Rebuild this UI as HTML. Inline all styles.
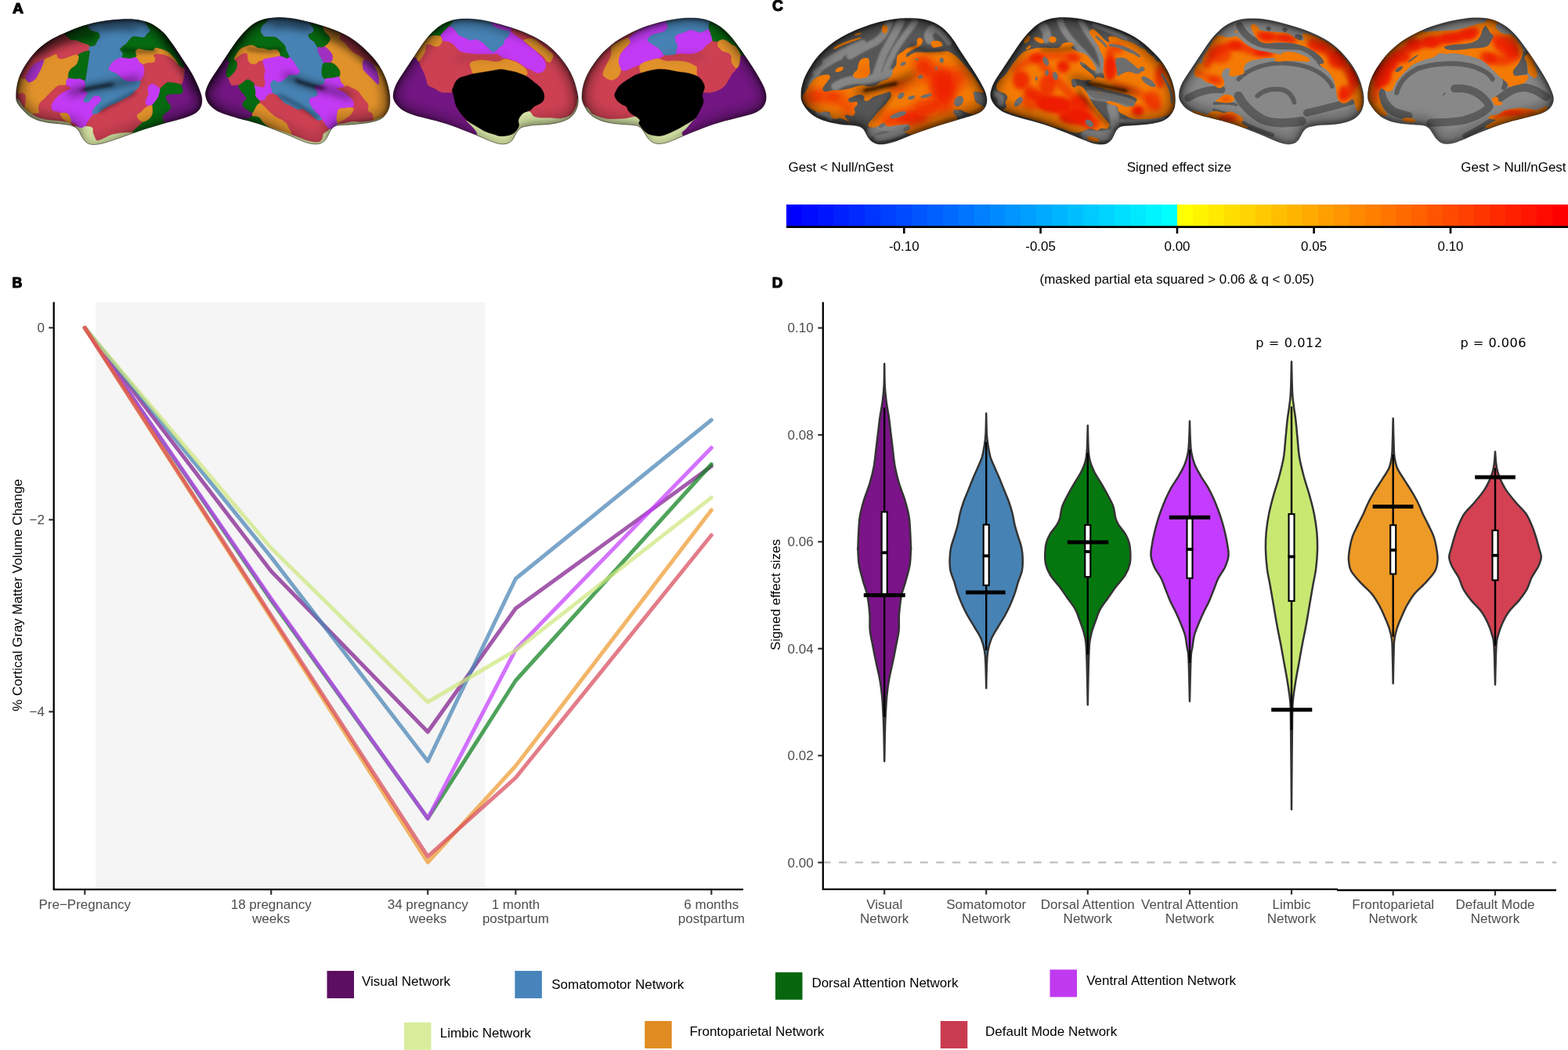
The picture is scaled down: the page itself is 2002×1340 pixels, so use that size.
<!DOCTYPE html>
<html><head><meta charset="utf-8"><title>Figure</title>
<style>
html,body{margin:0;padding:0;background:#fff;}
body{width:2002px;height:1340px;overflow:hidden;font-family:"Liberation Sans",sans-serif;}
svg{display:block;}
text{font-family:"Liberation Sans",sans-serif;}
.ax{fill:#4d4d4d;font-size:17px;}
.bk{fill:#000;font-size:16.95px;}
.lg{fill:#000;font-size:17px;}
.pl{fill:#000;font-size:20px;font-weight:bold;stroke:#000;stroke-width:1.2px;stroke-linejoin:round;vector-effect:non-scaling-stroke;}
.mono{font-family:"DejaVu Sans",sans-serif;font-size:16.2px;fill:#000;}
</style></head><body>
<svg width="2002" height="1340" viewBox="0 0 2002 1340">
<rect width="2002" height="1340" fill="#fff"/>
<text class="pl" transform="matrix(0.9701 0 0 0.96 16.11 16.75)">A</text>
<text class="pl" transform="matrix(0.8852 0 0 0.9420 15.45 366.60)">B</text>
<text class="pl" transform="matrix(0.9580 0 0 0.9859 986.08 14.20)">C</text>
<text class="pl" transform="matrix(0.9390 0 0 0.9420 985.63 366.60)">D</text>
<g shape-rendering="crispEdges"><rect x="1004" y="261.3" width="20.5" height="28" fill="#0000ff"/><rect x="1024" y="261.3" width="20.5" height="28" fill="#000bff"/><rect x="1043.9" y="261.3" width="20.5" height="28" fill="#0015ff"/><rect x="1063.9" y="261.3" width="20.5" height="28" fill="#0020ff"/><rect x="1083.8" y="261.3" width="20.5" height="28" fill="#002aff"/><rect x="1103.8" y="261.3" width="20.5" height="28" fill="#0035ff"/><rect x="1123.8" y="261.3" width="20.5" height="28" fill="#0040ff"/><rect x="1143.7" y="261.3" width="20.5" height="28" fill="#004aff"/><rect x="1163.7" y="261.3" width="20.5" height="28" fill="#0055ff"/><rect x="1183.6" y="261.3" width="20.5" height="28" fill="#0060ff"/><rect x="1203.6" y="261.3" width="20.5" height="28" fill="#006aff"/><rect x="1223.6" y="261.3" width="20.5" height="28" fill="#0075ff"/><rect x="1243.5" y="261.3" width="20.5" height="28" fill="#0080ff"/><rect x="1263.5" y="261.3" width="20.5" height="28" fill="#008aff"/><rect x="1283.4" y="261.3" width="20.5" height="28" fill="#0095ff"/><rect x="1303.4" y="261.3" width="20.5" height="28" fill="#009fff"/><rect x="1323.4" y="261.3" width="20.5" height="28" fill="#00aaff"/><rect x="1343.3" y="261.3" width="20.5" height="28" fill="#00b5ff"/><rect x="1363.3" y="261.3" width="20.5" height="28" fill="#00bfff"/><rect x="1383.2" y="261.3" width="20.5" height="28" fill="#00caff"/><rect x="1403.2" y="261.3" width="20.5" height="28" fill="#00d4ff"/><rect x="1423.2" y="261.3" width="20.5" height="28" fill="#00dfff"/><rect x="1443.1" y="261.3" width="20.5" height="28" fill="#00eaff"/><rect x="1463.1" y="261.3" width="20.5" height="28" fill="#00f4ff"/><rect x="1483" y="261.3" width="20.5" height="28" fill="#00ffff"/><rect x="1503" y="261.3" width="20.5" height="28" fill="#ffff00"/><rect x="1523" y="261.3" width="20.5" height="28" fill="#fff400"/><rect x="1542.9" y="261.3" width="20.5" height="28" fill="#ffea00"/><rect x="1562.9" y="261.3" width="20.5" height="28" fill="#ffdf00"/><rect x="1582.8" y="261.3" width="20.5" height="28" fill="#ffd400"/><rect x="1602.8" y="261.3" width="20.5" height="28" fill="#ffca00"/><rect x="1622.8" y="261.3" width="20.5" height="28" fill="#ffbf00"/><rect x="1642.7" y="261.3" width="20.5" height="28" fill="#ffb500"/><rect x="1662.7" y="261.3" width="20.5" height="28" fill="#ffaa00"/><rect x="1682.6" y="261.3" width="20.5" height="28" fill="#ff9f00"/><rect x="1702.6" y="261.3" width="20.5" height="28" fill="#ff9500"/><rect x="1722.6" y="261.3" width="20.5" height="28" fill="#ff8a00"/><rect x="1742.5" y="261.3" width="20.5" height="28" fill="#ff8000"/><rect x="1762.5" y="261.3" width="20.5" height="28" fill="#ff7500"/><rect x="1782.4" y="261.3" width="20.5" height="28" fill="#ff6a00"/><rect x="1802.4" y="261.3" width="20.5" height="28" fill="#ff6000"/><rect x="1822.4" y="261.3" width="20.5" height="28" fill="#ff5500"/><rect x="1842.3" y="261.3" width="20.5" height="28" fill="#ff4a00"/><rect x="1862.3" y="261.3" width="20.5" height="28" fill="#ff4000"/><rect x="1882.2" y="261.3" width="20.5" height="28" fill="#ff3500"/><rect x="1902.2" y="261.3" width="20.5" height="28" fill="#ff2a00"/><rect x="1922.2" y="261.3" width="20.5" height="28" fill="#ff2000"/><rect x="1942.1" y="261.3" width="20.5" height="28" fill="#ff1500"/><rect x="1962.1" y="261.3" width="20.5" height="28" fill="#ff0b00"/><rect x="1982" y="261.3" width="20.5" height="28" fill="#ff0000"/></g>
<rect x="1004" y="288.3" width="998" height="2.7" fill="#000"/>
<rect x="1153" y="290" width="2.6" height="8" fill="#000"/>
<text class="bk" x="1154.3" y="320.3" text-anchor="middle">-0.10</text>
<rect x="1327.3" y="290" width="2.6" height="8" fill="#000"/>
<text class="bk" x="1328.6" y="320.3" text-anchor="middle">-0.05</text>
<rect x="1501.7" y="290" width="2.6" height="8" fill="#000"/>
<text class="bk" x="1503" y="320.3" text-anchor="middle">0.00</text>
<rect x="1676.3" y="290" width="2.6" height="8" fill="#000"/>
<text class="bk" x="1677.6" y="320.3" text-anchor="middle">0.05</text>
<rect x="1850.7" y="290" width="2.6" height="8" fill="#000"/>
<text class="bk" x="1852" y="320.3" text-anchor="middle">0.10</text>
<text class="bk" x="1006.5" y="218.8">Gest &lt; Null/nGest</text>
<text class="bk" x="1505.5" y="218.5" text-anchor="middle">Signed effect size</text>
<text class="bk" x="1999.5" y="218.8" text-anchor="end">Gest &gt; Null/nGest</text>
<text class="bk" x="1502.7" y="361.8" text-anchor="middle">(masked partial eta squared &gt; 0.06 &amp; q &lt; 0.05)</text>
<rect x="122.3" y="386" width="497" height="748.5" fill="#f5f5f5"/>
<path d="M68.7 385.5V1135.2H949" fill="none" stroke="#000" stroke-width="2.3"/>
<path d="M62.3 418.3H68" stroke="#333" stroke-width="2.2"/>
<text class="ax" x="57" y="424.2" text-anchor="end">0</text>
<path d="M62.3 663.3H68" stroke="#333" stroke-width="2.2"/>
<text class="ax" x="57" y="669.2" text-anchor="end">−2</text>
<path d="M62.3 908.3H68" stroke="#333" stroke-width="2.2"/>
<text class="ax" x="57" y="914.2" text-anchor="end">−4</text>
<path d="M108.3 1136V1141.8" stroke="#333" stroke-width="2.2"/>
<text class="ax" x="108.3" y="1159.5" text-anchor="middle">Pre−Pregnancy</text>
<path d="M346.2 1136V1141.8" stroke="#333" stroke-width="2.2"/>
<text class="ax" x="346.2" y="1159.5" text-anchor="middle">18 pregnancy</text>
<text class="ax" x="346.2" y="1177.5" text-anchor="middle">weeks</text>
<path d="M546.2 1136V1141.8" stroke="#333" stroke-width="2.2"/>
<text class="ax" x="546.2" y="1159.5" text-anchor="middle">34 pregnancy</text>
<text class="ax" x="546.2" y="1177.5" text-anchor="middle">weeks</text>
<path d="M658.4 1136V1141.8" stroke="#333" stroke-width="2.2"/>
<text class="ax" x="658.4" y="1159.5" text-anchor="middle">1 month</text>
<text class="ax" x="658.4" y="1177.5" text-anchor="middle">postpartum</text>
<path d="M908.3 1136V1141.8" stroke="#333" stroke-width="2.2"/>
<text class="ax" x="908.3" y="1159.5" text-anchor="middle">6 months</text>
<text class="ax" x="908.3" y="1177.5" text-anchor="middle">postpartum</text>
<text class="bk" transform="translate(28.3 759.5) rotate(-90)" text-anchor="middle">% Cortical Gray Matter Volume Change</text>
<path d="M108.3 418.3L346.2 729L546.2 934L658.4 776.5L908.3 595" fill="none" stroke="#7f1b8c" stroke-opacity="0.72" stroke-width="5" stroke-linecap="round" stroke-linejoin="round"/>
<path d="M108.3 418.3L346.2 711L546.2 971.5L658.4 738.5L908.3 536" fill="none" stroke="#4682b4" stroke-opacity="0.72" stroke-width="5" stroke-linecap="round" stroke-linejoin="round"/>
<path d="M108.3 418.3L346.2 766L546.2 1044.5L658.4 868.5L908.3 592.5" fill="none" stroke="#0b7f1c" stroke-opacity="0.72" stroke-width="5" stroke-linecap="round" stroke-linejoin="round"/>
<path d="M108.3 418.3L346.2 764L546.2 1044.5L658.4 829L908.3 571.5" fill="none" stroke="#c43cff" stroke-opacity="0.72" stroke-width="5" stroke-linecap="round" stroke-linejoin="round"/>
<path d="M108.3 418.3L346.2 699.5L546.2 896L658.4 830L908.3 635" fill="none" stroke="#cde87e" stroke-opacity="0.72" stroke-width="5" stroke-linecap="round" stroke-linejoin="round"/>
<path d="M108.3 418.3L346.2 788.5L546.2 1100.5L658.4 977.5L908.3 651" fill="none" stroke="#ee9a2e" stroke-opacity="0.72" stroke-width="5" stroke-linecap="round" stroke-linejoin="round"/>
<path d="M108.3 418.3L346.2 785.5L546.2 1093L658.4 992.5L908.3 683" fill="none" stroke="#d84a5a" stroke-opacity="0.72" stroke-width="5" stroke-linecap="round" stroke-linejoin="round"/>
<path d="M1050.4 1100.7H1987.3" fill="none" stroke="#bebebe" stroke-width="2.3" stroke-dasharray="10.2 10.5"/>
<path d="M1050.8 385.5V1134.8H1708" fill="none" stroke="#000" stroke-width="2.3"/>
<path d="M1707 1136H1987" fill="none" stroke="#000" stroke-width="2.3"/>
<path d="M1044.3 418.5H1050" stroke="#333" stroke-width="2.2"/>
<text class="ax" x="1038.7" y="424.4" text-anchor="end">0.10</text>
<path d="M1044.3 555H1050" stroke="#333" stroke-width="2.2"/>
<text class="ax" x="1038.7" y="560.9" text-anchor="end">0.08</text>
<path d="M1044.3 691.4H1050" stroke="#333" stroke-width="2.2"/>
<text class="ax" x="1038.7" y="697.3" text-anchor="end">0.06</text>
<path d="M1044.3 827.8H1050" stroke="#333" stroke-width="2.2"/>
<text class="ax" x="1038.7" y="833.7" text-anchor="end">0.04</text>
<path d="M1044.3 964.3H1050" stroke="#333" stroke-width="2.2"/>
<text class="ax" x="1038.7" y="970.2" text-anchor="end">0.02</text>
<path d="M1044.3 1100.7H1050" stroke="#333" stroke-width="2.2"/>
<text class="ax" x="1038.7" y="1106.6" text-anchor="end">0.00</text>
<text class="bk" transform="translate(996 759) rotate(-90)" text-anchor="middle">Signed effect sizes</text>
<path d="M1129.2 1135.8V1141.6" stroke="#333" stroke-width="2.2"/>
<text class="ax" x="1129.2" y="1160" text-anchor="middle">Visual</text>
<text class="ax" x="1129.2" y="1178" text-anchor="middle">Network</text>
<path d="M1259.2 1135.8V1141.6" stroke="#333" stroke-width="2.2"/>
<text class="ax" x="1259.2" y="1160" text-anchor="middle">Somatomotor</text>
<text class="ax" x="1259.2" y="1178" text-anchor="middle">Network</text>
<path d="M1388.8 1135.8V1141.6" stroke="#333" stroke-width="2.2"/>
<text class="ax" x="1388.8" y="1160" text-anchor="middle">Dorsal Attention</text>
<text class="ax" x="1388.8" y="1178" text-anchor="middle">Network</text>
<path d="M1519 1135.8V1141.6" stroke="#333" stroke-width="2.2"/>
<text class="ax" x="1519" y="1160" text-anchor="middle">Ventral Attention</text>
<text class="ax" x="1519" y="1178" text-anchor="middle">Network</text>
<path d="M1649 1135.8V1141.6" stroke="#333" stroke-width="2.2"/>
<text class="ax" x="1649" y="1160" text-anchor="middle">Limbic</text>
<text class="ax" x="1649" y="1178" text-anchor="middle">Network</text>
<path d="M1778.7 1137V1142.8" stroke="#333" stroke-width="2.2"/>
<text class="ax" x="1778.7" y="1160" text-anchor="middle">Frontoparietal</text>
<text class="ax" x="1778.7" y="1178" text-anchor="middle">Network</text>
<path d="M1909 1137V1142.8" stroke="#333" stroke-width="2.2"/>
<text class="ax" x="1909" y="1160" text-anchor="middle">Default Mode</text>
<text class="ax" x="1909" y="1178" text-anchor="middle">Network</text>
<path d="M1129.2 464.2C1129.3 468.8 1129.3 483.7 1129.7 491.8C1130.1 499.9 1130.8 505.7 1131.7 512.7C1132.6 519.6 1134.1 526.6 1135.1 533.6C1136 540.5 1136.7 547.5 1137.6 554.5C1138.4 561.4 1139.2 568.4 1140.1 575.4C1140.9 582.3 1141.5 589.3 1142.8 596.3C1144.1 603.2 1145.9 610.2 1148 617.2C1150.1 624.1 1153.2 631.1 1155.3 638C1157.4 645 1159.4 652 1160.5 658.9C1161.7 665.9 1161.8 672.9 1162.2 679.8C1162.6 686.8 1162.9 697.4 1163 700.7C1163.2 704.1 1163.3 696.6 1163 700C1162.8 703.4 1162.7 713.9 1161.6 720.9C1160.5 727.9 1158.1 735.3 1156.4 741.8C1154.6 748.2 1152.5 752.6 1151.1 759.5C1149.7 766.5 1148.6 776.1 1148 783.6C1147.4 791.1 1148.3 797.5 1147.6 804.5C1146.9 811.4 1145.1 818.4 1143.8 825.4C1142.5 832.3 1141.1 839.3 1139.6 846.3C1138.2 853.2 1136.3 860.2 1135.1 867.2C1133.8 874.1 1133 881.1 1132.3 888C1131.6 895 1131.3 902 1130.9 908.9C1130.5 915.9 1130.3 919.4 1130 929.8C1129.8 940.3 1129.3 964.7 1129.2 971.6L1129.2 971.6C1129.1 964.7 1128.6 940.3 1128.4 929.8C1128.1 919.4 1127.9 915.9 1127.5 908.9C1127.1 902 1126.8 895 1126.1 888C1125.4 881.1 1124.6 874.1 1123.3 867.2C1122.1 860.2 1120.2 853.2 1118.8 846.3C1117.3 839.3 1115.9 832.3 1114.6 825.4C1113.3 818.4 1111.5 811.4 1110.8 804.5C1110.1 797.5 1111 791.1 1110.4 783.6C1109.8 776.1 1108.7 766.5 1107.3 759.5C1105.9 752.6 1103.8 748.2 1102 741.8C1100.3 735.3 1097.9 727.9 1096.8 720.9C1095.7 713.9 1095.6 703.4 1095.4 700C1095.1 696.6 1095.2 704.1 1095.4 700.7C1095.5 697.4 1095.8 686.8 1096.2 679.8C1096.6 672.9 1096.7 665.9 1097.9 658.9C1099 652 1101 645 1103.1 638C1105.2 631.1 1108.3 624.1 1110.4 617.2C1112.5 610.2 1114.3 603.2 1115.6 596.3C1116.9 589.3 1117.5 582.3 1118.3 575.4C1119.2 568.4 1120 561.4 1120.8 554.5C1121.7 547.5 1122.4 540.5 1123.3 533.6C1124.3 526.6 1125.8 519.6 1126.7 512.7C1127.6 505.7 1128.3 499.9 1128.7 491.8C1129.1 483.7 1129.1 468.8 1129.2 464.2Z" fill="#7b1389" stroke="#333" stroke-width="2.5" stroke-linejoin="round"/>
<path d="M1129.2 520V915" stroke="#000" stroke-width="2.4"/>
<rect x="1125.7" y="653.3" width="7" height="105.2" fill="#fff" stroke="#000" stroke-width="2.1"/>
<rect x="1124.7" y="703.4" width="9" height="3.8" fill="#000"/>
<rect x="1102.8" y="757.1" width="52.9" height="5" fill="#000"/>
<path d="M1259.2 527.5C1259.3 531.8 1259.5 546.9 1259.9 553.7C1260.3 560.4 1260.8 563.4 1261.5 568.2C1262.3 573.1 1263 577.9 1264.4 582.8C1265.9 587.6 1268.2 592.5 1270.3 597.3C1272.3 602.2 1274.6 607 1276.7 611.9C1278.7 616.7 1280.5 621.6 1282.5 626.4C1284.4 631.3 1286.6 636.1 1288.3 641C1290 645.8 1291.5 650.7 1292.7 655.5C1293.9 660.4 1294.4 665.2 1295.6 670.1C1296.8 674.9 1298.5 679.8 1299.9 684.6C1301.4 689.5 1303.3 694.3 1304.3 699.2C1305.3 704 1305.7 708.9 1305.8 713.7C1305.9 718.6 1305.9 723.4 1304.9 728.3C1303.9 733.1 1301.5 738 1299.9 742.8C1298.4 747.7 1297.3 752.5 1295.6 757.4C1293.9 762.2 1291.9 767.1 1289.8 771.9C1287.6 776.8 1285.2 781.6 1282.5 786.5C1279.8 791.3 1276.6 796.2 1273.8 801C1270.9 805.9 1267.6 810.7 1265.6 815.6C1263.6 820.4 1262.4 825.3 1261.5 830.1C1260.6 835 1260.5 836.7 1260.1 844.7C1259.7 852.7 1259.3 872.6 1259.2 878.2L1259.2 878.2C1259.1 872.6 1258.7 852.7 1258.3 844.7C1257.9 836.7 1257.8 835 1256.9 830.1C1256 825.3 1254.8 820.4 1252.8 815.6C1250.8 810.7 1247.5 805.9 1244.6 801C1241.8 796.2 1238.6 791.3 1235.9 786.5C1233.2 781.6 1230.8 776.8 1228.6 771.9C1226.5 767.1 1224.5 762.2 1222.8 757.4C1221.1 752.5 1220 747.7 1218.5 742.8C1216.9 738 1214.5 733.1 1213.5 728.3C1212.5 723.4 1212.5 718.6 1212.6 713.7C1212.7 708.9 1213.1 704 1214.1 699.2C1215.1 694.3 1217 689.5 1218.5 684.6C1219.9 679.8 1221.6 674.9 1222.8 670.1C1224 665.2 1224.5 660.4 1225.7 655.5C1226.9 650.7 1228.4 645.8 1230.1 641C1231.8 636.1 1234 631.3 1235.9 626.4C1237.9 621.6 1239.7 616.7 1241.7 611.9C1243.8 607 1246.1 602.2 1248.1 597.3C1250.2 592.5 1252.5 587.6 1254 582.8C1255.4 577.9 1256.1 573.1 1256.9 568.2C1257.6 563.4 1258.1 560.4 1258.5 553.7C1258.9 546.9 1259.1 531.8 1259.2 527.5Z" fill="#4682b4" stroke="#333" stroke-width="2.5" stroke-linejoin="round"/>
<path d="M1259.2 564V830" stroke="#000" stroke-width="2.4"/>
<rect x="1255.7" y="669.6" width="7" height="77.4" fill="#fff" stroke="#000" stroke-width="2.1"/>
<rect x="1254.7" y="707.5" width="9" height="3.8" fill="#000"/>
<rect x="1233" y="753.5" width="50.7" height="5" fill="#000"/>
<path d="M1388.8 543.1C1388.9 548.2 1389.2 566.1 1389.7 573.7C1390.2 581.2 1390.4 583.4 1391.7 588.2C1393 593.1 1395.1 597.9 1397.5 602.8C1400 607.6 1403.4 612.5 1406.3 617.3C1409.1 622.2 1411.9 627 1414.4 631.9C1416.9 636.7 1419.7 641.6 1421.4 646.4C1423 651.3 1423.2 657.1 1424.3 661C1425.4 664.8 1426 666.3 1428.1 669.7C1430.2 673.1 1434.5 677.5 1436.8 681.3C1439.1 685.2 1440.7 689.1 1441.8 693C1442.8 696.9 1443.1 700.3 1443.2 704.6C1443.4 709 1443.7 714.3 1442.6 719.2C1441.6 724 1439.7 728.9 1436.8 733.7C1433.9 738.6 1428.8 743.4 1425.2 748.3C1421.5 753.1 1418.4 758 1415 762.8C1411.6 767.7 1407.5 772.5 1404.8 777.4C1402.1 782.2 1400.8 787.1 1399 791.9C1397.2 796.8 1395.3 801.6 1394 806.5C1392.7 811.3 1391.8 813.8 1391.1 821C1390.4 828.3 1390.2 837 1389.8 850.1C1389.4 863.2 1389 891.4 1388.8 899.6L1388.8 899.6C1388.6 891.4 1388.2 863.2 1387.8 850.1C1387.4 837 1387.2 828.3 1386.5 821C1385.8 813.8 1384.9 811.3 1383.6 806.5C1382.3 801.6 1380.4 796.8 1378.6 791.9C1376.8 787.1 1375.5 782.2 1372.8 777.4C1370.1 772.5 1366 767.7 1362.6 762.8C1359.2 758 1356.1 753.1 1352.4 748.3C1348.8 743.4 1343.7 738.6 1340.8 733.7C1337.9 728.9 1336 724 1335 719.2C1333.9 714.3 1334.2 709 1334.4 704.6C1334.5 700.3 1334.8 696.9 1335.8 693C1336.9 689.1 1338.5 685.2 1340.8 681.3C1343.1 677.5 1347.4 673.1 1349.5 669.7C1351.6 666.3 1352.2 664.8 1353.3 661C1354.4 657.1 1354.6 651.3 1356.2 646.4C1357.9 641.6 1360.7 636.7 1363.2 631.9C1365.7 627 1368.5 622.2 1371.3 617.3C1374.2 612.5 1377.6 607.6 1380.1 602.8C1382.5 597.9 1384.6 593.1 1385.9 588.2C1387.2 583.4 1387.4 581.2 1387.9 573.7C1388.4 566.1 1388.7 548.2 1388.8 543.1Z" fill="#04780e" stroke="#333" stroke-width="2.5" stroke-linejoin="round"/>
<path d="M1388.8 578V835.6" stroke="#000" stroke-width="2.4"/>
<rect x="1385.3" y="670" width="7" height="66.2" fill="#fff" stroke="#000" stroke-width="2.1"/>
<rect x="1384.3" y="702.1" width="9" height="3.8" fill="#000"/>
<rect x="1362.8" y="689.5" width="52.4" height="5" fill="#000"/>
<path d="M1519 537.5C1519.1 541.8 1519.5 556.9 1519.9 563.7C1520.3 570.4 1520.4 573.4 1521.3 578.2C1522.2 583.1 1523.5 587.9 1525.4 592.8C1527.3 597.6 1530.2 602.5 1533 607.3C1535.8 612.2 1539.5 617 1542.3 621.9C1545 626.7 1547.4 631.6 1549.6 636.4C1551.7 641.3 1553.6 646.1 1555.4 651C1557.2 655.8 1558.9 660.7 1560.3 665.5C1561.8 670.4 1563 675.2 1564.1 680.1C1565.2 684.9 1566.3 689.8 1567 694.6C1567.7 699.5 1569 704.3 1568.5 709.2C1568 714 1566.3 718.9 1564.1 723.7C1561.9 728.6 1557.8 733.4 1555.4 738.3C1553 743.1 1551.5 748 1549.6 752.8C1547.6 757.7 1545.9 762.5 1543.7 767.4C1541.6 772.2 1538.7 777.1 1536.5 781.9C1534.2 786.8 1532 791.6 1530.1 796.5C1528.1 801.3 1526.1 806.2 1524.8 811C1523.6 815.9 1523.2 820.7 1522.5 825.6C1521.8 830.4 1521 828.6 1520.5 840.1C1519.9 851.7 1519.2 885.7 1519 894.9L1519 894.9C1518.8 885.7 1518.1 851.7 1517.5 840.1C1517 828.6 1516.2 830.4 1515.5 825.6C1514.8 820.7 1514.4 815.9 1513.2 811C1511.9 806.2 1509.9 801.3 1507.9 796.5C1506 791.6 1503.8 786.8 1501.5 781.9C1499.3 777.1 1496.4 772.2 1494.3 767.4C1492.1 762.5 1490.4 757.7 1488.4 752.8C1486.5 748 1485 743.1 1482.6 738.3C1480.2 733.4 1476.1 728.6 1473.9 723.7C1471.7 718.9 1470 714 1469.5 709.2C1469 704.3 1470.3 699.5 1471 694.6C1471.7 689.8 1472.8 684.9 1473.9 680.1C1475 675.2 1476.2 670.4 1477.7 665.5C1479.1 660.7 1480.8 655.8 1482.6 651C1484.4 646.1 1486.3 641.3 1488.4 636.4C1490.6 631.6 1493 626.7 1495.7 621.9C1498.5 617 1502.2 612.2 1505 607.3C1507.8 602.5 1510.7 597.6 1512.6 592.8C1514.5 587.9 1515.8 583.1 1516.7 578.2C1517.6 573.4 1517.7 570.4 1518.1 563.7C1518.5 556.9 1518.9 541.8 1519 537.5Z" fill="#c43cff" stroke="#333" stroke-width="2.5" stroke-linejoin="round"/>
<path d="M1519 573.8V846" stroke="#000" stroke-width="2.4"/>
<rect x="1515.5" y="661.3" width="7" height="76.6" fill="#fff" stroke="#000" stroke-width="2.1"/>
<rect x="1514.5" y="699.1" width="9" height="3.8" fill="#000"/>
<rect x="1492.8" y="657.8" width="52.4" height="5" fill="#000"/>
<path d="M1649 461.5C1649.2 467.9 1649.5 490.2 1650 499.7C1650.4 509.3 1651.2 512.9 1651.9 518.8C1652.6 524.8 1653.5 528.8 1654.3 535.6C1655.1 542.3 1655.8 551.5 1656.6 559.4C1657.4 567.4 1657.7 575.4 1659 583.3C1660.3 591.3 1662.4 599.3 1664.5 607.2C1666.6 615.2 1669.5 623.2 1671.7 631.1C1673.9 639.1 1676.1 647 1677.7 655C1679.3 663 1680.5 670.9 1681.3 678.9C1682 686.9 1682.2 694.8 1682 702.8C1681.8 710.7 1681.1 718.8 1680.1 726.7C1679 734.5 1677.1 742.1 1675.8 750C1674.4 757.9 1673 765.9 1671.7 773.9C1670.3 781.9 1669.1 789.8 1667.6 797.8C1666.2 805.7 1664.4 813.7 1662.9 821.7C1661.3 829.6 1660 837.6 1658.6 845.6C1657.1 853.5 1655.5 861.5 1654.3 869.4C1653 877.4 1651.6 885.4 1650.9 893.3C1650.2 901.3 1650.3 893.9 1650 917.2C1649.6 940.5 1649.2 1013.8 1649 1033.1L1649 1033.1C1648.8 1013.8 1648.4 940.5 1648 917.2C1647.7 893.9 1647.8 901.3 1647.1 893.3C1646.4 885.4 1645 877.4 1643.7 869.4C1642.5 861.5 1640.9 853.5 1639.4 845.6C1638 837.6 1636.7 829.6 1635.1 821.7C1633.6 813.7 1631.8 805.7 1630.4 797.8C1628.9 789.8 1627.7 781.9 1626.3 773.9C1625 765.9 1623.6 757.9 1622.2 750C1620.9 742.1 1619 734.5 1617.9 726.7C1616.9 718.8 1616.2 710.7 1616 702.8C1615.8 694.8 1616 686.9 1616.7 678.9C1617.5 670.9 1618.7 663 1620.3 655C1621.9 647 1624.1 639.1 1626.3 631.1C1628.5 623.2 1631.4 615.2 1633.5 607.2C1635.6 599.3 1637.7 591.3 1639 583.3C1640.3 575.4 1640.6 567.4 1641.4 559.4C1642.2 551.5 1642.9 542.3 1643.7 535.6C1644.5 528.8 1645.4 524.8 1646.1 518.8C1646.8 512.9 1647.6 509.3 1648 499.7C1648.5 490.2 1648.8 467.9 1649 461.5Z" fill="#c8e871" stroke="#333" stroke-width="2.5" stroke-linejoin="round"/>
<path d="M1649 518.8V931.6" stroke="#000" stroke-width="2.4"/>
<rect x="1645.5" y="656" width="7" height="111" fill="#fff" stroke="#000" stroke-width="2.1"/>
<rect x="1644.5" y="708.5" width="9" height="3.8" fill="#000"/>
<rect x="1623.2" y="903.3" width="52.1" height="5" fill="#000"/>
<path d="M1778.7 533.9C1778.8 539.6 1779.3 560.1 1779.6 568.2C1779.9 576.4 1779.7 577.9 1780.4 582.8C1781.2 587.6 1781.9 592.5 1783.9 597.3C1786 602.2 1789.7 607 1792.7 611.9C1795.7 616.7 1799.1 621.6 1802 626.4C1804.9 631.3 1807.7 636.1 1810.1 641C1812.6 645.8 1814.3 650.7 1816.5 655.5C1818.8 660.4 1821.5 665.2 1823.8 670.1C1826.1 674.9 1828.8 679.8 1830.5 684.6C1832.2 689.5 1833.2 694.3 1834 699.2C1834.8 704 1835.7 708.9 1835.5 713.7C1835.2 718.6 1835 723.4 1832.5 728.3C1830.1 733.1 1825.3 738 1820.9 742.8C1816.5 747.7 1810.4 752.5 1806.3 757.4C1802.3 762.2 1799.5 767.1 1796.7 771.9C1794 776.8 1791.9 781.6 1789.8 786.5C1787.6 791.3 1785.5 796.2 1783.9 801C1782.4 805.9 1781.2 810.7 1780.4 815.6C1779.7 820.4 1779.9 820.7 1779.6 830.1C1779.3 839.6 1778.8 865.3 1778.7 872.3L1778.7 872.3C1778.6 865.3 1778.1 839.6 1777.8 830.1C1777.5 820.7 1777.7 820.4 1777 815.6C1776.2 810.7 1775 805.9 1773.5 801C1771.9 796.2 1769.8 791.3 1767.6 786.5C1765.5 781.6 1763.4 776.8 1760.7 771.9C1757.9 767.1 1755.1 762.2 1751.1 757.4C1747 752.5 1740.9 747.7 1736.5 742.8C1732.1 738 1727.3 733.1 1724.9 728.3C1722.4 723.4 1722.2 718.6 1721.9 713.7C1721.7 708.9 1722.6 704 1723.4 699.2C1724.2 694.3 1725.2 689.5 1726.9 684.6C1728.6 679.8 1731.3 674.9 1733.6 670.1C1735.9 665.2 1738.6 660.4 1740.9 655.5C1743.1 650.7 1744.8 645.8 1747.3 641C1749.7 636.1 1752.5 631.3 1755.4 626.4C1758.3 621.6 1761.7 616.7 1764.7 611.9C1767.7 607 1771.4 602.2 1773.5 597.3C1775.5 592.5 1776.2 587.6 1777 582.8C1777.7 577.9 1777.5 576.4 1777.8 568.2C1778.1 560.1 1778.6 539.6 1778.7 533.9Z" fill="#ee9a26" stroke="#333" stroke-width="2.5" stroke-linejoin="round"/>
<path d="M1778.7 579.8V812.7" stroke="#000" stroke-width="2.4"/>
<rect x="1775.2" y="670.2" width="7" height="62.3" fill="#fff" stroke="#000" stroke-width="2.1"/>
<rect x="1774.2" y="700.1" width="9" height="3.8" fill="#000"/>
<rect x="1752.7" y="644" width="51.8" height="5" fill="#000"/>
<path d="M1909 576.4C1909.2 578.9 1909.6 587 1910.2 591.5C1910.7 596 1911.3 599.3 1912.5 603.1C1913.7 607 1915.3 610.9 1917.1 614.8C1919 618.7 1920.5 622 1923.6 626.4C1926.6 630.8 1931.1 636.1 1935.2 641C1939.3 645.8 1944.9 650.7 1948.3 655.5C1951.7 660.4 1953.5 665.2 1955.6 670.1C1957.7 674.9 1959.3 679.8 1960.8 684.6C1962.4 689.5 1963.7 694.8 1964.9 699.2C1966 703.5 1967.9 706.9 1967.8 710.8C1967.7 714.7 1966.3 718.1 1964.3 722.5C1962.3 726.8 1958 732.2 1955.6 737C1953.1 741.9 1952.4 746.7 1949.7 751.6C1947.1 756.4 1943.4 761.3 1939.6 766.1C1935.7 771 1930 775.8 1926.5 780.7C1922.9 785.5 1920.5 790.4 1918.3 795.2C1916.1 800.1 1914.4 804.9 1913.1 809.8C1911.8 814.6 1911.1 813.6 1910.5 824.3C1909.8 835 1909.2 865.5 1909 873.8L1909 873.8C1908.8 865.5 1908.2 835 1907.5 824.3C1906.9 813.6 1906.2 814.6 1904.9 809.8C1903.6 804.9 1901.9 800.1 1899.7 795.2C1897.5 790.4 1895.1 785.5 1891.5 780.7C1888 775.8 1882.3 771 1878.4 766.1C1874.6 761.3 1870.9 756.4 1868.3 751.6C1865.6 746.7 1864.9 741.9 1862.4 737C1860 732.2 1855.7 726.8 1853.7 722.5C1851.7 718.1 1850.3 714.7 1850.2 710.8C1850.1 706.9 1852 703.5 1853.1 699.2C1854.3 694.8 1855.6 689.5 1857.2 684.6C1858.7 679.8 1860.3 674.9 1862.4 670.1C1864.5 665.2 1866.3 660.4 1869.7 655.5C1873.1 650.7 1878.7 645.8 1882.8 641C1886.9 636.1 1891.4 630.8 1894.4 626.4C1897.5 622 1899 618.7 1900.9 614.8C1902.7 610.9 1904.3 607 1905.5 603.1C1906.7 599.3 1907.3 596 1907.8 591.5C1908.4 587 1908.8 578.9 1909 576.4Z" fill="#d44152" stroke="#333" stroke-width="2.5" stroke-linejoin="round"/>
<path d="M1909 597.3V824.3" stroke="#000" stroke-width="2.4"/>
<rect x="1905.5" y="676.9" width="7" height="63.5" fill="#fff" stroke="#000" stroke-width="2.1"/>
<rect x="1904.5" y="706.9" width="9" height="3.8" fill="#000"/>
<rect x="1883.2" y="606.5" width="51.6" height="5" fill="#000"/>
<text class="mono" x="1603.3" y="443" textLength="85" lengthAdjust="spacing">p = 0.012</text>
<text class="mono" x="1864.5" y="443" textLength="84" lengthAdjust="spacing">p = 0.006</text>
<rect x="417.5" y="1239" width="34.5" height="35" fill="#5c0f62"/>
<text class="lg" x="462" y="1258.4">Visual Network</text>
<rect x="657.4" y="1239" width="34.5" height="35" fill="#4884bc"/>
<text class="lg" x="704.2" y="1262">Somatomotor Network</text>
<rect x="990" y="1240.8" width="34.5" height="35" fill="#06670f"/>
<text class="lg" x="1036.4" y="1260.3">Dorsal Attention Network</text>
<rect x="1340.5" y="1237.4" width="34.5" height="35" fill="#c03af0"/>
<text class="lg" x="1387.2" y="1257.2">Ventral Attention Network</text>
<rect x="516" y="1304.8" width="34.5" height="35" fill="#d8ec9c"/>
<text class="lg" x="561.8" y="1324">Limbic Network</text>
<rect x="823.2" y="1303" width="34.5" height="35" fill="#e08c22"/>
<text class="lg" x="880.4" y="1321.9">Frontoparietal Network</text>
<rect x="1200.8" y="1303" width="34.5" height="35" fill="#c93c50"/>
<text class="lg" x="1258.1" y="1322.2">Default Mode Network</text>
<defs>
<linearGradient id="rg" x1="0" y1="0" x2="0" y2="1"><stop offset="0" stop-color="#000" stop-opacity="1"/><stop offset="0.65" stop-color="#000" stop-opacity="0.85"/><stop offset="1" stop-color="#000" stop-opacity="0.2"/></linearGradient>
<linearGradient id="rg2" x1="0" y1="0" x2="0" y2="1"><stop offset="0" stop-color="#000" stop-opacity="1"/><stop offset="0.65" stop-color="#000" stop-opacity="0.9"/><stop offset="1" stop-color="#000" stop-opacity="0.6"/></linearGradient>
<filter id="b3" filterUnits="userSpaceOnUse" x="-300" y="-300" width="2800" height="2200"><feGaussianBlur stdDeviation="3"/></filter>
<filter id="b6" filterUnits="userSpaceOnUse" x="-300" y="-300" width="2800" height="2200"><feGaussianBlur stdDeviation="6"/></filter>
<filter id="b10" filterUnits="userSpaceOnUse" x="-300" y="-300" width="2800" height="2200"><feGaussianBlur stdDeviation="10"/></filter>
<filter id="b20" filterUnits="userSpaceOnUse" x="-300" y="-300" width="2800" height="2200"><feGaussianBlur stdDeviation="20"/></filter>
<filter id="b40" filterUnits="userSpaceOnUse" x="-300" y="-300" width="2800" height="2200"><feGaussianBlur stdDeviation="40"/></filter>
</defs>
<g transform="translate(10 15) scale(0.13430)"><clipPath id="cpA1"><path d="M78 800C78 778.3 79.7 750 85 720C90.3 690 97.5 653.3 110 620C122.5 586.7 140 553.3 160 520C180 486.7 203.3 451.7 230 420C256.7 388.3 286.7 357.5 320 330C353.3 302.5 390 277.5 430 255C470 232.5 515 214.2 560 195C605 175.8 651.7 155.8 700 140C748.3 124.2 800 110.3 850 100C900 89.7 950 83 1000 78C1050 73 1108.3 69.7 1150 70C1191.7 70.3 1218.3 74.2 1250 80C1281.7 85.8 1311.7 93.3 1340 105C1368.3 116.7 1396.7 134.2 1420 150C1443.3 165.8 1461.7 181.7 1480 200C1498.3 218.3 1513.3 238.3 1530 260C1546.7 281.7 1561.7 303.3 1580 330C1598.3 356.7 1620 390 1640 420C1660 450 1681.7 481.7 1700 510C1718.3 538.3 1735 563.3 1750 590C1765 616.7 1778.3 645 1790 670C1801.7 695 1811.7 718.3 1820 740C1828.3 761.7 1835.8 781.7 1840 800C1844.2 818.3 1845.8 833.3 1845 850C1844.2 866.7 1840.8 885 1835 900C1829.2 915 1820.8 928.3 1810 940C1799.2 951.7 1788.3 960 1770 970C1751.7 980 1728.3 990 1700 1000C1671.7 1010 1633.3 1020.8 1600 1030C1566.7 1039.2 1533.3 1045.8 1500 1055C1466.7 1064.2 1433.3 1075 1400 1085C1366.7 1095 1333.3 1104.2 1300 1115C1266.7 1125.8 1233.3 1138.3 1200 1150C1166.7 1161.7 1133.3 1173.3 1100 1185C1066.7 1196.7 1030 1210 1000 1220C970 1230 945 1238.3 920 1245C895 1251.7 870 1257.2 850 1260C830 1262.8 815 1263.7 800 1262C785 1260.3 772.5 1257 760 1250C747.5 1243 735 1231.7 725 1220C715 1208.3 707.5 1193.3 700 1180C692.5 1166.7 688.3 1152.5 680 1140C671.7 1127.5 663.3 1115 650 1105C636.7 1095 625 1086.7 600 1080C575 1073.3 533.3 1069.2 500 1065C466.7 1060.8 433.3 1060 400 1055C366.7 1050 330 1044.2 300 1035C270 1025.8 243.3 1014.2 220 1000C196.7 985.8 177.5 966.7 160 950C142.5 933.3 127.5 916.7 115 900C102.5 883.3 91.2 866.7 85 850C78.8 833.3 78 821.7 78 800Z"/></clipPath><g clip-path="url(#cpA1)"><path d="M78 800C78 778.3 79.7 750 85 720C90.3 690 97.5 653.3 110 620C122.5 586.7 140 553.3 160 520C180 486.7 203.3 451.7 230 420C256.7 388.3 286.7 357.5 320 330C353.3 302.5 390 277.5 430 255C470 232.5 515 214.2 560 195C605 175.8 651.7 155.8 700 140C748.3 124.2 800 110.3 850 100C900 89.7 950 83 1000 78C1050 73 1108.3 69.7 1150 70C1191.7 70.3 1218.3 74.2 1250 80C1281.7 85.8 1311.7 93.3 1340 105C1368.3 116.7 1396.7 134.2 1420 150C1443.3 165.8 1461.7 181.7 1480 200C1498.3 218.3 1513.3 238.3 1530 260C1546.7 281.7 1561.7 303.3 1580 330C1598.3 356.7 1620 390 1640 420C1660 450 1681.7 481.7 1700 510C1718.3 538.3 1735 563.3 1750 590C1765 616.7 1778.3 645 1790 670C1801.7 695 1811.7 718.3 1820 740C1828.3 761.7 1835.8 781.7 1840 800C1844.2 818.3 1845.8 833.3 1845 850C1844.2 866.7 1840.8 885 1835 900C1829.2 915 1820.8 928.3 1810 940C1799.2 951.7 1788.3 960 1770 970C1751.7 980 1728.3 990 1700 1000C1671.7 1010 1633.3 1020.8 1600 1030C1566.7 1039.2 1533.3 1045.8 1500 1055C1466.7 1064.2 1433.3 1075 1400 1085C1366.7 1095 1333.3 1104.2 1300 1115C1266.7 1125.8 1233.3 1138.3 1200 1150C1166.7 1161.7 1133.3 1173.3 1100 1185C1066.7 1196.7 1030 1210 1000 1220C970 1230 945 1238.3 920 1245C895 1251.7 870 1257.2 850 1260C830 1262.8 815 1263.7 800 1262C785 1260.3 772.5 1257 760 1250C747.5 1243 735 1231.7 725 1220C715 1208.3 707.5 1193.3 700 1180C692.5 1166.7 688.3 1152.5 680 1140C671.7 1127.5 663.3 1115 650 1105C636.7 1095 625 1086.7 600 1080C575 1073.3 533.3 1069.2 500 1065C466.7 1060.8 433.3 1060 400 1055C366.7 1050 330 1044.2 300 1035C270 1025.8 243.3 1014.2 220 1000C196.7 985.8 177.5 966.7 160 950C142.5 933.3 127.5 916.7 115 900C102.5 883.3 91.2 866.7 85 850C78.8 833.3 78 821.7 78 800Z" fill="#cc4052"/><path d="M540 180C558.3 155 656.7 123.3 700 110C743.3 96.7 788.3 93.3 800 100C811.7 106.7 770 136.7 770 150C770 163.3 785 172.5 800 180C815 187.5 847.5 185 860 195C872.5 205 876.7 225.8 875 240C873.3 254.2 857.5 266.7 850 280C842.5 293.3 840 311.7 830 320C820 328.3 801.7 331.7 790 330C778.3 328.3 775 316.7 760 310C745 303.3 718.3 296.7 700 290C681.7 283.3 668.3 275 650 270C631.7 265 608.3 275 590 260C571.7 245 521.7 205 540 180Z" fill="#066a10" stroke="#066a10" stroke-width="3" stroke-linejoin="round"/><path d="M780 100C793.3 88.3 813.3 86.7 850 80C886.7 73.3 950 64.2 1000 60C1050 55.8 1108.3 54.2 1150 55C1191.7 55.8 1225 58.3 1250 65C1275 71.7 1286.7 82.5 1300 95C1313.3 107.5 1320.8 125.8 1330 140C1339.2 154.2 1356.7 167.5 1355 180C1353.3 192.5 1330.8 204.2 1320 215C1309.2 225.8 1310 241.7 1290 245C1270 248.3 1221.7 232.5 1200 235C1178.3 237.5 1171.7 249.2 1160 260C1148.3 270.8 1143.3 286.7 1130 300C1116.7 313.3 1090 330 1080 340C1070 350 1067.5 350 1070 360C1072.5 370 1092.5 387.5 1095 400C1097.5 412.5 1094.2 426.7 1085 435C1075.8 443.3 1054.2 443.3 1040 450C1025.8 456.7 1010.8 465 1000 475C989.2 485 981.7 497.5 975 510C968.3 522.5 955.8 540 960 550C964.2 560 986.7 563.3 1000 570C1013.3 576.7 1023.3 578.3 1040 590C1056.7 601.7 1080 628.3 1100 640C1120 651.7 1135 658.3 1160 660C1185 661.7 1234.2 645 1250 650C1265.8 655 1256.7 678.3 1255 690C1253.3 701.7 1247.5 710 1240 720C1232.5 730 1221.7 738.3 1210 750C1198.3 761.7 1188.3 776.7 1170 790C1151.7 803.3 1123.3 817.5 1100 830C1076.7 842.5 1053.3 854.2 1030 865C1006.7 875.8 981.7 884.2 960 895C938.3 905.8 916.7 919.2 900 930C883.3 940.8 875 952.5 860 960C845 967.5 820 976.7 810 975C800 973.3 796.7 962.5 800 950C803.3 937.5 818.3 915 830 900C841.7 885 860.8 873.3 870 860C879.2 846.7 888.3 830 885 820C881.7 810 862.5 801.7 850 800C837.5 798.3 821.7 801.7 810 810C798.3 818.3 791.7 840.8 780 850C768.3 859.2 750.8 866.7 740 865C729.2 863.3 715 850.8 715 840C715 829.2 733.3 811.7 740 800C746.7 788.3 756.7 778.3 755 770C753.3 761.7 733.3 758.3 730 750C726.7 741.7 734.2 730 735 720C735.8 710 735.8 700 735 690C734.2 680 728.3 675 730 660C731.7 645 740 626.7 745 600C750 573.3 755 533.3 760 500C765 466.7 773.3 425.8 775 400C776.7 374.2 767.5 356.7 770 345C772.5 333.3 780 334.2 790 330C800 325.8 820 328.3 830 320C840 311.7 842.5 293.3 850 280C857.5 266.7 873.3 254.2 875 240C876.7 225.8 872.5 205 860 195C847.5 185 815 187.5 800 180C785 172.5 773.3 163.3 770 150C766.7 136.7 766.7 111.7 780 100Z" fill="#4682b4" stroke="#4682b4" stroke-width="3" stroke-linejoin="round"/><path d="M1300 80C1303.3 71.7 1326.7 80 1350 90C1373.3 100 1415 122.5 1440 140C1465 157.5 1481.7 175 1500 195C1518.3 215 1533.3 237.5 1550 260C1566.7 282.5 1581.7 303.3 1600 330C1618.3 356.7 1643.3 395 1660 420C1676.7 445 1698.3 461.7 1700 480C1701.7 498.3 1683.3 526.7 1670 530C1656.7 533.3 1635 515 1620 500C1605 485 1596.7 460 1580 440C1563.3 420 1543.3 395 1520 380C1496.7 365 1460 355.8 1440 350C1420 344.2 1410 341.7 1400 345C1390 348.3 1396.7 366.7 1380 370C1363.3 373.3 1323.3 367.5 1300 365C1276.7 362.5 1254.2 352.5 1240 355C1225.8 357.5 1217.5 369.2 1215 380C1212.5 390.8 1225.8 410.8 1225 420C1224.2 429.2 1222.5 430.8 1210 435C1197.5 439.2 1170.8 445 1150 445C1129.2 445 1094.2 442.5 1085 435C1075.8 427.5 1097.5 412.5 1095 400C1092.5 387.5 1072.5 370 1070 360C1067.5 350 1070 350 1080 340C1090 330 1116.7 313.3 1130 300C1143.3 286.7 1148.3 270.8 1160 260C1171.7 249.2 1178.3 237.5 1200 235C1221.7 232.5 1270 248.3 1290 245C1310 241.7 1309.2 225.8 1320 215C1330.8 204.2 1353.3 192.5 1355 180C1356.7 167.5 1339.2 156.7 1330 140C1320.8 123.3 1296.7 88.3 1300 80Z" fill="#066a10" stroke="#066a10" stroke-width="3" stroke-linejoin="round"/><path d="M1215 380C1217.5 369.2 1225.8 357.5 1240 355C1254.2 352.5 1276.7 362.5 1300 365C1323.3 367.5 1363.3 373.3 1380 370C1396.7 366.7 1390 348.3 1400 345C1410 341.7 1420 344.2 1440 350C1460 355.8 1496.7 365 1520 380C1543.3 395 1563.3 420 1580 440C1596.7 460 1618.3 495 1620 500C1621.7 505 1603.3 481.7 1590 470C1576.7 458.3 1558.3 440.8 1540 430C1521.7 419.2 1500 410 1480 405C1460 400 1435.8 399.2 1420 400C1404.2 400.8 1388.3 401.7 1385 410C1381.7 418.3 1400 438.3 1400 450C1400 461.7 1398.3 474.2 1385 480C1371.7 485.8 1337.5 481.7 1320 485C1302.5 488.3 1291.7 500.8 1280 500C1268.3 499.2 1257.5 488.3 1250 480C1242.5 471.7 1241.7 457.5 1235 450C1228.3 442.5 1211.7 440 1210 435C1208.3 430 1224.2 429.2 1225 420C1225.8 410.8 1212.5 390.8 1215 380Z" fill="#e0912a" stroke="#e0912a" stroke-width="3" stroke-linejoin="round"/><path d="M1560 310C1560 301.7 1593.3 328.3 1620 360C1646.7 391.7 1690 451.7 1720 500C1750 548.3 1776.7 600 1800 650C1823.3 700 1850 758.3 1860 800C1870 841.7 1870 870 1860 900C1850 930 1826.7 960 1800 980C1773.3 1000 1733.3 1008.3 1700 1020C1666.7 1031.7 1633.3 1040.8 1600 1050C1566.7 1059.2 1520 1076.7 1500 1075C1480 1073.3 1485 1052.5 1480 1040C1475 1027.5 1468.3 1011.7 1470 1000C1471.7 988.3 1480 980 1490 970C1500 960 1520 951.7 1530 940C1540 928.3 1551.7 913.3 1550 900C1548.3 886.7 1528.3 875 1520 860C1511.7 845 1498.3 822.5 1500 810C1501.7 797.5 1513.3 790 1530 785C1546.7 780 1578.3 782.5 1600 780C1621.7 777.5 1651.7 783.3 1660 770C1668.3 756.7 1648.3 720 1650 700C1651.7 680 1665 680 1670 650C1675 620 1688.3 560 1680 520C1671.7 480 1640 445 1620 410C1600 375 1560 318.3 1560 310Z" fill="#731683" stroke="#731683" stroke-width="3" stroke-linejoin="round"/><path d="M1530 670C1548.3 668.3 1580 675 1600 680C1620 685 1640 685 1650 700C1660 715 1668.3 756.7 1660 770C1651.7 783.3 1621.7 777.5 1600 780C1578.3 782.5 1546.7 780 1530 785C1513.3 790 1501.7 797.5 1500 810C1498.3 822.5 1511.7 845 1520 860C1528.3 875 1548.3 886.7 1550 900C1551.7 913.3 1540 928.3 1530 940C1520 951.7 1500 960 1490 970C1480 980 1471.7 988.3 1470 1000C1468.3 1011.7 1475 1027.5 1480 1040C1485 1052.5 1513.3 1064.2 1500 1075C1486.7 1085.8 1433.3 1095 1400 1105C1366.7 1115 1333.3 1124.2 1300 1135C1266.7 1145.8 1220 1167.5 1200 1170C1180 1172.5 1171.7 1165 1180 1150C1188.3 1135 1231.7 1097.5 1250 1080C1268.3 1062.5 1275 1055 1290 1045C1305 1035 1326.7 1030.8 1340 1020C1353.3 1009.2 1364.2 995 1370 980C1375.8 965 1375.8 945 1375 930C1374.2 915 1360.8 903.3 1365 890C1369.2 876.7 1389.2 863.3 1400 850C1410.8 836.7 1423.3 825 1430 810C1436.7 795 1436.7 773.3 1440 760C1443.3 746.7 1441.7 741.7 1450 730C1458.3 718.3 1476.7 700 1490 690C1503.3 680 1511.7 671.7 1530 670Z" fill="#066a10" stroke="#066a10" stroke-width="3" stroke-linejoin="round"/><path d="M1375 685C1387.5 686.7 1408.3 701.7 1420 710C1431.7 718.3 1443.3 720 1445 735C1446.7 750 1437.5 780.8 1430 800C1422.5 819.2 1410.8 835 1400 850C1389.2 865 1376.7 882.5 1365 890C1353.3 897.5 1339.2 900 1330 895C1320.8 890 1311.7 872.5 1310 860C1308.3 847.5 1315 833.3 1320 820C1325 806.7 1338.3 793.3 1340 780C1341.7 766.7 1329.2 753.3 1330 740C1330.8 726.7 1337.5 709.2 1345 700C1352.5 690.8 1362.5 683.3 1375 685Z" fill="#c33af5" stroke="#c33af5" stroke-width="3" stroke-linejoin="round"/><path d="M1365 890C1375.8 893.3 1374.2 915 1375 930C1375.8 945 1375.8 965 1370 980C1364.2 995 1353.3 1009.2 1340 1020C1326.7 1030.8 1305 1043.3 1290 1045C1275 1046.7 1260 1040 1250 1030C1240 1020 1226.7 998.3 1230 985C1233.3 971.7 1256.7 962.5 1270 950C1283.3 937.5 1294.2 920 1310 910C1325.8 900 1354.2 886.7 1365 890Z" fill="#e0912a" stroke="#e0912a" stroke-width="3" stroke-linejoin="round"/><path d="M1040 450C1054.2 443.3 1066.7 435.8 1085 435C1103.3 434.2 1129.2 445 1150 445C1170.8 445 1195.8 434.2 1210 435C1224.2 435.8 1228.3 442.5 1235 450C1241.7 457.5 1242.5 471.7 1250 480C1257.5 488.3 1272.5 490 1280 500C1287.5 510 1293.3 523.3 1295 540C1296.7 556.7 1296.7 581.7 1290 600C1283.3 618.3 1276.7 640 1255 650C1233.3 660 1185.8 661.7 1160 660C1134.2 658.3 1120 651.7 1100 640C1080 628.3 1056.7 601.7 1040 590C1023.3 578.3 1013.3 576.7 1000 570C986.7 563.3 964.2 560 960 550C955.8 540 968.3 522.5 975 510C981.7 497.5 989.2 485 1000 475C1010.8 465 1025.8 456.7 1040 450Z" fill="#c33af5" stroke="#c33af5" stroke-width="3" stroke-linejoin="round"/><path d="M680 400C696.7 386.7 754.2 370 770 370C785.8 370 776.7 378.3 775 400C773.3 421.7 765 466.7 760 500C755 533.3 750 573.3 745 600C740 626.7 739.2 653.3 730 660C720.8 666.7 705 643.3 690 640C675 636.7 660 640.8 640 640C620 639.2 580.8 645 570 635C559.2 625 570 595.8 575 580C580 564.2 587.5 553.3 600 540C612.5 526.7 638.3 515 650 500C661.7 485 665 466.7 670 450C675 433.3 663.3 413.3 680 400Z" fill="#066a10" stroke="#066a10" stroke-width="3" stroke-linejoin="round"/><path d="M90 640C92.5 615 100 620 110 620C120 620 138.3 636.7 150 640C161.7 643.3 171.7 635 180 640C188.3 645 186.7 670 200 670C213.3 670 245 653.3 260 640C275 626.7 280 608.3 290 590C300 571.7 311.7 551.7 320 530C328.3 508.3 326.7 476.7 340 460C353.3 443.3 380 439.2 400 430C420 420.8 447.5 403.3 460 405C472.5 406.7 465 432.5 475 440C485 447.5 502.5 451.7 520 450C537.5 448.3 560 436.7 580 430C600 423.3 625 411.7 640 410C655 408.3 665 413.3 670 420C675 426.7 673.3 436.7 670 450C666.7 463.3 661.7 485 650 500C638.3 515 612.5 526.7 600 540C587.5 553.3 580 564.2 575 580C570 595.8 573.3 616.7 570 635C566.7 653.3 570 679.2 555 690C540 700.8 500.8 691.7 480 700C459.2 708.3 446.7 725 430 740C413.3 755 395 775 380 790C365 805 353.3 816.7 340 830C326.7 843.3 308.3 855 300 870C291.7 885 290.8 905 290 920C289.2 935 303.3 951.7 295 960C286.7 968.3 250.8 963.3 240 970C229.2 976.7 225.8 990 230 1000C234.2 1010 266.7 1028.3 265 1030C263.3 1031.7 237.5 1023.3 220 1010C202.5 996.7 169.2 971.7 160 950C150.8 928.3 163.3 905 165 880C166.7 855 174.2 818.3 170 800C165.8 781.7 152.5 775 140 770C127.5 765 103.3 791.7 95 770C86.7 748.3 87.5 665 90 640Z" fill="#e0912a" stroke="#e0912a" stroke-width="3" stroke-linejoin="round"/><path d="M340 460C346.7 468.3 328.3 508.3 320 530C311.7 551.7 300 571.7 290 590C280 608.3 275 626.7 260 640C245 653.3 215 671.7 200 670C185 668.3 171.7 645 170 630C168.3 615 180 598.3 190 580C200 561.7 215 536.7 230 520C245 503.3 261.7 490 280 480C298.3 470 333.3 451.7 340 460Z" fill="#a030c0" stroke="#a030c0" stroke-width="3" stroke-linejoin="round"/><path d="M555 690C553.3 677.5 555.8 643.3 570 635C584.2 626.7 620 639.2 640 640C660 640.8 675 636.7 690 640C705 643.3 722.5 651.7 730 660C737.5 668.3 734.2 680 735 690C735.8 700 735.8 710 735 720C734.2 730 726.7 741.7 730 750C733.3 758.3 753.3 761.7 755 770C756.7 778.3 746.7 788.3 740 800C733.3 811.7 715 829.2 715 840C715 850.8 729.2 863.3 740 865C750.8 866.7 768.3 859.2 780 850C791.7 840.8 798.3 818.3 810 810C821.7 801.7 837.5 798.3 850 800C862.5 801.7 881.7 810 885 820C888.3 830 879.2 846.7 870 860C860.8 873.3 841.7 885 830 900C818.3 915 803.3 937.5 800 950C796.7 962.5 813.3 965 810 975C806.7 985 790 995.8 780 1010C770 1024.2 757.5 1046.7 750 1060C742.5 1073.3 743.3 1082.5 735 1090C726.7 1097.5 712.5 1105 700 1105C687.5 1105 670 1097.5 660 1090C650 1082.5 650 1066.7 640 1060C630 1053.3 608.3 1060 600 1050C591.7 1040 596.7 1014.2 590 1000C583.3 985.8 575 970.8 560 965C545 959.2 512.5 967.5 500 965C487.5 962.5 496.7 954.2 485 950C473.3 945.8 441.7 948.3 430 940C418.3 931.7 415 913.3 415 900C415 886.7 420.8 875 430 860C439.2 845 455 825 470 810C485 795 501.7 781.7 520 770C538.3 758.3 566.7 746.7 580 740C593.3 733.3 600 735 600 730C600 725 587.5 716.7 580 710C572.5 703.3 556.7 702.5 555 690Z" fill="#c33af5" stroke="#c33af5" stroke-width="3" stroke-linejoin="round"/><path d="M500 965C508.3 959.2 545 959.2 560 965C575 970.8 583.3 985.8 590 1000C596.7 1014.2 601.7 1040.8 600 1050C598.3 1059.2 590 1058.3 580 1055C570 1051.7 551.7 1039.2 540 1030C528.3 1020.8 516.7 1010.8 510 1000C503.3 989.2 491.7 970.8 500 965Z" fill="#e0912a" stroke="#e0912a" stroke-width="3" stroke-linejoin="round"/><path d="M70 850C71.7 863.3 91.7 891.7 105 910C118.3 928.3 132.5 943.3 150 960C167.5 976.7 185 995 210 1010C235 1025 268.3 1040 300 1050C331.7 1060 366.7 1065 400 1070C433.3 1075 466.7 1075.8 500 1080C533.3 1084.2 585 1098.3 600 1095C615 1091.7 606.7 1069.2 590 1060C573.3 1050.8 531.7 1045 500 1040C468.3 1035 433.3 1035 400 1030C366.7 1025 328.3 1019.2 300 1010C271.7 1000.8 251.7 988.3 230 975C208.3 961.7 186.7 945.8 170 930C153.3 914.2 142.5 896.7 130 880C117.5 863.3 105 835 95 830C85 825 68.3 836.7 70 850Z" fill="#dcecaa" stroke="#dcecaa" stroke-width="3" stroke-linejoin="round"/><path d="M640 1090C650 1088.3 684.2 1105 700 1105C715.8 1105 718.3 1090.8 735 1090C751.7 1089.2 787.5 1090 800 1100C812.5 1110 805 1133.3 810 1150C815 1166.7 823.3 1187.5 830 1200C836.7 1212.5 838.3 1223.3 850 1225C861.7 1226.7 881.7 1217.5 900 1210C918.3 1202.5 943.3 1187.5 960 1180C976.7 1172.5 976.7 1170 1000 1165C1023.3 1160 1066.7 1152.5 1100 1150C1133.3 1147.5 1183.3 1146.7 1200 1150C1216.7 1153.3 1216.7 1160.8 1200 1170C1183.3 1179.2 1133.3 1193.3 1100 1205C1066.7 1216.7 1030 1230 1000 1240C970 1250 945 1258.3 920 1265C895 1271.7 870 1277.2 850 1280C830 1282.8 816.7 1284.5 800 1282C783.3 1279.5 765 1273.7 750 1265C735 1256.3 720.8 1243.3 710 1230C699.2 1216.7 692.5 1199.2 685 1185C677.5 1170.8 672.5 1156.7 665 1145C657.5 1133.3 644.2 1124.2 640 1115C635.8 1105.8 630 1091.7 640 1090Z" fill="#dcecaa" stroke="#dcecaa" stroke-width="3" stroke-linejoin="round"/><path d="M600 770C700 740 800 725 900 705C1000 690 1100 670 1230 640" fill="none" stroke="#000" stroke-opacity="0.5" stroke-width="60" stroke-linecap="round" filter="url(#b40)"/><path d="M700 745C800 722 860 712 1000 690" fill="none" stroke="#000" stroke-opacity="0.6" stroke-width="30" stroke-linecap="round" filter="url(#b20)"/><path d="M880 940C1000 870 1100 820 1200 770" fill="none" stroke="#000" stroke-opacity="0.35" stroke-width="40" stroke-linecap="round" filter="url(#b20)"/><path d="M1100 360C1200 375 1300 385 1400 370" fill="none" stroke="#000" stroke-opacity="0.4" stroke-width="40" stroke-linecap="round" filter="url(#b20)"/><path d="M900 150C1000 130 1100 130 1200 150" fill="none" stroke="#000" stroke-opacity="0.4" stroke-width="70" stroke-linecap="round" filter="url(#b40)"/><path d="M300 360C450 270 600 230 800 210" fill="none" stroke="#000" stroke-opacity="0.45" stroke-width="110" stroke-linecap="round" filter="url(#b40)"/><path d="M1500 240C1600 380 1700 500 1800 750" fill="none" stroke="#000" stroke-opacity="0.4" stroke-width="80" stroke-linecap="round" filter="url(#b40)"/><path d="M720 742C800 725 860 712 980 692" fill="none" stroke="#000" stroke-opacity="0.55" stroke-width="14" stroke-linecap="round" filter="url(#b10)"/><path d="M78 800C78 778.3 79.7 750 85 720C90.3 690 97.5 653.3 110 620C122.5 586.7 140 553.3 160 520C180 486.7 203.3 451.7 230 420C256.7 388.3 286.7 357.5 320 330C353.3 302.5 390 277.5 430 255C470 232.5 515 214.2 560 195C605 175.8 651.7 155.8 700 140C748.3 124.2 800 110.3 850 100C900 89.7 950 83 1000 78C1050 73 1108.3 69.7 1150 70C1191.7 70.3 1218.3 74.2 1250 80C1281.7 85.8 1311.7 93.3 1340 105C1368.3 116.7 1396.7 134.2 1420 150C1443.3 165.8 1461.7 181.7 1480 200C1498.3 218.3 1513.3 238.3 1530 260C1546.7 281.7 1561.7 303.3 1580 330C1598.3 356.7 1620 390 1640 420C1660 450 1681.7 481.7 1700 510C1718.3 538.3 1735 563.3 1750 590C1765 616.7 1778.3 645 1790 670C1801.7 695 1811.7 718.3 1820 740C1828.3 761.7 1835.8 781.7 1840 800C1844.2 818.3 1845.8 833.3 1845 850C1844.2 866.7 1840.8 885 1835 900C1829.2 915 1820.8 928.3 1810 940C1799.2 951.7 1788.3 960 1770 970C1751.7 980 1728.3 990 1700 1000C1671.7 1010 1633.3 1020.8 1600 1030C1566.7 1039.2 1533.3 1045.8 1500 1055C1466.7 1064.2 1433.3 1075 1400 1085C1366.7 1095 1333.3 1104.2 1300 1115C1266.7 1125.8 1233.3 1138.3 1200 1150C1166.7 1161.7 1133.3 1173.3 1100 1185C1066.7 1196.7 1030 1210 1000 1220C970 1230 945 1238.3 920 1245C895 1251.7 870 1257.2 850 1260C830 1262.8 815 1263.7 800 1262C785 1260.3 772.5 1257 760 1250C747.5 1243 735 1231.7 725 1220C715 1208.3 707.5 1193.3 700 1180C692.5 1166.7 688.3 1152.5 680 1140C671.7 1127.5 663.3 1115 650 1105C636.7 1095 625 1086.7 600 1080C575 1073.3 533.3 1069.2 500 1065C466.7 1060.8 433.3 1060 400 1055C366.7 1050 330 1044.2 300 1035C270 1025.8 243.3 1014.2 220 1000C196.7 985.8 177.5 966.7 160 950C142.5 933.3 127.5 916.7 115 900C102.5 883.3 91.2 866.7 85 850C78.8 833.3 78 821.7 78 800Z" transform="translate(0 -12)" fill="none" stroke="url(#rg)" stroke-opacity="0.4" stroke-width="160" filter="url(#b40)"/><path d="M78 800C78 778.3 79.7 750 85 720C90.3 690 97.5 653.3 110 620C122.5 586.7 140 553.3 160 520C180 486.7 203.3 451.7 230 420C256.7 388.3 286.7 357.5 320 330C353.3 302.5 390 277.5 430 255C470 232.5 515 214.2 560 195C605 175.8 651.7 155.8 700 140C748.3 124.2 800 110.3 850 100C900 89.7 950 83 1000 78C1050 73 1108.3 69.7 1150 70C1191.7 70.3 1218.3 74.2 1250 80C1281.7 85.8 1311.7 93.3 1340 105C1368.3 116.7 1396.7 134.2 1420 150C1443.3 165.8 1461.7 181.7 1480 200C1498.3 218.3 1513.3 238.3 1530 260C1546.7 281.7 1561.7 303.3 1580 330C1598.3 356.7 1620 390 1640 420C1660 450 1681.7 481.7 1700 510C1718.3 538.3 1735 563.3 1750 590C1765 616.7 1778.3 645 1790 670C1801.7 695 1811.7 718.3 1820 740C1828.3 761.7 1835.8 781.7 1840 800C1844.2 818.3 1845.8 833.3 1845 850C1844.2 866.7 1840.8 885 1835 900C1829.2 915 1820.8 928.3 1810 940C1799.2 951.7 1788.3 960 1770 970C1751.7 980 1728.3 990 1700 1000C1671.7 1010 1633.3 1020.8 1600 1030C1566.7 1039.2 1533.3 1045.8 1500 1055C1466.7 1064.2 1433.3 1075 1400 1085C1366.7 1095 1333.3 1104.2 1300 1115C1266.7 1125.8 1233.3 1138.3 1200 1150C1166.7 1161.7 1133.3 1173.3 1100 1185C1066.7 1196.7 1030 1210 1000 1220C970 1230 945 1238.3 920 1245C895 1251.7 870 1257.2 850 1260C830 1262.8 815 1263.7 800 1262C785 1260.3 772.5 1257 760 1250C747.5 1243 735 1231.7 725 1220C715 1208.3 707.5 1193.3 700 1180C692.5 1166.7 688.3 1152.5 680 1140C671.7 1127.5 663.3 1115 650 1105C636.7 1095 625 1086.7 600 1080C575 1073.3 533.3 1069.2 500 1065C466.7 1060.8 433.3 1060 400 1055C366.7 1050 330 1044.2 300 1035C270 1025.8 243.3 1014.2 220 1000C196.7 985.8 177.5 966.7 160 950C142.5 933.3 127.5 916.7 115 900C102.5 883.3 91.2 866.7 85 850C78.8 833.3 78 821.7 78 800Z" transform="translate(0 -6)" fill="none" stroke="url(#rg)" stroke-opacity="0.75" stroke-width="42" filter="url(#b20)"/></g><path d="M78 800C78 778.3 79.7 750 85 720C90.3 690 97.5 653.3 110 620C122.5 586.7 140 553.3 160 520C180 486.7 203.3 451.7 230 420C256.7 388.3 286.7 357.5 320 330C353.3 302.5 390 277.5 430 255C470 232.5 515 214.2 560 195C605 175.8 651.7 155.8 700 140C748.3 124.2 800 110.3 850 100C900 89.7 950 83 1000 78C1050 73 1108.3 69.7 1150 70C1191.7 70.3 1218.3 74.2 1250 80C1281.7 85.8 1311.7 93.3 1340 105C1368.3 116.7 1396.7 134.2 1420 150C1443.3 165.8 1461.7 181.7 1480 200C1498.3 218.3 1513.3 238.3 1530 260C1546.7 281.7 1561.7 303.3 1580 330C1598.3 356.7 1620 390 1640 420C1660 450 1681.7 481.7 1700 510C1718.3 538.3 1735 563.3 1750 590C1765 616.7 1778.3 645 1790 670C1801.7 695 1811.7 718.3 1820 740C1828.3 761.7 1835.8 781.7 1840 800C1844.2 818.3 1845.8 833.3 1845 850C1844.2 866.7 1840.8 885 1835 900C1829.2 915 1820.8 928.3 1810 940C1799.2 951.7 1788.3 960 1770 970C1751.7 980 1728.3 990 1700 1000C1671.7 1010 1633.3 1020.8 1600 1030C1566.7 1039.2 1533.3 1045.8 1500 1055C1466.7 1064.2 1433.3 1075 1400 1085C1366.7 1095 1333.3 1104.2 1300 1115C1266.7 1125.8 1233.3 1138.3 1200 1150C1166.7 1161.7 1133.3 1173.3 1100 1185C1066.7 1196.7 1030 1210 1000 1220C970 1230 945 1238.3 920 1245C895 1251.7 870 1257.2 850 1260C830 1262.8 815 1263.7 800 1262C785 1260.3 772.5 1257 760 1250C747.5 1243 735 1231.7 725 1220C715 1208.3 707.5 1193.3 700 1180C692.5 1166.7 688.3 1152.5 680 1140C671.7 1127.5 663.3 1115 650 1105C636.7 1095 625 1086.7 600 1080C575 1073.3 533.3 1069.2 500 1065C466.7 1060.8 433.3 1060 400 1055C366.7 1050 330 1044.2 300 1035C270 1025.8 243.3 1014.2 220 1000C196.7 985.8 177.5 966.7 160 950C142.5 933.3 127.5 916.7 115 900C102.5 883.3 91.2 866.7 85 850C78.8 833.3 78 821.7 78 800Z" fill="none" stroke="#000" stroke-opacity="0.7" stroke-width="5"/></g>
<g transform="translate(250 15) scale(0.13430)"><clipPath id="cpA2"><path d="M92 790C89.5 770 93.7 760 100 740C106.3 720 116.7 695 130 670C143.3 645 161.7 618.3 180 590C198.3 561.7 220 530 240 500C260 470 280 440 300 410C320 380 340 348.3 360 320C380 291.7 398.3 265.8 420 240C441.7 214.2 466.7 186.7 490 165C513.3 143.3 535 125 560 110C585 95 613.3 83.3 640 75C666.7 66.7 690 63.3 720 60C750 56.7 786.7 54.2 820 55C853.3 55.8 886.7 60 920 65C953.3 70 986.7 77.5 1020 85C1053.3 92.5 1086.7 100.8 1120 110C1153.3 119.2 1186.7 129.2 1220 140C1253.3 150.8 1286.7 161.7 1320 175C1353.3 188.3 1388.3 203.3 1420 220C1451.7 236.7 1481.7 255 1510 275C1538.3 295 1565 317.5 1590 340C1615 362.5 1638.3 386.7 1660 410C1681.7 433.3 1701.7 455 1720 480C1738.3 505 1755 531.7 1770 560C1785 588.3 1799.2 620 1810 650C1820.8 680 1829.2 711.7 1835 740C1840.8 768.3 1844.2 793.3 1845 820C1845.8 846.7 1845 876.7 1840 900C1835 923.3 1826.7 941.7 1815 960C1803.3 978.3 1789.2 996.7 1770 1010C1750.8 1023.3 1728.3 1031.7 1700 1040C1671.7 1048.3 1633.3 1055 1600 1060C1566.7 1065 1530 1067.5 1500 1070C1470 1072.5 1445 1073.3 1420 1075C1395 1076.7 1368.3 1076.7 1350 1080C1331.7 1083.3 1321.7 1086.7 1310 1095C1298.3 1103.3 1289.2 1115.8 1280 1130C1270.8 1144.2 1263.3 1165 1255 1180C1246.7 1195 1240.8 1208.3 1230 1220C1219.2 1231.7 1206.7 1243.7 1190 1250C1173.3 1256.3 1151.7 1258.8 1130 1258C1108.3 1257.2 1085 1252.2 1060 1245C1035 1237.8 1006.7 1225.8 980 1215C953.3 1204.2 930 1192.5 900 1180C870 1167.5 833.3 1153.3 800 1140C766.7 1126.7 733.3 1112.5 700 1100C666.7 1087.5 633.3 1075.8 600 1065C566.7 1054.2 533.3 1044.2 500 1035C466.7 1025.8 433.3 1019.2 400 1010C366.7 1000.8 330 990 300 980C270 970 243.3 961.7 220 950C196.7 938.3 177.5 925 160 910C142.5 895 126.3 880 115 860C103.7 840 94.5 810 92 790Z"/></clipPath><g clip-path="url(#cpA2)"><path d="M92 790C89.5 770 93.7 760 100 740C106.3 720 116.7 695 130 670C143.3 645 161.7 618.3 180 590C198.3 561.7 220 530 240 500C260 470 280 440 300 410C320 380 340 348.3 360 320C380 291.7 398.3 265.8 420 240C441.7 214.2 466.7 186.7 490 165C513.3 143.3 535 125 560 110C585 95 613.3 83.3 640 75C666.7 66.7 690 63.3 720 60C750 56.7 786.7 54.2 820 55C853.3 55.8 886.7 60 920 65C953.3 70 986.7 77.5 1020 85C1053.3 92.5 1086.7 100.8 1120 110C1153.3 119.2 1186.7 129.2 1220 140C1253.3 150.8 1286.7 161.7 1320 175C1353.3 188.3 1388.3 203.3 1420 220C1451.7 236.7 1481.7 255 1510 275C1538.3 295 1565 317.5 1590 340C1615 362.5 1638.3 386.7 1660 410C1681.7 433.3 1701.7 455 1720 480C1738.3 505 1755 531.7 1770 560C1785 588.3 1799.2 620 1810 650C1820.8 680 1829.2 711.7 1835 740C1840.8 768.3 1844.2 793.3 1845 820C1845.8 846.7 1845 876.7 1840 900C1835 923.3 1826.7 941.7 1815 960C1803.3 978.3 1789.2 996.7 1770 1010C1750.8 1023.3 1728.3 1031.7 1700 1040C1671.7 1048.3 1633.3 1055 1600 1060C1566.7 1065 1530 1067.5 1500 1070C1470 1072.5 1445 1073.3 1420 1075C1395 1076.7 1368.3 1076.7 1350 1080C1331.7 1083.3 1321.7 1086.7 1310 1095C1298.3 1103.3 1289.2 1115.8 1280 1130C1270.8 1144.2 1263.3 1165 1255 1180C1246.7 1195 1240.8 1208.3 1230 1220C1219.2 1231.7 1206.7 1243.7 1190 1250C1173.3 1256.3 1151.7 1258.8 1130 1258C1108.3 1257.2 1085 1252.2 1060 1245C1035 1237.8 1006.7 1225.8 980 1215C953.3 1204.2 930 1192.5 900 1180C870 1167.5 833.3 1153.3 800 1140C766.7 1126.7 733.3 1112.5 700 1100C666.7 1087.5 633.3 1075.8 600 1065C566.7 1054.2 533.3 1044.2 500 1035C466.7 1025.8 433.3 1019.2 400 1010C366.7 1000.8 330 990 300 980C270 970 243.3 961.7 220 950C196.7 938.3 177.5 925 160 910C142.5 895 126.3 880 115 860C103.7 840 94.5 810 92 790Z" fill="#cc4052"/><path d="M330 340C320 345 268.3 436.7 240 480C211.7 523.3 186.7 560 160 600C133.3 640 95 686.7 80 720C65 753.3 68.3 775 70 800C71.7 825 78.3 848.3 90 870C101.7 891.7 118.3 913.3 140 930C161.7 946.7 193.3 958.3 220 970C246.7 981.7 270 990 300 1000C330 1010 366.7 1025 400 1030C433.3 1035 476.7 1036.7 500 1030C523.3 1023.3 533.3 1001.7 540 990C546.7 978.3 546.7 968.3 540 960C533.3 951.7 515 950 500 940C485 930 458.3 913.3 450 900C441.7 886.7 445 871.7 450 860C455 848.3 476.7 840 480 830C483.3 820 480 815 470 800C460 785 431.7 756.7 420 740C408.3 723.3 413.3 706.7 400 700C386.7 693.3 355 710 340 700C325 690 318.3 656.7 310 640C301.7 623.3 291.7 618.3 290 600C288.3 581.7 295 550 300 530C305 510 320 493.3 320 480C320 466.7 298.3 473.3 300 450C301.7 426.7 340 335 330 340Z" fill="#731683" stroke="#731683" stroke-width="3" stroke-linejoin="round"/><path d="M320 340C328.3 313.3 335 310.8 350 290C365 269.2 388.3 240 410 215C431.7 190 456.7 161.7 480 140C503.3 118.3 523.3 100 550 85C576.7 70 616.7 57.5 640 50C663.3 42.5 683.3 33.3 690 40C696.7 46.7 690 73.3 680 90C670 106.7 640 123.3 630 140C620 156.7 616.7 175 620 190C623.3 205 636.7 222.5 650 230C663.3 237.5 681.7 233.3 700 235C718.3 236.7 743.3 234.2 760 240C776.7 245.8 785 256.7 800 270C815 283.3 840 305 850 320C860 335 855 346.7 860 360C865 373.3 874.2 388.3 880 400C885.8 411.7 896.7 422.5 895 430C893.3 437.5 880.8 445 870 445C859.2 445 841.7 434.2 830 430C818.3 425.8 806.7 428.3 800 420C793.3 411.7 796.7 390 790 380C783.3 370 775 362.5 760 360C745 357.5 720 366.7 700 365C680 363.3 658.3 353.3 640 350C621.7 346.7 606.7 350 590 345C573.3 340 556.7 323.3 540 320C523.3 316.7 508.3 320 490 325C471.7 330 445.8 339.2 430 350C414.2 360.8 405.8 373.3 395 390C384.2 406.7 365.8 435 365 450C364.2 465 386.7 465 390 480C393.3 495 391.7 521.7 385 540C378.3 558.3 362.5 575.8 350 590C337.5 604.2 320 623.3 310 625C300 626.7 291.7 615.8 290 600C288.3 584.2 295 550 300 530C305 510 320 493.3 320 480C320 466.7 300 473.3 300 450C300 426.7 311.7 366.7 320 340Z" fill="#066a10" stroke="#066a10" stroke-width="3" stroke-linejoin="round"/><path d="M430 350C445.8 339.2 471.7 330 490 325C508.3 320 523.3 316.7 540 320C556.7 323.3 573.3 340 590 345C606.7 350 621.7 346.7 640 350C658.3 353.3 680 363.3 700 365C720 366.7 745 357.5 760 360C775 362.5 783.3 370 790 380C796.7 390 805 411.7 800 420C795 428.3 776.7 426.7 760 430C743.3 433.3 720 435 700 440C680 445 656.7 455 640 460C623.3 465 611.7 464.2 600 470C588.3 475.8 583.3 491.7 570 495C556.7 498.3 532.5 497.5 520 490C507.5 482.5 500 465 495 450C490 435 497.5 409.2 490 400C482.5 390.8 463.3 391.7 450 395C436.7 398.3 424.2 410.8 410 420C395.8 429.2 367.5 455 365 450C362.5 445 384.2 406.7 395 390C405.8 373.3 414.2 360.8 430 350Z" fill="#e0912a" stroke="#e0912a" stroke-width="3" stroke-linejoin="round"/><path d="M490 645C506.7 643.3 528.3 660.8 540 670C551.7 679.2 555 685 560 700C565 715 569.2 743.3 570 760C570.8 776.7 560 786.7 565 800C570 813.3 593.3 828.3 600 840C606.7 851.7 610 858.3 605 870C600 881.7 579.2 896.7 570 910C560.8 923.3 555 941.7 550 950C545 958.3 548.3 961.7 540 960C531.7 958.3 515 950 500 940C485 930 458.3 913.3 450 900C441.7 886.7 445 871.7 450 860C455 848.3 476.7 840 480 830C483.3 820 480 815 470 800C460 785 430 756.7 420 740C410 723.3 406.7 710 410 700C413.3 690 426.7 689.2 440 680C453.3 670.8 473.3 646.7 490 645Z" fill="#066a10" stroke="#066a10" stroke-width="3" stroke-linejoin="round"/><path d="M540 985C556.7 982.5 583.3 989.2 600 1000C616.7 1010.8 623.3 1034.2 640 1050C656.7 1065.8 686.7 1083.3 700 1095C713.3 1106.7 736.7 1122.5 720 1120C703.3 1117.5 636.7 1091.7 600 1080C563.3 1068.3 533.3 1059.2 500 1050C466.7 1040.8 400 1030.8 400 1025C400 1019.2 476.7 1021.7 500 1015C523.3 1008.3 523.3 987.5 540 985Z" fill="#066a10" stroke="#066a10" stroke-width="3" stroke-linejoin="round"/><path d="M640 460C648.3 446.7 680 445 700 440C720 435 743.3 433.3 760 430C776.7 426.7 788.3 420 800 420C811.7 420 818.3 425.8 830 430C841.7 434.2 859.2 445 870 445C880.8 445 885 425.8 895 430C905 434.2 919.2 455 930 470C940.8 485 950 504.2 960 520C970 535.8 990 551.7 990 565C990 578.3 975 594.2 960 600C945 605.8 916.7 595 900 600C883.3 605 873.3 620 860 630C846.7 640 833.3 653.3 820 660C806.7 666.7 793.3 671.7 780 670C766.7 668.3 751.7 646.7 740 650C728.3 653.3 713.3 676.7 710 690C706.7 703.3 716.7 716.7 720 730C723.3 743.3 733.3 761.7 730 770C726.7 778.3 710 775 700 780C690 785 676.7 791.7 670 800C663.3 808.3 670 823.3 660 830C650 836.7 625 845 610 840C595 835 576.7 813.3 570 800C563.3 786.7 571.7 776.7 570 760C568.3 743.3 556.7 708.3 560 700C563.3 691.7 576.7 706.7 590 710C603.3 713.3 628.3 725 640 720C651.7 715 658.3 696.7 660 680C661.7 663.3 650 640 650 620C650 600 660 576.7 660 560C660 543.3 653.3 536.7 650 520C646.7 503.3 631.7 473.3 640 460Z" fill="#c33af5" stroke="#c33af5" stroke-width="3" stroke-linejoin="round"/><path d="M690 40C713.3 30.8 781.7 34.2 820 35C858.3 35.8 886.7 40 920 45C953.3 50 990.8 57.5 1020 65C1049.2 72.5 1083.3 80.8 1095 90C1106.7 99.2 1085.8 108.3 1090 120C1094.2 131.7 1116.7 146.7 1120 160C1123.3 173.3 1118.3 190 1110 200C1101.7 210 1073.3 210 1070 220C1066.7 230 1080 248.3 1090 260C1100 271.7 1118.3 276.7 1130 290C1141.7 303.3 1153.3 321.7 1160 340C1166.7 358.3 1163.3 381.7 1170 400C1176.7 418.3 1192.5 435 1200 450C1207.5 465 1215 476.7 1215 490C1215 503.3 1202.5 511.7 1200 530C1197.5 548.3 1195 581.7 1200 600C1205 618.3 1225.8 626.7 1230 640C1234.2 653.3 1233.3 670 1225 680C1216.7 690 1195.8 695 1180 700C1164.2 705 1135 701.7 1130 710C1125 718.3 1145 736.7 1150 750C1155 763.3 1163.3 780 1160 790C1156.7 800 1141.7 805 1130 810C1118.3 815 1098.3 813.3 1090 820C1081.7 826.7 1078.3 836.7 1080 850C1081.7 863.3 1090 883.3 1100 900C1110 916.7 1126.7 935 1140 950C1153.3 965 1170 978.3 1180 990C1190 1001.7 1203.3 1013.3 1200 1020C1196.7 1026.7 1175 1035 1160 1030C1145 1025 1126.7 1003.3 1110 990C1093.3 976.7 1076.7 961.7 1060 950C1043.3 938.3 1021.7 923.3 1010 920C998.3 916.7 1000 930 990 930C980 930 965 926.7 950 920C935 913.3 916.7 898.3 900 890C883.3 881.7 865 880 850 870C835 860 823.3 843.3 810 830C796.7 816.7 783.3 800 770 790C756.7 780 738.3 780 730 770C721.7 760 723.3 743.3 720 730C716.7 716.7 706.7 703.3 710 690C713.3 676.7 728.3 653.3 740 650C751.7 646.7 766.7 668.3 780 670C793.3 671.7 806.7 666.7 820 660C833.3 653.3 846.7 640 860 630C873.3 620 883.3 605 900 600C916.7 595 945 605.8 960 600C975 594.2 990 578.3 990 565C990 551.7 970 535.8 960 520C950 504.2 940.8 485 930 470C919.2 455 903.3 441.7 895 430C886.7 418.3 885.8 411.7 880 400C874.2 388.3 865 373.3 860 360C855 346.7 860 335 850 320C840 305 815 283.3 800 270C785 256.7 776.7 245.8 760 240C743.3 234.2 718.3 236.7 700 235C681.7 233.3 663.3 237.5 650 230C636.7 222.5 623.3 205 620 190C616.7 175 620 156.7 630 140C640 123.3 670 106.7 680 90C690 73.3 666.7 49.2 690 40Z" fill="#4682b4" stroke="#4682b4" stroke-width="3" stroke-linejoin="round"/><path d="M1090 120C1085.8 108.3 1090 94.2 1095 90C1100 85.8 1100 89.2 1120 95C1140 100.8 1196.7 109.2 1215 125C1233.3 140.8 1222.5 174.2 1230 190C1237.5 205.8 1251.7 208.3 1260 220C1268.3 231.7 1280 246.7 1280 260C1280 273.3 1268.3 290 1260 300C1251.7 310 1240 313.3 1230 320C1220 326.7 1211.7 336.7 1200 340C1188.3 343.3 1171.7 348.3 1160 340C1148.3 331.7 1141.7 303.3 1130 290C1118.3 276.7 1100 271.7 1090 260C1080 248.3 1066.7 230 1070 220C1073.3 210 1101.7 210 1110 200C1118.3 190 1123.3 173.3 1120 160C1116.7 146.7 1094.2 131.7 1090 120Z" fill="#066a10" stroke="#066a10" stroke-width="3" stroke-linejoin="round"/><path d="M1210 125C1225 120 1290 149.2 1320 160C1350 170.8 1380 181.7 1390 190C1400 198.3 1383.3 198.3 1380 210C1376.7 221.7 1363.3 245 1370 260C1376.7 275 1406.7 286.7 1420 300C1433.3 313.3 1436.7 325 1450 340C1463.3 355 1481.7 376.7 1500 390C1518.3 403.3 1543.3 410 1560 420C1576.7 430 1580 436.7 1600 450C1620 463.3 1658.3 488.3 1680 500C1701.7 511.7 1713.3 510 1730 520C1746.7 530 1764.2 538.3 1780 560C1795.8 581.7 1813.3 620 1825 650C1836.7 680 1844.2 711.7 1850 740C1855.8 768.3 1859.2 793.3 1860 820C1860.8 846.7 1860 875 1855 900C1850 925 1842.5 950 1830 970C1817.5 990 1801.7 1006.7 1780 1020C1758.3 1033.3 1715 1048.3 1700 1050C1685 1051.7 1693.3 1043.3 1690 1030C1686.7 1016.7 1688.3 985 1680 970C1671.7 955 1646.7 955 1640 940C1633.3 925 1646.7 898.3 1640 880C1633.3 861.7 1611.7 845 1600 830C1588.3 815 1580 803.3 1570 790C1560 776.7 1555 761.7 1540 750C1525 738.3 1496.7 728.3 1480 720C1463.3 711.7 1451.7 701.7 1440 700C1428.3 698.3 1420 715 1410 710C1400 705 1388.3 685 1380 670C1371.7 655 1361.7 636.7 1360 620C1358.3 603.3 1373.3 586.7 1370 570C1366.7 553.3 1351.7 533.3 1340 520C1328.3 506.7 1308.3 498.3 1300 490C1291.7 481.7 1290 481.7 1290 470C1290 458.3 1303.3 436.7 1300 420C1296.7 403.3 1281.7 384.2 1270 370C1258.3 355.8 1231.7 346.7 1230 335C1228.3 323.3 1251.7 312.5 1260 300C1268.3 287.5 1280 273.3 1280 260C1280 246.7 1268.3 231.7 1260 220C1251.7 208.3 1238.3 205.8 1230 190C1221.7 174.2 1195 130 1210 125Z" fill="#e0912a" stroke="#e0912a" stroke-width="3" stroke-linejoin="round"/><path d="M1160 340C1165 330 1188.3 340.8 1200 340C1211.7 339.2 1218.3 330 1230 335C1241.7 340 1258.3 355.8 1270 370C1281.7 384.2 1296.7 403.3 1300 420C1303.3 436.7 1298.3 459.2 1290 470C1281.7 480.8 1262.5 481.7 1250 485C1237.5 488.3 1223.3 495.8 1215 490C1206.7 484.2 1207.5 465 1200 450C1192.5 435 1176.7 418.3 1170 400C1163.3 381.7 1155 350 1160 340Z" fill="#a030c0" stroke="#a030c0" stroke-width="3" stroke-linejoin="round"/><path d="M1215 490C1223.3 482.5 1235.8 485 1250 485C1264.2 485 1285 484.2 1300 490C1315 495.8 1328.3 506.7 1340 520C1351.7 533.3 1366.7 553.3 1370 570C1373.3 586.7 1371.7 610 1360 620C1348.3 630 1321.7 626.7 1300 630C1278.3 633.3 1246.7 645 1230 640C1213.3 635 1205 618.3 1200 600C1195 581.7 1197.5 548.3 1200 530C1202.5 511.7 1206.7 497.5 1215 490Z" fill="#066a10" stroke="#066a10" stroke-width="3" stroke-linejoin="round"/><path d="M1600 455C1615 448.3 1660 482.5 1680 500C1700 517.5 1710 536.7 1720 560C1730 583.3 1737.5 618.3 1740 640C1742.5 661.7 1741.7 686.7 1735 690C1728.3 693.3 1712.5 671.7 1700 660C1687.5 648.3 1673.3 633.3 1660 620C1646.7 606.7 1631.7 593.3 1620 580C1608.3 566.7 1593.3 560.8 1590 540C1586.7 519.2 1585 461.7 1600 455Z" fill="#a030c0" stroke="#a030c0" stroke-width="3" stroke-linejoin="round"/><path d="M1230 640C1242.5 631.7 1278.3 633.3 1300 630C1321.7 626.7 1346.7 613.3 1360 620C1373.3 626.7 1371.7 655 1380 670C1388.3 685 1416.7 700 1410 710C1403.3 720 1341.7 721.7 1340 730C1338.3 738.3 1381.7 748.3 1400 760C1418.3 771.7 1435 786.7 1450 800C1465 813.3 1481.7 825 1490 840C1498.3 855 1501.7 878.3 1500 890C1498.3 901.7 1493.3 905.8 1480 910C1466.7 914.2 1440 912.5 1420 915C1400 917.5 1372.5 915.8 1360 925C1347.5 934.2 1348.3 954.2 1345 970C1341.7 985.8 1339.2 1005 1340 1020C1340.8 1035 1353.3 1048.3 1350 1060C1346.7 1071.7 1331.7 1080.8 1320 1090C1308.3 1099.2 1291.7 1115 1280 1115C1268.3 1115 1260 1100.8 1250 1090C1240 1079.2 1228.3 1061.7 1220 1050C1211.7 1038.3 1206.7 1030 1200 1020C1193.3 1010 1190 1001.7 1180 990C1170 978.3 1153.3 965 1140 950C1126.7 935 1110 916.7 1100 900C1090 883.3 1081.7 863.3 1080 850C1078.3 836.7 1081.7 826.7 1090 820C1098.3 813.3 1118.3 815 1130 810C1141.7 805 1156.7 800 1160 790C1163.3 780 1155 763.3 1150 750C1145 736.7 1125 718.3 1130 710C1135 701.7 1164.2 705 1180 700C1195.8 695 1216.7 690 1225 680C1233.3 670 1217.5 648.3 1230 640Z" fill="#c33af5" stroke="#c33af5" stroke-width="3" stroke-linejoin="round"/><path d="M1360 925C1372.5 915.8 1400 917.5 1420 915C1440 912.5 1466.7 907.5 1480 910C1493.3 912.5 1501.7 918.3 1500 930C1498.3 941.7 1481.7 966.7 1470 980C1458.3 993.3 1445 1000 1430 1010C1415 1020 1393.3 1031.7 1380 1040C1366.7 1048.3 1356.7 1063.3 1350 1060C1343.3 1056.7 1340.8 1035 1340 1020C1339.2 1005 1341.7 985.8 1345 970C1348.3 954.2 1347.5 934.2 1360 925Z" fill="#e0912a" stroke="#e0912a" stroke-width="3" stroke-linejoin="round"/><path d="M605 870C618.3 868.3 634.2 886.7 650 900C665.8 913.3 681.7 933.3 700 950C718.3 966.7 740 986.7 760 1000C780 1013.3 803.3 1020 820 1030C836.7 1040 850 1048.3 860 1060C870 1071.7 871.7 1083.3 880 1100C888.3 1116.7 910 1147.5 910 1160C910 1172.5 898.3 1177.5 880 1175C861.7 1172.5 826.7 1155 800 1145C773.3 1135 736.7 1122.5 720 1115C703.3 1107.5 713.3 1110.8 700 1100C686.7 1089.2 656.7 1066.7 640 1050C623.3 1033.3 616.7 1010 600 1000C583.3 990 550 996.7 540 990C530 983.3 538.3 966.7 540 960C541.7 953.3 545 958.3 550 950C555 941.7 560.8 923.3 570 910C579.2 896.7 591.7 871.7 605 870Z" fill="#e0912a" stroke="#e0912a" stroke-width="3" stroke-linejoin="round"/><path d="M700 1100C716.7 1101.7 766.7 1119.2 800 1130C833.3 1140.8 870 1154.2 900 1165C930 1175.8 953.3 1185 980 1195C1006.7 1205 1035 1217.5 1060 1225C1085 1232.5 1110 1238.3 1130 1240C1150 1241.7 1167.5 1241.7 1180 1235C1192.5 1228.3 1199.2 1212.5 1205 1200C1210.8 1187.5 1207.5 1170.8 1215 1160C1222.5 1149.2 1239.2 1142.5 1250 1135C1260.8 1127.5 1271.7 1114.2 1280 1115C1288.3 1115.8 1301.7 1125.8 1300 1140C1298.3 1154.2 1280 1182.5 1270 1200C1260 1217.5 1253.3 1232.5 1240 1245C1226.7 1257.5 1208.3 1269.2 1190 1275C1171.7 1280.8 1153.3 1281.7 1130 1280C1106.7 1278.3 1076.7 1272.5 1050 1265C1023.3 1257.5 996.7 1245.8 970 1235C943.3 1224.2 920 1212.5 890 1200C860 1187.5 821.7 1173.3 790 1160C758.3 1146.7 715 1130 700 1120C685 1110 683.3 1098.3 700 1100Z" fill="#dcecaa" stroke="#dcecaa" stroke-width="3" stroke-linejoin="round"/><path d="M1340 1075C1351.7 1068.3 1393.3 1065 1420 1060C1446.7 1055 1476.7 1046.7 1500 1045C1523.3 1043.3 1540 1050 1560 1050C1580 1050 1596.7 1048.3 1620 1045C1643.3 1041.7 1673.3 1037.5 1700 1030C1726.7 1022.5 1763.3 1003.3 1780 1000C1796.7 996.7 1801.7 1005 1800 1010C1798.3 1015 1786.7 1021.7 1770 1030C1753.3 1038.3 1728.3 1051.7 1700 1060C1671.7 1068.3 1633.3 1075 1600 1080C1566.7 1085 1530 1087.5 1500 1090C1470 1092.5 1445 1093.3 1420 1095C1395 1096.7 1363.3 1103.3 1350 1100C1336.7 1096.7 1328.3 1081.7 1340 1075Z" fill="#dcecaa" stroke="#dcecaa" stroke-width="3" stroke-linejoin="round"/><path d="M860 610C950 650 1050 690 1150 715C1250 735 1350 760 1450 800" fill="none" stroke="#000" stroke-opacity="0.5" stroke-width="60" stroke-linecap="round" filter="url(#b40)"/><path d="M950 650C1020 680 1080 700 1220 730" fill="none" stroke="#000" stroke-opacity="0.6" stroke-width="30" stroke-linecap="round" filter="url(#b20)"/><path d="M800 800C900 850 1000 900 1150 1000" fill="none" stroke="#000" stroke-opacity="0.35" stroke-width="40" stroke-linecap="round" filter="url(#b20)"/><path d="M500 350C600 370 700 380 800 360" fill="none" stroke="#000" stroke-opacity="0.4" stroke-width="40" stroke-linecap="round" filter="url(#b20)"/><path d="M750 130C850 110 950 120 1050 150" fill="none" stroke="#000" stroke-opacity="0.4" stroke-width="70" stroke-linecap="round" filter="url(#b40)"/><path d="M1250 200C1400 260 1550 350 1700 500" fill="none" stroke="#000" stroke-opacity="0.45" stroke-width="110" stroke-linecap="round" filter="url(#b40)"/><path d="M420 240C320 380 250 500 150 680" fill="none" stroke="#000" stroke-opacity="0.3" stroke-width="80" stroke-linecap="round" filter="url(#b40)"/><path d="M960 655C1020 680 1080 700 1200 725" fill="none" stroke="#000" stroke-opacity="0.55" stroke-width="14" stroke-linecap="round" filter="url(#b10)"/><path d="M92 790C89.5 770 93.7 760 100 740C106.3 720 116.7 695 130 670C143.3 645 161.7 618.3 180 590C198.3 561.7 220 530 240 500C260 470 280 440 300 410C320 380 340 348.3 360 320C380 291.7 398.3 265.8 420 240C441.7 214.2 466.7 186.7 490 165C513.3 143.3 535 125 560 110C585 95 613.3 83.3 640 75C666.7 66.7 690 63.3 720 60C750 56.7 786.7 54.2 820 55C853.3 55.8 886.7 60 920 65C953.3 70 986.7 77.5 1020 85C1053.3 92.5 1086.7 100.8 1120 110C1153.3 119.2 1186.7 129.2 1220 140C1253.3 150.8 1286.7 161.7 1320 175C1353.3 188.3 1388.3 203.3 1420 220C1451.7 236.7 1481.7 255 1510 275C1538.3 295 1565 317.5 1590 340C1615 362.5 1638.3 386.7 1660 410C1681.7 433.3 1701.7 455 1720 480C1738.3 505 1755 531.7 1770 560C1785 588.3 1799.2 620 1810 650C1820.8 680 1829.2 711.7 1835 740C1840.8 768.3 1844.2 793.3 1845 820C1845.8 846.7 1845 876.7 1840 900C1835 923.3 1826.7 941.7 1815 960C1803.3 978.3 1789.2 996.7 1770 1010C1750.8 1023.3 1728.3 1031.7 1700 1040C1671.7 1048.3 1633.3 1055 1600 1060C1566.7 1065 1530 1067.5 1500 1070C1470 1072.5 1445 1073.3 1420 1075C1395 1076.7 1368.3 1076.7 1350 1080C1331.7 1083.3 1321.7 1086.7 1310 1095C1298.3 1103.3 1289.2 1115.8 1280 1130C1270.8 1144.2 1263.3 1165 1255 1180C1246.7 1195 1240.8 1208.3 1230 1220C1219.2 1231.7 1206.7 1243.7 1190 1250C1173.3 1256.3 1151.7 1258.8 1130 1258C1108.3 1257.2 1085 1252.2 1060 1245C1035 1237.8 1006.7 1225.8 980 1215C953.3 1204.2 930 1192.5 900 1180C870 1167.5 833.3 1153.3 800 1140C766.7 1126.7 733.3 1112.5 700 1100C666.7 1087.5 633.3 1075.8 600 1065C566.7 1054.2 533.3 1044.2 500 1035C466.7 1025.8 433.3 1019.2 400 1010C366.7 1000.8 330 990 300 980C270 970 243.3 961.7 220 950C196.7 938.3 177.5 925 160 910C142.5 895 126.3 880 115 860C103.7 840 94.5 810 92 790Z" transform="translate(0 -12)" fill="none" stroke="url(#rg)" stroke-opacity="0.4" stroke-width="160" filter="url(#b40)"/><path d="M92 790C89.5 770 93.7 760 100 740C106.3 720 116.7 695 130 670C143.3 645 161.7 618.3 180 590C198.3 561.7 220 530 240 500C260 470 280 440 300 410C320 380 340 348.3 360 320C380 291.7 398.3 265.8 420 240C441.7 214.2 466.7 186.7 490 165C513.3 143.3 535 125 560 110C585 95 613.3 83.3 640 75C666.7 66.7 690 63.3 720 60C750 56.7 786.7 54.2 820 55C853.3 55.8 886.7 60 920 65C953.3 70 986.7 77.5 1020 85C1053.3 92.5 1086.7 100.8 1120 110C1153.3 119.2 1186.7 129.2 1220 140C1253.3 150.8 1286.7 161.7 1320 175C1353.3 188.3 1388.3 203.3 1420 220C1451.7 236.7 1481.7 255 1510 275C1538.3 295 1565 317.5 1590 340C1615 362.5 1638.3 386.7 1660 410C1681.7 433.3 1701.7 455 1720 480C1738.3 505 1755 531.7 1770 560C1785 588.3 1799.2 620 1810 650C1820.8 680 1829.2 711.7 1835 740C1840.8 768.3 1844.2 793.3 1845 820C1845.8 846.7 1845 876.7 1840 900C1835 923.3 1826.7 941.7 1815 960C1803.3 978.3 1789.2 996.7 1770 1010C1750.8 1023.3 1728.3 1031.7 1700 1040C1671.7 1048.3 1633.3 1055 1600 1060C1566.7 1065 1530 1067.5 1500 1070C1470 1072.5 1445 1073.3 1420 1075C1395 1076.7 1368.3 1076.7 1350 1080C1331.7 1083.3 1321.7 1086.7 1310 1095C1298.3 1103.3 1289.2 1115.8 1280 1130C1270.8 1144.2 1263.3 1165 1255 1180C1246.7 1195 1240.8 1208.3 1230 1220C1219.2 1231.7 1206.7 1243.7 1190 1250C1173.3 1256.3 1151.7 1258.8 1130 1258C1108.3 1257.2 1085 1252.2 1060 1245C1035 1237.8 1006.7 1225.8 980 1215C953.3 1204.2 930 1192.5 900 1180C870 1167.5 833.3 1153.3 800 1140C766.7 1126.7 733.3 1112.5 700 1100C666.7 1087.5 633.3 1075.8 600 1065C566.7 1054.2 533.3 1044.2 500 1035C466.7 1025.8 433.3 1019.2 400 1010C366.7 1000.8 330 990 300 980C270 970 243.3 961.7 220 950C196.7 938.3 177.5 925 160 910C142.5 895 126.3 880 115 860C103.7 840 94.5 810 92 790Z" transform="translate(0 -6)" fill="none" stroke="url(#rg)" stroke-opacity="0.75" stroke-width="42" filter="url(#b20)"/></g><path d="M92 790C89.5 770 93.7 760 100 740C106.3 720 116.7 695 130 670C143.3 645 161.7 618.3 180 590C198.3 561.7 220 530 240 500C260 470 280 440 300 410C320 380 340 348.3 360 320C380 291.7 398.3 265.8 420 240C441.7 214.2 466.7 186.7 490 165C513.3 143.3 535 125 560 110C585 95 613.3 83.3 640 75C666.7 66.7 690 63.3 720 60C750 56.7 786.7 54.2 820 55C853.3 55.8 886.7 60 920 65C953.3 70 986.7 77.5 1020 85C1053.3 92.5 1086.7 100.8 1120 110C1153.3 119.2 1186.7 129.2 1220 140C1253.3 150.8 1286.7 161.7 1320 175C1353.3 188.3 1388.3 203.3 1420 220C1451.7 236.7 1481.7 255 1510 275C1538.3 295 1565 317.5 1590 340C1615 362.5 1638.3 386.7 1660 410C1681.7 433.3 1701.7 455 1720 480C1738.3 505 1755 531.7 1770 560C1785 588.3 1799.2 620 1810 650C1820.8 680 1829.2 711.7 1835 740C1840.8 768.3 1844.2 793.3 1845 820C1845.8 846.7 1845 876.7 1840 900C1835 923.3 1826.7 941.7 1815 960C1803.3 978.3 1789.2 996.7 1770 1010C1750.8 1023.3 1728.3 1031.7 1700 1040C1671.7 1048.3 1633.3 1055 1600 1060C1566.7 1065 1530 1067.5 1500 1070C1470 1072.5 1445 1073.3 1420 1075C1395 1076.7 1368.3 1076.7 1350 1080C1331.7 1083.3 1321.7 1086.7 1310 1095C1298.3 1103.3 1289.2 1115.8 1280 1130C1270.8 1144.2 1263.3 1165 1255 1180C1246.7 1195 1240.8 1208.3 1230 1220C1219.2 1231.7 1206.7 1243.7 1190 1250C1173.3 1256.3 1151.7 1258.8 1130 1258C1108.3 1257.2 1085 1252.2 1060 1245C1035 1237.8 1006.7 1225.8 980 1215C953.3 1204.2 930 1192.5 900 1180C870 1167.5 833.3 1153.3 800 1140C766.7 1126.7 733.3 1112.5 700 1100C666.7 1087.5 633.3 1075.8 600 1065C566.7 1054.2 533.3 1044.2 500 1035C466.7 1025.8 433.3 1019.2 400 1010C366.7 1000.8 330 990 300 980C270 970 243.3 961.7 220 950C196.7 938.3 177.5 925 160 910C142.5 895 126.3 880 115 860C103.7 840 94.5 810 92 790Z" fill="none" stroke="#000" stroke-opacity="0.7" stroke-width="5"/></g>
<g transform="translate(490 15) scale(0.13430)"><clipPath id="cpA3"><path d="M90 800C90.8 785 93.3 761.7 100 740C106.7 718.3 116.7 695 130 670C143.3 645 161.7 618.3 180 590C198.3 561.7 220 530 240 500C260 470 280 440 300 410C320 380 340 348.3 360 320C380 291.7 398.3 265 420 240C441.7 215 466.7 190 490 170C513.3 150 535 134.2 560 120C585 105.8 613.3 93.3 640 85C666.7 76.7 690 72.8 720 70C750 67.2 786.7 66.7 820 68C853.3 69.3 886.7 73 920 78C953.3 83 986.7 90.2 1020 98C1053.3 105.8 1086.7 115.5 1120 125C1153.3 134.5 1186.7 144.2 1220 155C1253.3 165.8 1286.7 176.7 1320 190C1353.3 203.3 1388.3 219.2 1420 235C1451.7 250.8 1481.7 266.7 1510 285C1538.3 303.3 1565 323.3 1590 345C1615 366.7 1638.3 390.8 1660 415C1681.7 439.2 1701.7 464.2 1720 490C1738.3 515.8 1755 541.7 1770 570C1785 598.3 1799.2 630 1810 660C1820.8 690 1828.7 723.3 1835 750C1841.3 776.7 1846.3 798.3 1848 820C1849.7 841.7 1848.8 860 1845 880C1841.2 900 1834.2 921.7 1825 940C1815.8 958.3 1805.8 975 1790 990C1774.2 1005 1753.3 1019.2 1730 1030C1706.7 1040.8 1680 1048.3 1650 1055C1620 1061.7 1583.3 1066.7 1550 1070C1516.7 1073.3 1480 1072.5 1450 1075C1420 1077.5 1393.3 1080.8 1370 1085C1346.7 1089.2 1325.8 1092.5 1310 1100C1294.2 1107.5 1285 1118.3 1275 1130C1265 1141.7 1258.3 1155.8 1250 1170C1241.7 1184.2 1235 1202.5 1225 1215C1215 1227.5 1205.8 1237.8 1190 1245C1174.2 1252.2 1151.7 1258 1130 1258C1108.3 1258 1085 1252.2 1060 1245C1035 1237.8 1006.7 1225.8 980 1215C953.3 1204.2 930 1192.5 900 1180C870 1167.5 833.3 1153.3 800 1140C766.7 1126.7 733.3 1112.5 700 1100C666.7 1087.5 633.3 1075.8 600 1065C566.7 1054.2 533.3 1044.2 500 1035C466.7 1025.8 433.3 1018.3 400 1010C366.7 1001.7 330 994.2 300 985C270 975.8 243.3 965.8 220 955C196.7 944.2 177.5 934.2 160 920C142.5 905.8 125.8 885 115 870C104.2 855 99.2 841.7 95 830C90.8 818.3 89.2 815 90 800Z"/></clipPath><g clip-path="url(#cpA3)"><path d="M90 800C90.8 785 93.3 761.7 100 740C106.7 718.3 116.7 695 130 670C143.3 645 161.7 618.3 180 590C198.3 561.7 220 530 240 500C260 470 280 440 300 410C320 380 340 348.3 360 320C380 291.7 398.3 265 420 240C441.7 215 466.7 190 490 170C513.3 150 535 134.2 560 120C585 105.8 613.3 93.3 640 85C666.7 76.7 690 72.8 720 70C750 67.2 786.7 66.7 820 68C853.3 69.3 886.7 73 920 78C953.3 83 986.7 90.2 1020 98C1053.3 105.8 1086.7 115.5 1120 125C1153.3 134.5 1186.7 144.2 1220 155C1253.3 165.8 1286.7 176.7 1320 190C1353.3 203.3 1388.3 219.2 1420 235C1451.7 250.8 1481.7 266.7 1510 285C1538.3 303.3 1565 323.3 1590 345C1615 366.7 1638.3 390.8 1660 415C1681.7 439.2 1701.7 464.2 1720 490C1738.3 515.8 1755 541.7 1770 570C1785 598.3 1799.2 630 1810 660C1820.8 690 1828.7 723.3 1835 750C1841.3 776.7 1846.3 798.3 1848 820C1849.7 841.7 1848.8 860 1845 880C1841.2 900 1834.2 921.7 1825 940C1815.8 958.3 1805.8 975 1790 990C1774.2 1005 1753.3 1019.2 1730 1030C1706.7 1040.8 1680 1048.3 1650 1055C1620 1061.7 1583.3 1066.7 1550 1070C1516.7 1073.3 1480 1072.5 1450 1075C1420 1077.5 1393.3 1080.8 1370 1085C1346.7 1089.2 1325.8 1092.5 1310 1100C1294.2 1107.5 1285 1118.3 1275 1130C1265 1141.7 1258.3 1155.8 1250 1170C1241.7 1184.2 1235 1202.5 1225 1215C1215 1227.5 1205.8 1237.8 1190 1245C1174.2 1252.2 1151.7 1258 1130 1258C1108.3 1258 1085 1252.2 1060 1245C1035 1237.8 1006.7 1225.8 980 1215C953.3 1204.2 930 1192.5 900 1180C870 1167.5 833.3 1153.3 800 1140C766.7 1126.7 733.3 1112.5 700 1100C666.7 1087.5 633.3 1075.8 600 1065C566.7 1054.2 533.3 1044.2 500 1035C466.7 1025.8 433.3 1018.3 400 1010C366.7 1001.7 330 994.2 300 985C270 975.8 243.3 965.8 220 955C196.7 944.2 177.5 934.2 160 920C142.5 905.8 125.8 885 115 870C104.2 855 99.2 841.7 95 830C90.8 818.3 89.2 815 90 800Z" fill="#cc4052"/><path d="M310 430C295 431.7 263.3 455 240 480C216.7 505 196.7 540 170 580C143.3 620 96.7 683.3 80 720C63.3 756.7 68.3 773.3 70 800C71.7 826.7 76.7 856.7 90 880C103.3 903.3 128.3 924.2 150 940C171.7 955.8 195 964.2 220 975C245 985.8 270 995.8 300 1005C330 1014.2 366.7 1021.7 400 1030C433.3 1038.3 466.7 1045.8 500 1055C533.3 1064.2 566.7 1074.2 600 1085C633.3 1095.8 666.7 1107.5 700 1120C733.3 1132.5 766.7 1147.5 800 1160C833.3 1172.5 883.3 1193.3 900 1195C916.7 1196.7 903.3 1179.2 900 1170C896.7 1160.8 891.7 1155 880 1140C868.3 1125 845 1096.7 830 1080C815 1063.3 801.7 1053.3 790 1040C778.3 1026.7 771.7 1015 760 1000C748.3 985 731.7 966.7 720 950C708.3 933.3 697.5 916.7 690 900C682.5 883.3 679.2 866.7 675 850C670.8 833.3 669.2 813.3 665 800C660.8 786.7 660.8 775 650 770C639.2 765 618.3 770.8 600 770C581.7 769.2 560 771.7 540 765C520 758.3 500 740.8 480 730C460 719.2 433.3 715 420 700C406.7 685 406.7 660 400 640C393.3 620 388.3 600 380 580C371.7 560 358.3 538.3 350 520C341.7 501.7 336.7 485 330 470C323.3 455 325 428.3 310 430Z" fill="#731683" stroke="#731683" stroke-width="3" stroke-linejoin="round"/><path d="M310 440C318.3 450 320 473.3 330 470C340 466.7 359.2 436.7 370 420C380.8 403.3 390 386.7 395 370C400 353.3 392.5 330 400 320C407.5 310 425 308.3 440 310C455 311.7 475 328.3 490 330C505 331.7 519.2 328.3 530 320C540.8 311.7 551.7 293.3 555 280C558.3 266.7 555.8 249.2 550 240C544.2 230.8 535 227.5 520 225C505 222.5 476.7 223.3 460 225C443.3 226.7 431.7 230.8 420 235C408.3 239.2 403.3 235.8 390 250C376.7 264.2 358.3 293.3 340 320C321.7 346.7 285 390 280 410C275 430 301.7 430 310 440Z" fill="#e0912a" stroke="#e0912a" stroke-width="3" stroke-linejoin="round"/><path d="M410 240C418.3 226.7 456.7 182.5 480 160C503.3 137.5 523.3 120 550 105C576.7 90 621.7 72.5 640 70C658.3 67.5 661.7 80 660 90C658.3 100 641.7 116.7 630 130C618.3 143.3 601.7 158.3 590 170C578.3 181.7 568.3 190.8 560 200C551.7 209.2 546.7 220.8 540 225C533.3 229.2 533.3 225 520 225C506.7 225 475 222.5 460 225C445 227.5 438.3 237.5 430 240C421.7 242.5 401.7 253.3 410 240Z" fill="#066a10" stroke="#066a10" stroke-width="3" stroke-linejoin="round"/><path d="M540 225C540.8 216.7 551.7 209.2 560 200C568.3 190.8 578.3 180.8 590 170C601.7 159.2 618.3 138.3 630 135C641.7 131.7 650 140.8 660 150C670 159.2 680 177.5 690 190C700 202.5 705 215 720 225C735 235 763.3 242.5 780 250C796.7 257.5 805 268.3 820 270C835 271.7 853.3 258.3 870 260C886.7 261.7 905 271.7 920 280C935 288.3 946.7 298.3 960 310C973.3 321.7 986.7 338.3 1000 350C1013.3 361.7 1033.3 371.7 1040 380C1046.7 388.3 1050 396.7 1040 400C1030 403.3 1003.3 400 980 400C956.7 400 926.7 400.8 900 400C873.3 399.2 843.3 397.5 820 395C796.7 392.5 776.7 389.2 760 385C743.3 380.8 731.7 377.5 720 370C708.3 362.5 701.7 351.7 690 340C678.3 328.3 665 310 650 300C635 290 615 284.2 600 280C585 275.8 567.5 280 560 275C552.5 270 558.3 258.3 555 250C551.7 241.7 539.2 233.3 540 225Z" fill="#c33af5" stroke="#c33af5" stroke-width="3" stroke-linejoin="round"/><path d="M640 70C650 63.7 690 55.3 720 52C750 48.7 786.7 48.7 820 50C853.3 51.3 886.7 54.7 920 60C953.3 65.3 1000 70.3 1020 82C1040 93.7 1026.7 117 1040 130C1053.3 143 1080 152.5 1100 160C1120 167.5 1143.3 171.7 1160 175C1176.7 178.3 1195 170.8 1200 180C1205 189.2 1198.3 215 1190 230C1181.7 245 1158.3 256.7 1150 270C1141.7 283.3 1148.3 298.3 1140 310C1131.7 321.7 1111.7 330 1100 340C1088.3 350 1080 362.5 1070 370C1060 377.5 1051.7 388.3 1040 385C1028.3 381.7 1013.3 362.5 1000 350C986.7 337.5 973.3 321.7 960 310C946.7 298.3 935 288.3 920 280C905 271.7 886.7 261.7 870 260C853.3 258.3 835 271.7 820 270C805 268.3 796.7 257.5 780 250C763.3 242.5 735 235 720 225C705 215 700 202.5 690 190C680 177.5 670 159.2 660 150C650 140.8 630 145 630 135C630 125 658.3 100.8 660 90C661.7 79.2 630 76.3 640 70Z" fill="#4682b4" stroke="#4682b4" stroke-width="3" stroke-linejoin="round"/><path d="M1020 82C1033.3 78.7 1085.8 99.5 1120 110C1154.2 120.5 1211.7 133.3 1225 145C1238.3 156.7 1210.8 175 1200 180C1189.2 185 1176.7 178.3 1160 175C1143.3 171.7 1120 167.5 1100 160C1080 152.5 1053.3 143 1040 130C1026.7 117 1006.7 85.3 1020 82Z" fill="#c33af5" stroke="#c33af5" stroke-width="3" stroke-linejoin="round"/><path d="M1200 180C1205 175 1210 191.7 1220 200C1230 208.3 1243.3 218.3 1260 230C1276.7 241.7 1303.3 256.7 1320 270C1336.7 283.3 1343.3 296.7 1360 310C1376.7 323.3 1403.3 336.7 1420 350C1436.7 363.3 1446.7 376.7 1460 390C1473.3 403.3 1488.3 416.7 1500 430C1511.7 443.3 1523.3 455 1530 470C1536.7 485 1541.7 505 1540 520C1538.3 535 1530 550 1520 560C1510 570 1493.3 577.5 1480 580C1466.7 582.5 1453.3 580 1440 575C1426.7 570 1415 557.5 1400 550C1385 542.5 1365 538.3 1350 530C1335 521.7 1325 510 1310 500C1295 490 1278.3 478.3 1260 470C1241.7 461.7 1218.3 455 1200 450C1181.7 445 1163.3 443.3 1150 440C1136.7 436.7 1131.7 436.7 1120 430C1108.3 423.3 1093.3 405 1080 400C1066.7 395 1046.7 402.5 1040 400C1033.3 397.5 1035 390 1040 385C1045 380 1060 377.5 1070 370C1080 362.5 1088.3 350 1100 340C1111.7 330 1131.7 321.7 1140 310C1148.3 298.3 1141.7 283.3 1150 270C1158.3 256.7 1181.7 245 1190 230C1198.3 215 1195 185 1200 180Z" fill="#c33af5" stroke="#c33af5" stroke-width="3" stroke-linejoin="round"/><path d="M1330 270C1335 264.2 1363.3 256.7 1380 255C1396.7 253.3 1413.3 252.5 1430 260C1446.7 267.5 1463.3 286.7 1480 300C1496.7 313.3 1513.3 326.7 1530 340C1546.7 353.3 1566.7 368.3 1580 380C1593.3 391.7 1606.7 398.3 1610 410C1613.3 421.7 1605 438.3 1600 450C1595 461.7 1588.3 476.7 1580 480C1571.7 483.3 1558.3 476.7 1550 470C1541.7 463.3 1538.3 450 1530 440C1521.7 430 1511.7 420 1500 410C1488.3 400 1473.3 390 1460 380C1446.7 370 1433.3 360.8 1420 350C1406.7 339.2 1391.7 325 1380 315C1368.3 305 1358.3 297.5 1350 290C1341.7 282.5 1325 275.8 1330 270Z" fill="#e0912a" stroke="#e0912a" stroke-width="3" stroke-linejoin="round"/><path d="M820 490C826.7 477.5 848.3 470 870 465C891.7 460 925 459.2 950 460C975 460.8 998.3 467.5 1020 470C1041.7 472.5 1058.3 478.3 1080 475C1101.7 471.7 1130 452.5 1150 450C1170 447.5 1181.7 455 1200 460C1218.3 465 1241.7 471.7 1260 480C1278.3 488.3 1295 499.2 1310 510C1325 520.8 1340.8 533.3 1350 545C1359.2 556.7 1365 569.2 1365 580C1365 590.8 1360.8 606.7 1350 610C1339.2 613.3 1318.3 605 1300 600C1281.7 595 1260 585 1240 580C1220 575 1200 573.3 1180 570C1160 566.7 1140 560 1120 560C1100 560 1080 566.7 1060 570C1040 573.3 1020 576.7 1000 580C980 583.3 960 586.7 940 590C920 593.3 895 600 880 600C865 600 858.3 600 850 590C841.7 580 835 556.7 830 540C825 523.3 813.3 502.5 820 490Z" fill="#e0912a" stroke="#e0912a" stroke-width="3" stroke-linejoin="round"/><path d="M790 1040C785 1033.3 790 1035 800 1040C810 1045 833.3 1060 850 1070C866.7 1080 883.3 1090 900 1100C916.7 1110 933.3 1121.7 950 1130C966.7 1138.3 983.3 1144.2 1000 1150C1016.7 1155.8 1033.3 1160 1050 1165C1066.7 1170 1083.3 1177.5 1100 1180C1116.7 1182.5 1133.3 1181.7 1150 1180C1166.7 1178.3 1185 1175 1200 1170C1215 1165 1228.3 1159.2 1240 1150C1251.7 1140.8 1262.5 1126.7 1270 1115C1277.5 1103.3 1283.3 1094.2 1285 1080C1286.7 1065.8 1277.5 1045 1280 1030C1282.5 1015 1291.7 1001.7 1300 990C1308.3 978.3 1318.3 967.5 1330 960C1341.7 952.5 1358.3 945 1370 945C1381.7 945 1391.7 952.5 1400 960C1408.3 967.5 1410 982.5 1420 990C1430 997.5 1443.3 1001.7 1460 1005C1476.7 1008.3 1496.7 1009.2 1520 1010C1543.3 1010.8 1573.3 1009.2 1600 1010C1626.7 1010.8 1656.7 1016.7 1680 1015C1703.3 1013.3 1721.7 1007.5 1740 1000C1758.3 992.5 1775 986.7 1790 970C1805 953.3 1820.8 923.3 1830 900C1839.2 876.7 1838.3 841.7 1845 830C1851.7 818.3 1866.7 818.3 1870 830C1873.3 841.7 1869.2 877.5 1865 900C1860.8 922.5 1855 945 1845 965C1835 985 1822.5 1004.2 1805 1020C1787.5 1035.8 1765.8 1049.2 1740 1060C1714.2 1070.8 1681.7 1078.3 1650 1085C1618.3 1091.7 1583.3 1096.7 1550 1100C1516.7 1103.3 1480 1102.5 1450 1105C1420 1107.5 1390.8 1110.8 1370 1115C1349.2 1119.2 1337.5 1123.3 1325 1130C1312.5 1136.7 1304.2 1144.2 1295 1155C1285.8 1165.8 1278.3 1180.8 1270 1195C1261.7 1209.2 1256.7 1226.7 1245 1240C1233.3 1253.3 1219.2 1266.7 1200 1275C1180.8 1283.3 1155 1290 1130 1290C1105 1290 1076.7 1282.5 1050 1275C1023.3 1267.5 995 1256.7 970 1245C945 1233.3 915 1222.5 900 1205C885 1187.5 891.7 1160.8 880 1140C868.3 1119.2 845 1096.7 830 1080C815 1063.3 795 1046.7 790 1040Z" fill="#dcecaa" stroke="#dcecaa" stroke-width="3" stroke-linejoin="round"/><path d="M660 720C665 706.7 670 685 680 670C690 655 703.3 640 720 630C736.7 620 758.3 616.7 780 610C801.7 603.3 823.3 595.8 850 590C876.7 584.2 915 579.2 940 575C965 570.8 980 568.3 1000 565C1020 561.7 1040 557.8 1060 555C1080 552.2 1100 547.5 1120 548C1140 548.5 1160 554.3 1180 558C1200 561.7 1220 564.7 1240 570C1260 575.3 1283.3 584.2 1300 590C1316.7 595.8 1326.7 598.3 1340 605C1353.3 611.7 1365 619.2 1380 630C1395 640.8 1413.3 656.7 1430 670C1446.7 683.3 1465.8 695 1480 710C1494.2 725 1507.5 743.3 1515 760C1522.5 776.7 1525.8 794.2 1525 810C1524.2 825.8 1519.2 843.3 1510 855C1500.8 866.7 1483.3 872.5 1470 880C1456.7 887.5 1441.7 891.7 1430 900C1418.3 908.3 1410 922.5 1400 930C1390 937.5 1381.7 940 1370 945C1358.3 950 1341.7 952.5 1330 960C1318.3 967.5 1308.3 978.3 1300 990C1291.7 1001.7 1282.5 1015 1280 1030C1277.5 1045 1286.7 1065.8 1285 1080C1283.3 1094.2 1277.5 1103.3 1270 1115C1262.5 1126.7 1251.7 1140.8 1240 1150C1228.3 1159.2 1215 1165 1200 1170C1185 1175 1166.7 1178.3 1150 1180C1133.3 1181.7 1116.7 1182.5 1100 1180C1083.3 1177.5 1066.7 1170 1050 1165C1033.3 1160 1016.7 1155.8 1000 1150C983.3 1144.2 966.7 1138.3 950 1130C933.3 1121.7 916.7 1110 900 1100C883.3 1090 866.7 1080 850 1070C833.3 1060 815 1051.7 800 1040C785 1028.3 773.3 1015 760 1000C746.7 985 731.7 966.7 720 950C708.3 933.3 697.5 916.7 690 900C682.5 883.3 679.2 866.7 675 850C670.8 833.3 669.2 816.7 665 800C660.8 783.3 650.8 763.3 650 750C649.2 736.7 655 733.3 660 720Z" fill="#000" stroke="#000" stroke-width="3" stroke-linejoin="round"/><path d="M700 450C900 420 1000 440 1150 440" fill="none" stroke="#000" stroke-opacity="0.15" stroke-width="50" stroke-linecap="round" filter="url(#b40)"/><path d="M90 800C90.8 785 93.3 761.7 100 740C106.7 718.3 116.7 695 130 670C143.3 645 161.7 618.3 180 590C198.3 561.7 220 530 240 500C260 470 280 440 300 410C320 380 340 348.3 360 320C380 291.7 398.3 265 420 240C441.7 215 466.7 190 490 170C513.3 150 535 134.2 560 120C585 105.8 613.3 93.3 640 85C666.7 76.7 690 72.8 720 70C750 67.2 786.7 66.7 820 68C853.3 69.3 886.7 73 920 78C953.3 83 986.7 90.2 1020 98C1053.3 105.8 1086.7 115.5 1120 125C1153.3 134.5 1186.7 144.2 1220 155C1253.3 165.8 1286.7 176.7 1320 190C1353.3 203.3 1388.3 219.2 1420 235C1451.7 250.8 1481.7 266.7 1510 285C1538.3 303.3 1565 323.3 1590 345C1615 366.7 1638.3 390.8 1660 415C1681.7 439.2 1701.7 464.2 1720 490C1738.3 515.8 1755 541.7 1770 570C1785 598.3 1799.2 630 1810 660C1820.8 690 1828.7 723.3 1835 750C1841.3 776.7 1846.3 798.3 1848 820C1849.7 841.7 1848.8 860 1845 880C1841.2 900 1834.2 921.7 1825 940C1815.8 958.3 1805.8 975 1790 990C1774.2 1005 1753.3 1019.2 1730 1030C1706.7 1040.8 1680 1048.3 1650 1055C1620 1061.7 1583.3 1066.7 1550 1070C1516.7 1073.3 1480 1072.5 1450 1075C1420 1077.5 1393.3 1080.8 1370 1085C1346.7 1089.2 1325.8 1092.5 1310 1100C1294.2 1107.5 1285 1118.3 1275 1130C1265 1141.7 1258.3 1155.8 1250 1170C1241.7 1184.2 1235 1202.5 1225 1215C1215 1227.5 1205.8 1237.8 1190 1245C1174.2 1252.2 1151.7 1258 1130 1258C1108.3 1258 1085 1252.2 1060 1245C1035 1237.8 1006.7 1225.8 980 1215C953.3 1204.2 930 1192.5 900 1180C870 1167.5 833.3 1153.3 800 1140C766.7 1126.7 733.3 1112.5 700 1100C666.7 1087.5 633.3 1075.8 600 1065C566.7 1054.2 533.3 1044.2 500 1035C466.7 1025.8 433.3 1018.3 400 1010C366.7 1001.7 330 994.2 300 985C270 975.8 243.3 965.8 220 955C196.7 944.2 177.5 934.2 160 920C142.5 905.8 125.8 885 115 870C104.2 855 99.2 841.7 95 830C90.8 818.3 89.2 815 90 800Z" transform="translate(0 -12)" fill="none" stroke="url(#rg)" stroke-opacity="0.3" stroke-width="160" filter="url(#b40)"/><path d="M90 800C90.8 785 93.3 761.7 100 740C106.7 718.3 116.7 695 130 670C143.3 645 161.7 618.3 180 590C198.3 561.7 220 530 240 500C260 470 280 440 300 410C320 380 340 348.3 360 320C380 291.7 398.3 265 420 240C441.7 215 466.7 190 490 170C513.3 150 535 134.2 560 120C585 105.8 613.3 93.3 640 85C666.7 76.7 690 72.8 720 70C750 67.2 786.7 66.7 820 68C853.3 69.3 886.7 73 920 78C953.3 83 986.7 90.2 1020 98C1053.3 105.8 1086.7 115.5 1120 125C1153.3 134.5 1186.7 144.2 1220 155C1253.3 165.8 1286.7 176.7 1320 190C1353.3 203.3 1388.3 219.2 1420 235C1451.7 250.8 1481.7 266.7 1510 285C1538.3 303.3 1565 323.3 1590 345C1615 366.7 1638.3 390.8 1660 415C1681.7 439.2 1701.7 464.2 1720 490C1738.3 515.8 1755 541.7 1770 570C1785 598.3 1799.2 630 1810 660C1820.8 690 1828.7 723.3 1835 750C1841.3 776.7 1846.3 798.3 1848 820C1849.7 841.7 1848.8 860 1845 880C1841.2 900 1834.2 921.7 1825 940C1815.8 958.3 1805.8 975 1790 990C1774.2 1005 1753.3 1019.2 1730 1030C1706.7 1040.8 1680 1048.3 1650 1055C1620 1061.7 1583.3 1066.7 1550 1070C1516.7 1073.3 1480 1072.5 1450 1075C1420 1077.5 1393.3 1080.8 1370 1085C1346.7 1089.2 1325.8 1092.5 1310 1100C1294.2 1107.5 1285 1118.3 1275 1130C1265 1141.7 1258.3 1155.8 1250 1170C1241.7 1184.2 1235 1202.5 1225 1215C1215 1227.5 1205.8 1237.8 1190 1245C1174.2 1252.2 1151.7 1258 1130 1258C1108.3 1258 1085 1252.2 1060 1245C1035 1237.8 1006.7 1225.8 980 1215C953.3 1204.2 930 1192.5 900 1180C870 1167.5 833.3 1153.3 800 1140C766.7 1126.7 733.3 1112.5 700 1100C666.7 1087.5 633.3 1075.8 600 1065C566.7 1054.2 533.3 1044.2 500 1035C466.7 1025.8 433.3 1018.3 400 1010C366.7 1001.7 330 994.2 300 985C270 975.8 243.3 965.8 220 955C196.7 944.2 177.5 934.2 160 920C142.5 905.8 125.8 885 115 870C104.2 855 99.2 841.7 95 830C90.8 818.3 89.2 815 90 800Z" transform="translate(0 -6)" fill="none" stroke="url(#rg)" stroke-opacity="0.6" stroke-width="42" filter="url(#b20)"/></g><path d="M90 800C90.8 785 93.3 761.7 100 740C106.7 718.3 116.7 695 130 670C143.3 645 161.7 618.3 180 590C198.3 561.7 220 530 240 500C260 470 280 440 300 410C320 380 340 348.3 360 320C380 291.7 398.3 265 420 240C441.7 215 466.7 190 490 170C513.3 150 535 134.2 560 120C585 105.8 613.3 93.3 640 85C666.7 76.7 690 72.8 720 70C750 67.2 786.7 66.7 820 68C853.3 69.3 886.7 73 920 78C953.3 83 986.7 90.2 1020 98C1053.3 105.8 1086.7 115.5 1120 125C1153.3 134.5 1186.7 144.2 1220 155C1253.3 165.8 1286.7 176.7 1320 190C1353.3 203.3 1388.3 219.2 1420 235C1451.7 250.8 1481.7 266.7 1510 285C1538.3 303.3 1565 323.3 1590 345C1615 366.7 1638.3 390.8 1660 415C1681.7 439.2 1701.7 464.2 1720 490C1738.3 515.8 1755 541.7 1770 570C1785 598.3 1799.2 630 1810 660C1820.8 690 1828.7 723.3 1835 750C1841.3 776.7 1846.3 798.3 1848 820C1849.7 841.7 1848.8 860 1845 880C1841.2 900 1834.2 921.7 1825 940C1815.8 958.3 1805.8 975 1790 990C1774.2 1005 1753.3 1019.2 1730 1030C1706.7 1040.8 1680 1048.3 1650 1055C1620 1061.7 1583.3 1066.7 1550 1070C1516.7 1073.3 1480 1072.5 1450 1075C1420 1077.5 1393.3 1080.8 1370 1085C1346.7 1089.2 1325.8 1092.5 1310 1100C1294.2 1107.5 1285 1118.3 1275 1130C1265 1141.7 1258.3 1155.8 1250 1170C1241.7 1184.2 1235 1202.5 1225 1215C1215 1227.5 1205.8 1237.8 1190 1245C1174.2 1252.2 1151.7 1258 1130 1258C1108.3 1258 1085 1252.2 1060 1245C1035 1237.8 1006.7 1225.8 980 1215C953.3 1204.2 930 1192.5 900 1180C870 1167.5 833.3 1153.3 800 1140C766.7 1126.7 733.3 1112.5 700 1100C666.7 1087.5 633.3 1075.8 600 1065C566.7 1054.2 533.3 1044.2 500 1035C466.7 1025.8 433.3 1018.3 400 1010C366.7 1001.7 330 994.2 300 985C270 975.8 243.3 965.8 220 955C196.7 944.2 177.5 934.2 160 920C142.5 905.8 125.8 885 115 870C104.2 855 99.2 841.7 95 830C90.8 818.3 89.2 815 90 800Z" fill="none" stroke="#000" stroke-opacity="0.7" stroke-width="5"/></g>
<g transform="translate(735 15) scale(0.13430)"><clipPath id="cpA4"><path d="M60 800C60.5 783.3 60.8 763.3 65 740C69.2 716.7 75.8 686.7 85 660C94.2 633.3 105.8 606.7 120 580C134.2 553.3 151.7 526.7 170 500C188.3 473.3 208.3 445 230 420C251.7 395 275 372.5 300 350C325 327.5 351.7 305 380 285C408.3 265 438.3 247.5 470 230C501.7 212.5 536.7 195 570 180C603.3 165 636.7 151.7 670 140C703.3 128.3 736.7 119.2 770 110C803.3 100.8 836.7 92 870 85C903.3 78 938.3 72.2 970 68C1001.7 63.8 1030 61 1060 60C1090 59 1121.7 59.5 1150 62C1178.3 64.5 1205 68.7 1230 75C1255 81.3 1276.7 89.2 1300 100C1323.3 110.8 1348.3 125 1370 140C1391.7 155 1410 170.8 1430 190C1450 209.2 1470 230.8 1490 255C1510 279.2 1530 307.5 1550 335C1570 362.5 1590 390.8 1610 420C1630 449.2 1651.7 481.7 1670 510C1688.3 538.3 1705 565 1720 590C1735 615 1748.3 638.3 1760 660C1771.7 681.7 1782 700 1790 720C1798 740 1804.7 761.7 1808 780C1811.3 798.3 1812.2 813.3 1810 830C1807.8 846.7 1803.3 864.2 1795 880C1786.7 895.8 1775.8 911.7 1760 925C1744.2 938.3 1723.3 950 1700 960C1676.7 970 1650 976.7 1620 985C1590 993.3 1553.3 1001.7 1520 1010C1486.7 1018.3 1453.3 1025.8 1420 1035C1386.7 1044.2 1353.3 1054.2 1320 1065C1286.7 1075.8 1253.3 1087.5 1220 1100C1186.7 1112.5 1153.3 1126.7 1120 1140C1086.7 1153.3 1051.7 1166.7 1020 1180C988.3 1193.3 958.3 1208.7 930 1220C901.7 1231.3 875 1242.2 850 1248C825 1253.8 800 1256.3 780 1255C760 1253.7 745 1248.3 730 1240C715 1231.7 701.7 1218.3 690 1205C678.3 1191.7 670 1175 660 1160C650 1145 641.7 1127.5 630 1115C618.3 1102.5 606.7 1091.7 590 1085C573.3 1078.3 553.3 1077.5 530 1075C506.7 1072.5 480 1072.5 450 1070C420 1067.5 381.7 1065 350 1060C318.3 1055 288.3 1049.2 260 1040C231.7 1030.8 203.3 1019.2 180 1005C156.7 990.8 136.7 974.2 120 955C103.3 935.8 89.7 909.2 80 890C70.3 870.8 65.3 855 62 840C58.7 825 59.5 816.7 60 800Z"/></clipPath><g clip-path="url(#cpA4)"><path d="M60 800C60.5 783.3 60.8 763.3 65 740C69.2 716.7 75.8 686.7 85 660C94.2 633.3 105.8 606.7 120 580C134.2 553.3 151.7 526.7 170 500C188.3 473.3 208.3 445 230 420C251.7 395 275 372.5 300 350C325 327.5 351.7 305 380 285C408.3 265 438.3 247.5 470 230C501.7 212.5 536.7 195 570 180C603.3 165 636.7 151.7 670 140C703.3 128.3 736.7 119.2 770 110C803.3 100.8 836.7 92 870 85C903.3 78 938.3 72.2 970 68C1001.7 63.8 1030 61 1060 60C1090 59 1121.7 59.5 1150 62C1178.3 64.5 1205 68.7 1230 75C1255 81.3 1276.7 89.2 1300 100C1323.3 110.8 1348.3 125 1370 140C1391.7 155 1410 170.8 1430 190C1450 209.2 1470 230.8 1490 255C1510 279.2 1530 307.5 1550 335C1570 362.5 1590 390.8 1610 420C1630 449.2 1651.7 481.7 1670 510C1688.3 538.3 1705 565 1720 590C1735 615 1748.3 638.3 1760 660C1771.7 681.7 1782 700 1790 720C1798 740 1804.7 761.7 1808 780C1811.3 798.3 1812.2 813.3 1810 830C1807.8 846.7 1803.3 864.2 1795 880C1786.7 895.8 1775.8 911.7 1760 925C1744.2 938.3 1723.3 950 1700 960C1676.7 970 1650 976.7 1620 985C1590 993.3 1553.3 1001.7 1520 1010C1486.7 1018.3 1453.3 1025.8 1420 1035C1386.7 1044.2 1353.3 1054.2 1320 1065C1286.7 1075.8 1253.3 1087.5 1220 1100C1186.7 1112.5 1153.3 1126.7 1120 1140C1086.7 1153.3 1051.7 1166.7 1020 1180C988.3 1193.3 958.3 1208.7 930 1220C901.7 1231.3 875 1242.2 850 1248C825 1253.8 800 1256.3 780 1255C760 1253.7 745 1248.3 730 1240C715 1231.7 701.7 1218.3 690 1205C678.3 1191.7 670 1175 660 1160C650 1145 641.7 1127.5 630 1115C618.3 1102.5 606.7 1091.7 590 1085C573.3 1078.3 553.3 1077.5 530 1075C506.7 1072.5 480 1072.5 450 1070C420 1067.5 381.7 1065 350 1060C318.3 1055 288.3 1049.2 260 1040C231.7 1030.8 203.3 1019.2 180 1005C156.7 990.8 136.7 974.2 120 955C103.3 935.8 89.7 909.2 80 890C70.3 870.8 65.3 855 62 840C58.7 825 59.5 816.7 60 800Z" fill="#cc4052"/><path d="M340 330C350 315 380 301.7 400 290C420 278.3 441.7 266.7 460 260C478.3 253.3 500 245 510 250C520 255 523.3 276.7 520 290C516.7 303.3 501.7 316.7 490 330C478.3 343.3 461.7 355 450 370C438.3 385 426.7 401.7 420 420C413.3 438.3 408.3 460 410 480C411.7 500 428.3 521.7 430 540C431.7 558.3 426.7 575 420 590C413.3 605 403.3 620 390 630C376.7 640 356.7 650 340 650C323.3 650 303.3 638.3 290 630C276.7 621.7 263.3 613.3 260 600C256.7 586.7 263.3 568.3 270 550C276.7 531.7 290 510 300 490C310 470 323.3 448.3 330 430C336.7 411.7 338.3 396.7 340 380C341.7 363.3 330 345 340 330Z" fill="#e0912a" stroke="#e0912a" stroke-width="3" stroke-linejoin="round"/><path d="M510 250C516.7 235 538.3 216.7 560 200C581.7 183.3 610 165.8 640 150C670 134.2 703.3 116.7 740 105C776.7 93.3 837.5 74.2 860 80C882.5 85.8 876.7 123.3 875 140C873.3 156.7 862.5 170 850 180C837.5 190 818.3 194.2 800 200C781.7 205.8 756.7 208.3 740 215C723.3 221.7 709.2 230 700 240C690.8 250 680 263.3 685 275C690 286.7 714.2 299.2 730 310C745.8 320.8 765 328.3 780 340C795 351.7 810 368.3 820 380C830 391.7 843.3 400 840 410C836.7 420 816.7 432.5 800 440C783.3 447.5 760 450 740 455C720 460 700 462.5 680 470C660 477.5 638.3 491.7 620 500C601.7 508.3 586.7 513.3 570 520C553.3 526.7 536.7 533.3 520 540C503.3 546.7 483.3 557.5 470 560C456.7 562.5 446.7 558.3 440 555C433.3 551.7 435 552.5 430 540C425 527.5 411.7 500 410 480C408.3 460 413.3 438.3 420 420C426.7 401.7 438.3 385 450 370C461.7 355 478.3 343.3 490 330C501.7 316.7 516.7 303.3 520 290C523.3 276.7 503.3 265 510 250Z" fill="#c33af5" stroke="#c33af5" stroke-width="3" stroke-linejoin="round"/><path d="M860 95C859.2 83.3 851.7 77.5 870 70C888.3 62.5 938.3 54.7 970 50C1001.7 45.3 1030 43 1060 42C1090 41 1121.7 41.3 1150 44C1178.3 46.7 1206.7 51.2 1230 58C1253.3 64.8 1284.2 73 1290 85C1295.8 97 1268.3 116.7 1265 130C1261.7 143.3 1275.8 156.7 1270 165C1264.2 173.3 1243.3 174.2 1230 180C1216.7 185.8 1203.3 198.3 1190 200C1176.7 201.7 1166.7 194.2 1150 190C1133.3 185.8 1108.3 174.2 1090 175C1071.7 175.8 1058.3 188.3 1040 195C1021.7 201.7 995 208.3 980 215C965 221.7 955 224.2 950 235C945 245.8 946.7 265.8 950 280C953.3 294.2 968.3 305 970 320C971.7 335 962.5 356.7 960 370C957.5 383.3 965 393.3 955 400C945 406.7 919.2 408.3 900 410C880.8 411.7 853.3 415 840 410C826.7 405 830 391.7 820 380C810 368.3 795 351.7 780 340C765 328.3 745.8 320.8 730 310C714.2 299.2 690 286.7 685 275C680 263.3 690.8 250 700 240C709.2 230 723.3 221.7 740 215C756.7 208.3 781.7 205.8 800 200C818.3 194.2 837.5 190 850 180C862.5 170 873.3 154.2 875 140C876.7 125.8 860.8 106.7 860 95Z" fill="#4682b4" stroke="#4682b4" stroke-width="3" stroke-linejoin="round"/><path d="M950 235C955 224.2 965 221.7 980 215C995 208.3 1021.7 201.7 1040 195C1058.3 188.3 1071.7 175.8 1090 175C1108.3 174.2 1133.3 185.8 1150 190C1166.7 194.2 1176.7 201.7 1190 200C1203.3 198.3 1216.7 185.8 1230 180C1243.3 174.2 1260.8 160 1270 165C1279.2 170 1280 194.2 1285 210C1290 225.8 1300.8 246.7 1300 260C1299.2 273.3 1290 280 1280 290C1270 300 1251.7 309.2 1240 320C1228.3 330.8 1221.7 345 1210 355C1198.3 365 1185 373.3 1170 380C1155 386.7 1138.3 391.7 1120 395C1101.7 398.3 1080 400 1060 400C1040 400 1017.5 395 1000 395C982.5 395 961.7 404.2 955 400C948.3 395.8 957.5 383.3 960 370C962.5 356.7 971.7 335 970 320C968.3 305 953.3 294.2 950 280C946.7 265.8 945 245.8 950 235Z" fill="#c33af5" stroke="#c33af5" stroke-width="3" stroke-linejoin="round"/><path d="M1265 130C1266.7 118.3 1272.5 102.5 1280 95C1287.5 87.5 1293.3 80 1310 85C1326.7 90 1358.3 110 1380 125C1401.7 140 1420 155.8 1440 175C1460 194.2 1479.2 215 1500 240C1520.8 265 1544.2 296.7 1565 325C1585.8 353.3 1619.2 392.5 1625 410C1630.8 427.5 1609.2 428.3 1600 430C1590.8 431.7 1578.3 430 1570 420C1561.7 410 1558.3 385 1550 370C1541.7 355 1531.7 340 1520 330C1508.3 320 1493.3 318.3 1480 310C1466.7 301.7 1453.3 287.5 1440 280C1426.7 272.5 1413.3 265 1400 265C1386.7 265 1375 277.5 1360 280C1345 282.5 1320 283.3 1310 280C1300 276.7 1304.2 271.7 1300 260C1295.8 248.3 1290 225.8 1285 210C1280 194.2 1273.3 178.3 1270 165C1266.7 151.7 1263.3 141.7 1265 130Z" fill="#066a10" stroke="#066a10" stroke-width="3" stroke-linejoin="round"/><path d="M1360 280C1368.3 270.8 1386.7 265 1400 265C1413.3 265 1426.7 272.5 1440 280C1453.3 287.5 1466.7 301.7 1480 310C1493.3 318.3 1508.3 320 1520 330C1531.7 340 1541.7 355 1550 370C1558.3 385 1567.5 403.3 1570 420C1572.5 436.7 1568.3 453.3 1565 470C1561.7 486.7 1555.8 508.3 1550 520C1544.2 531.7 1538.3 541.7 1530 540C1521.7 538.3 1508.3 521.7 1500 510C1491.7 498.3 1483.3 485 1480 470C1476.7 455 1485 433.3 1480 420C1475 406.7 1463.3 397.5 1450 390C1436.7 382.5 1413.3 381.7 1400 375C1386.7 368.3 1378.3 359.2 1370 350C1361.7 340.8 1351.7 331.7 1350 320C1348.3 308.3 1351.7 289.2 1360 280Z" fill="#e0912a" stroke="#e0912a" stroke-width="3" stroke-linejoin="round"/><path d="M1600 420C1618.3 433.3 1657.5 472.5 1680 500C1702.5 527.5 1718.3 559.2 1735 585C1751.7 610.8 1767.5 632.5 1780 655C1792.5 677.5 1801.7 699.2 1810 720C1818.3 740.8 1826.2 761.7 1830 780C1833.8 798.3 1835.5 811.7 1833 830C1830.5 848.3 1824.7 870.8 1815 890C1805.3 909.2 1794.2 930 1775 945C1755.8 960 1725.8 970 1700 980C1674.2 990 1650 996.7 1620 1005C1590 1013.3 1553.3 1021.7 1520 1030C1486.7 1038.3 1453.3 1045.8 1420 1055C1386.7 1064.2 1353.3 1074.2 1320 1085C1286.7 1095.8 1253.3 1107.5 1220 1120C1186.7 1132.5 1153.3 1146.7 1120 1160C1086.7 1173.3 1038.3 1201.7 1020 1200C1001.7 1198.3 1005 1165 1010 1150C1015 1135 1035 1126.7 1050 1110C1065 1093.3 1085 1066.7 1100 1050C1115 1033.3 1128.3 1025 1140 1010C1151.7 995 1160 978.3 1170 960C1180 941.7 1192.5 918.3 1200 900C1207.5 881.7 1214.2 866.7 1215 850C1215.8 833.3 1205 813.3 1205 800C1205 786.7 1202.5 775 1215 770C1227.5 765 1259.2 772.5 1280 770C1300.8 767.5 1321.7 761.7 1340 755C1358.3 748.3 1375 740.8 1390 730C1405 719.2 1418.3 705 1430 690C1441.7 675 1450 656.7 1460 640C1470 623.3 1480 603.3 1490 590C1500 576.7 1513.3 568.3 1520 560C1526.7 551.7 1525 546.7 1530 540C1535 533.3 1544.2 531.7 1550 520C1555.8 508.3 1561.7 486.7 1565 470C1568.3 453.3 1564.2 428.3 1570 420C1575.8 411.7 1581.7 406.7 1600 420Z" fill="#731683" stroke="#731683" stroke-width="3" stroke-linejoin="round"/><path d="M610 510C616.7 498.3 631.7 488.3 650 480C668.3 471.7 698.3 465.8 720 460C741.7 454.2 761.7 445 780 445C798.3 445 813.3 455.8 830 460C846.7 464.2 861.7 469.2 880 470C898.3 470.8 920 465 940 465C960 465 980 467.5 1000 470C1020 472.5 1041.7 475 1060 480C1078.3 485 1095 492.5 1110 500C1125 507.5 1143.3 513.3 1150 525C1156.7 536.7 1150 555.8 1150 570C1150 584.2 1158.3 605 1150 610C1141.7 615 1118.3 604.2 1100 600C1081.7 595.8 1060 588.3 1040 585C1020 581.7 1000 582.5 980 580C960 577.5 940 573.3 920 570C900 566.7 880 562 860 560C840 558 820 557.2 800 558C780 558.8 760 561.3 740 565C720 568.7 698.3 575.8 680 580C661.7 584.2 641.7 595 630 590C618.3 585 613.3 563.3 610 550C606.7 536.7 603.3 521.7 610 510Z" fill="#e0912a" stroke="#e0912a" stroke-width="3" stroke-linejoin="round"/><path d="M50 870C55 869.2 76.7 890 90 900C103.3 910 120 919.2 130 930C140 940.8 138.3 955 150 965C161.7 975 181.7 982.5 200 990C218.3 997.5 240 1005 260 1010C280 1015 296.7 1018.3 320 1020C343.3 1021.7 373.3 1020.8 400 1020C426.7 1019.2 456.7 1018.3 480 1015C503.3 1011.7 523.3 1002.5 540 1000C556.7 997.5 568.3 995 580 1000C591.7 1005 606.7 1020 610 1030C613.3 1040 598.3 1050 600 1060C601.7 1070 611.7 1078.3 620 1090C628.3 1101.7 638.3 1118.3 650 1130C661.7 1141.7 675 1152.5 690 1160C705 1167.5 721.7 1171.7 740 1175C758.3 1178.3 780 1181.7 800 1180C820 1178.3 840 1171.7 860 1165C880 1158.3 900 1149.2 920 1140C940 1130.8 960 1120.8 980 1110C1000 1099.2 1020 1086.7 1040 1075C1060 1063.3 1083.3 1050 1100 1040C1116.7 1030 1140 1013.3 1140 1015C1140 1016.7 1115 1034.2 1100 1050C1085 1065.8 1065 1093.3 1050 1110C1035 1126.7 1015 1135 1010 1150C1005 1165 1033.3 1185 1020 1200C1006.7 1215 958.3 1228.3 930 1240C901.7 1251.7 875 1263.8 850 1270C825 1276.2 802.5 1278.7 780 1277C757.5 1275.3 732.5 1269.5 715 1260C697.5 1250.5 686.7 1234.2 675 1220C663.3 1205.8 655 1190 645 1175C635 1160 625 1141.7 615 1130C605 1118.3 599.2 1110.5 585 1105C570.8 1099.5 552.5 1099.2 530 1097C507.5 1094.8 480 1094.5 450 1092C420 1089.5 383.3 1087 350 1082C316.7 1077 280.8 1071.5 250 1062C219.2 1052.5 190 1040.3 165 1025C140 1009.7 117.5 990 100 970C82.5 950 68.3 921.7 60 905C51.7 888.3 45 870.8 50 870Z" fill="#dcecaa" stroke="#dcecaa" stroke-width="3" stroke-linejoin="round"/><path d="M370 790C371.7 776.7 381.7 755 390 740C398.3 725 406.7 713.3 420 700C433.3 686.7 453.3 671.7 470 660C486.7 648.3 503.3 640 520 630C536.7 620 551.7 608.3 570 600C588.3 591.7 611.7 585.8 630 580C648.3 574.2 661.7 569.7 680 565C698.3 560.3 720 555.2 740 552C760 548.8 780 546.3 800 546C820 545.7 840 547.7 860 550C880 552.3 900 556.3 920 560C940 563.7 960 569 980 572C1000 575 1020 574.7 1040 578C1060 581.3 1081.7 586.7 1100 592C1118.3 597.3 1135 602 1150 610C1165 618 1179.2 628.3 1190 640C1200.8 651.7 1209.2 666.7 1215 680C1220.8 693.3 1225.8 705 1225 720C1224.2 735 1213.3 756.7 1210 770C1206.7 783.3 1204.2 786.7 1205 800C1205.8 813.3 1215.8 833.3 1215 850C1214.2 866.7 1207.5 881.7 1200 900C1192.5 918.3 1180 941.7 1170 960C1160 978.3 1151.7 996.7 1140 1010C1128.3 1023.3 1116.7 1029.2 1100 1040C1083.3 1050.8 1060 1063.3 1040 1075C1020 1086.7 1000 1099.2 980 1110C960 1120.8 940 1130.8 920 1140C900 1149.2 880 1158.3 860 1165C840 1171.7 820 1178.3 800 1180C780 1181.7 758.3 1178.3 740 1175C721.7 1171.7 705 1167.5 690 1160C675 1152.5 661.7 1141.7 650 1130C638.3 1118.3 628.3 1101.7 620 1090C611.7 1078.3 601.7 1070 600 1060C598.3 1050 613.3 1040 610 1030C606.7 1020 593.3 1010 580 1000C566.7 990 543.3 980 530 970C516.7 960 508.3 951.7 500 940C491.7 928.3 490 910 480 900C470 890 453.3 888.3 440 880C426.7 871.7 410 860 400 850C390 840 385 830 380 820C375 810 368.3 803.3 370 790Z" fill="#000" stroke="#000" stroke-width="3" stroke-linejoin="round"/><path d="M850 430C950 410 1050 420 1200 420" fill="none" stroke="#000" stroke-opacity="0.15" stroke-width="50" stroke-linecap="round" filter="url(#b40)"/><path d="M60 800C60.5 783.3 60.8 763.3 65 740C69.2 716.7 75.8 686.7 85 660C94.2 633.3 105.8 606.7 120 580C134.2 553.3 151.7 526.7 170 500C188.3 473.3 208.3 445 230 420C251.7 395 275 372.5 300 350C325 327.5 351.7 305 380 285C408.3 265 438.3 247.5 470 230C501.7 212.5 536.7 195 570 180C603.3 165 636.7 151.7 670 140C703.3 128.3 736.7 119.2 770 110C803.3 100.8 836.7 92 870 85C903.3 78 938.3 72.2 970 68C1001.7 63.8 1030 61 1060 60C1090 59 1121.7 59.5 1150 62C1178.3 64.5 1205 68.7 1230 75C1255 81.3 1276.7 89.2 1300 100C1323.3 110.8 1348.3 125 1370 140C1391.7 155 1410 170.8 1430 190C1450 209.2 1470 230.8 1490 255C1510 279.2 1530 307.5 1550 335C1570 362.5 1590 390.8 1610 420C1630 449.2 1651.7 481.7 1670 510C1688.3 538.3 1705 565 1720 590C1735 615 1748.3 638.3 1760 660C1771.7 681.7 1782 700 1790 720C1798 740 1804.7 761.7 1808 780C1811.3 798.3 1812.2 813.3 1810 830C1807.8 846.7 1803.3 864.2 1795 880C1786.7 895.8 1775.8 911.7 1760 925C1744.2 938.3 1723.3 950 1700 960C1676.7 970 1650 976.7 1620 985C1590 993.3 1553.3 1001.7 1520 1010C1486.7 1018.3 1453.3 1025.8 1420 1035C1386.7 1044.2 1353.3 1054.2 1320 1065C1286.7 1075.8 1253.3 1087.5 1220 1100C1186.7 1112.5 1153.3 1126.7 1120 1140C1086.7 1153.3 1051.7 1166.7 1020 1180C988.3 1193.3 958.3 1208.7 930 1220C901.7 1231.3 875 1242.2 850 1248C825 1253.8 800 1256.3 780 1255C760 1253.7 745 1248.3 730 1240C715 1231.7 701.7 1218.3 690 1205C678.3 1191.7 670 1175 660 1160C650 1145 641.7 1127.5 630 1115C618.3 1102.5 606.7 1091.7 590 1085C573.3 1078.3 553.3 1077.5 530 1075C506.7 1072.5 480 1072.5 450 1070C420 1067.5 381.7 1065 350 1060C318.3 1055 288.3 1049.2 260 1040C231.7 1030.8 203.3 1019.2 180 1005C156.7 990.8 136.7 974.2 120 955C103.3 935.8 89.7 909.2 80 890C70.3 870.8 65.3 855 62 840C58.7 825 59.5 816.7 60 800Z" transform="translate(0 -12)" fill="none" stroke="url(#rg)" stroke-opacity="0.3" stroke-width="160" filter="url(#b40)"/><path d="M60 800C60.5 783.3 60.8 763.3 65 740C69.2 716.7 75.8 686.7 85 660C94.2 633.3 105.8 606.7 120 580C134.2 553.3 151.7 526.7 170 500C188.3 473.3 208.3 445 230 420C251.7 395 275 372.5 300 350C325 327.5 351.7 305 380 285C408.3 265 438.3 247.5 470 230C501.7 212.5 536.7 195 570 180C603.3 165 636.7 151.7 670 140C703.3 128.3 736.7 119.2 770 110C803.3 100.8 836.7 92 870 85C903.3 78 938.3 72.2 970 68C1001.7 63.8 1030 61 1060 60C1090 59 1121.7 59.5 1150 62C1178.3 64.5 1205 68.7 1230 75C1255 81.3 1276.7 89.2 1300 100C1323.3 110.8 1348.3 125 1370 140C1391.7 155 1410 170.8 1430 190C1450 209.2 1470 230.8 1490 255C1510 279.2 1530 307.5 1550 335C1570 362.5 1590 390.8 1610 420C1630 449.2 1651.7 481.7 1670 510C1688.3 538.3 1705 565 1720 590C1735 615 1748.3 638.3 1760 660C1771.7 681.7 1782 700 1790 720C1798 740 1804.7 761.7 1808 780C1811.3 798.3 1812.2 813.3 1810 830C1807.8 846.7 1803.3 864.2 1795 880C1786.7 895.8 1775.8 911.7 1760 925C1744.2 938.3 1723.3 950 1700 960C1676.7 970 1650 976.7 1620 985C1590 993.3 1553.3 1001.7 1520 1010C1486.7 1018.3 1453.3 1025.8 1420 1035C1386.7 1044.2 1353.3 1054.2 1320 1065C1286.7 1075.8 1253.3 1087.5 1220 1100C1186.7 1112.5 1153.3 1126.7 1120 1140C1086.7 1153.3 1051.7 1166.7 1020 1180C988.3 1193.3 958.3 1208.7 930 1220C901.7 1231.3 875 1242.2 850 1248C825 1253.8 800 1256.3 780 1255C760 1253.7 745 1248.3 730 1240C715 1231.7 701.7 1218.3 690 1205C678.3 1191.7 670 1175 660 1160C650 1145 641.7 1127.5 630 1115C618.3 1102.5 606.7 1091.7 590 1085C573.3 1078.3 553.3 1077.5 530 1075C506.7 1072.5 480 1072.5 450 1070C420 1067.5 381.7 1065 350 1060C318.3 1055 288.3 1049.2 260 1040C231.7 1030.8 203.3 1019.2 180 1005C156.7 990.8 136.7 974.2 120 955C103.3 935.8 89.7 909.2 80 890C70.3 870.8 65.3 855 62 840C58.7 825 59.5 816.7 60 800Z" transform="translate(0 -6)" fill="none" stroke="url(#rg)" stroke-opacity="0.6" stroke-width="42" filter="url(#b20)"/></g><path d="M60 800C60.5 783.3 60.8 763.3 65 740C69.2 716.7 75.8 686.7 85 660C94.2 633.3 105.8 606.7 120 580C134.2 553.3 151.7 526.7 170 500C188.3 473.3 208.3 445 230 420C251.7 395 275 372.5 300 350C325 327.5 351.7 305 380 285C408.3 265 438.3 247.5 470 230C501.7 212.5 536.7 195 570 180C603.3 165 636.7 151.7 670 140C703.3 128.3 736.7 119.2 770 110C803.3 100.8 836.7 92 870 85C903.3 78 938.3 72.2 970 68C1001.7 63.8 1030 61 1060 60C1090 59 1121.7 59.5 1150 62C1178.3 64.5 1205 68.7 1230 75C1255 81.3 1276.7 89.2 1300 100C1323.3 110.8 1348.3 125 1370 140C1391.7 155 1410 170.8 1430 190C1450 209.2 1470 230.8 1490 255C1510 279.2 1530 307.5 1550 335C1570 362.5 1590 390.8 1610 420C1630 449.2 1651.7 481.7 1670 510C1688.3 538.3 1705 565 1720 590C1735 615 1748.3 638.3 1760 660C1771.7 681.7 1782 700 1790 720C1798 740 1804.7 761.7 1808 780C1811.3 798.3 1812.2 813.3 1810 830C1807.8 846.7 1803.3 864.2 1795 880C1786.7 895.8 1775.8 911.7 1760 925C1744.2 938.3 1723.3 950 1700 960C1676.7 970 1650 976.7 1620 985C1590 993.3 1553.3 1001.7 1520 1010C1486.7 1018.3 1453.3 1025.8 1420 1035C1386.7 1044.2 1353.3 1054.2 1320 1065C1286.7 1075.8 1253.3 1087.5 1220 1100C1186.7 1112.5 1153.3 1126.7 1120 1140C1086.7 1153.3 1051.7 1166.7 1020 1180C988.3 1193.3 958.3 1208.7 930 1220C901.7 1231.3 875 1242.2 850 1248C825 1253.8 800 1256.3 780 1255C760 1253.7 745 1248.3 730 1240C715 1231.7 701.7 1218.3 690 1205C678.3 1191.7 670 1175 660 1160C650 1145 641.7 1127.5 630 1115C618.3 1102.5 606.7 1091.7 590 1085C573.3 1078.3 553.3 1077.5 530 1075C506.7 1072.5 480 1072.5 450 1070C420 1067.5 381.7 1065 350 1060C318.3 1055 288.3 1049.2 260 1040C231.7 1030.8 203.3 1019.2 180 1005C156.7 990.8 136.7 974.2 120 955C103.3 935.8 89.7 909.2 80 890C70.3 870.8 65.3 855 62 840C58.7 825 59.5 816.7 60 800Z" fill="none" stroke="#000" stroke-opacity="0.7" stroke-width="5"/></g>
<g transform="translate(1010 15) scale(0.13430)"><clipPath id="cpC1"><path d="M95 800C95 781.7 95 756.7 100 730C105 703.3 113.3 670 125 640C136.7 610 151.7 581.7 170 550C188.3 518.3 210 481.7 235 450C260 418.3 289.2 388.3 320 360C350.8 331.7 383.3 305 420 280C456.7 255 496.7 231.7 540 210C583.3 188.3 633.3 167.5 680 150C726.7 132.5 773.3 117.5 820 105C866.7 92.5 915 82.2 960 75C1005 67.8 1050 63.7 1090 62C1130 60.3 1166.7 62 1200 65C1233.3 68 1261.7 72.5 1290 80C1318.3 87.5 1345 97.5 1370 110C1395 122.5 1418.3 137.5 1440 155C1461.7 172.5 1481.7 194.2 1500 215C1518.3 235.8 1533.3 255.8 1550 280C1566.7 304.2 1581.7 331.7 1600 360C1618.3 388.3 1640 420 1660 450C1680 480 1701.7 511.7 1720 540C1738.3 568.3 1755 595 1770 620C1785 645 1798.3 668.3 1810 690C1821.7 711.7 1832 730 1840 750C1848 770 1854.7 791.7 1858 810C1861.3 828.3 1862.2 844.2 1860 860C1857.8 875.8 1853.3 890.8 1845 905C1836.7 919.2 1825.8 933.3 1810 945C1794.2 956.7 1773.3 965.8 1750 975C1726.7 984.2 1700 990.8 1670 1000C1640 1009.2 1603.3 1020 1570 1030C1536.7 1040 1503.3 1050 1470 1060C1436.7 1070 1403.3 1079.2 1370 1090C1336.7 1100.8 1303.3 1113.3 1270 1125C1236.7 1136.7 1203.3 1147.5 1170 1160C1136.7 1172.5 1101.7 1187.5 1070 1200C1038.3 1212.5 1008.3 1225.8 980 1235C951.7 1244.2 925 1251.2 900 1255C875 1258.8 850 1260.5 830 1258C810 1255.5 794.2 1248 780 1240C765.8 1232 755 1221.7 745 1210C735 1198.3 728.3 1184.2 720 1170C711.7 1155.8 705 1137.5 695 1125C685 1112.5 675.8 1102.5 660 1095C644.2 1087.5 623.3 1083.3 600 1080C576.7 1076.7 550 1078.3 520 1075C490 1071.7 453.3 1066.7 420 1060C386.7 1053.3 351.7 1045.8 320 1035C288.3 1024.2 255.8 1010 230 995C204.2 980 183.3 963.3 165 945C146.7 926.7 130.8 902.5 120 885C109.2 867.5 104.2 854.2 100 840C95.8 825.8 95 818.3 95 800Z"/></clipPath><clipPath id="coC1"><path d="M1010 420C1020 400 1045 391.7 1060 380C1075 368.3 1085 358.3 1100 350C1115 341.7 1134.2 336.7 1150 330C1165.8 323.3 1186.7 321.7 1195 310C1203.3 298.3 1195 270.8 1200 260C1205 249.2 1216.7 244.2 1225 245C1233.3 245.8 1246.7 255.8 1250 265C1253.3 274.2 1250 289.2 1245 300C1240 310.8 1230.8 321.7 1220 330C1209.2 338.3 1193.3 343.3 1180 350C1166.7 356.7 1153.3 361.7 1140 370C1126.7 378.3 1106.7 390 1100 400C1093.3 410 1091.7 430 1100 430C1108.3 430 1133.3 407.5 1150 400C1166.7 392.5 1175 387.5 1200 385C1225 382.5 1266.7 385.8 1300 385C1333.3 384.2 1370 381.7 1400 380C1430 378.3 1456.7 371.7 1480 375C1503.3 378.3 1520 387.5 1540 400C1560 412.5 1580 430 1600 450C1620 470 1640 496.7 1660 520C1680 543.3 1701.7 566.7 1720 590C1738.3 613.3 1755 638.3 1770 660C1785 681.7 1800 701.7 1810 720C1820 738.3 1840 763.3 1830 770C1820 776.7 1765 755 1750 760C1735 765 1738.3 783.3 1740 800C1741.7 816.7 1750 846.7 1760 860C1770 873.3 1786.7 873.3 1800 880C1813.3 886.7 1838.3 889.2 1840 900C1841.7 910.8 1825 932.5 1810 945C1795 957.5 1768.3 970.8 1750 975C1731.7 979.2 1716.7 974.2 1700 970C1683.3 965.8 1666.7 956.7 1650 950C1633.3 943.3 1615 928.3 1600 930C1585 931.7 1563.3 948.3 1560 960C1556.7 971.7 1578.3 986.7 1580 1000C1581.7 1013.3 1588.3 1028.3 1570 1040C1551.7 1051.7 1503.3 1060 1470 1070C1436.7 1080 1403.3 1089.2 1370 1100C1336.7 1110.8 1303.3 1123.3 1270 1135C1236.7 1146.7 1201.7 1169.2 1170 1170C1138.3 1170.8 1086.7 1153.3 1080 1140C1073.3 1126.7 1126.7 1101.7 1130 1090C1133.3 1078.3 1121.7 1071.7 1100 1070C1078.3 1068.3 1030 1076.7 1000 1080C970 1083.3 940 1093.3 920 1090C900 1086.7 891.7 1061.7 880 1060C868.3 1058.3 866.7 1073.3 850 1080C833.3 1086.7 799.2 1098.3 780 1100C760.8 1101.7 741.7 1096.7 735 1090C728.3 1083.3 732.5 1073.3 740 1060C747.5 1046.7 765 1028.3 780 1010C795 991.7 813.3 968.3 830 950C846.7 931.7 865 916.7 880 900C895 883.3 908.3 866.7 920 850C931.7 833.3 946.7 815 950 800C953.3 785 948.3 765 940 760C931.7 755 916.7 765 900 770C883.3 775 860 783.3 840 790C820 796.7 796.7 801.7 780 810C763.3 818.3 753.3 834.2 740 840C726.7 845.8 708.3 851.7 700 845C691.7 838.3 700 809.2 690 800C680 790.8 658.3 788.3 640 790C621.7 791.7 595.8 803.3 580 810C564.2 816.7 548.3 821.7 545 830C541.7 838.3 547.5 855.8 560 860C572.5 864.2 608.3 851.7 620 855C631.7 858.3 633.3 869.2 630 880C626.7 890.8 603.3 906.7 600 920C596.7 933.3 613.3 948.3 610 960C606.7 971.7 591.7 986.7 580 990C568.3 993.3 551.7 980 540 980C528.3 980 511.7 983.3 510 990C508.3 996.7 521.7 1010 530 1020C538.3 1030 561.7 1048.3 560 1050C558.3 1051.7 535 1036.7 520 1030C505 1023.3 486.7 1011.7 470 1010C453.3 1008.3 435 1021.7 420 1020C405 1018.3 388.3 1010 380 1000C371.7 990 380 968.3 370 960C360 951.7 336.7 950 320 950C303.3 950 281.7 960 270 960C258.3 960 261.7 955 250 950C238.3 945 216.7 938.3 200 930C183.3 921.7 164.2 913.3 150 900C135.8 886.7 122.5 866.7 115 850C107.5 833.3 102.5 813.3 105 800C107.5 786.7 120.8 783.3 130 770C139.2 756.7 148.3 738.3 160 720C171.7 701.7 185 676.7 200 660C215 643.3 231.7 630 250 620C268.3 610 291.7 603.3 310 600C328.3 596.7 350 595 360 600C370 605 373.3 618.3 370 630C366.7 641.7 350 656.7 340 670C330 683.3 316.7 698.3 310 710C303.3 721.7 296.7 731.7 300 740C303.3 748.3 316.7 758.3 330 760C343.3 761.7 361.7 752.5 380 750C398.3 747.5 420 746.7 440 745C460 743.3 480 742.5 500 740C520 737.5 540 735 560 730C580 725 600 715 620 710C640 705 660 700 680 700C700 700 720 710 740 710C760 710 780 708.3 800 700C820 691.7 840 670 860 660C880 650 903.3 650 920 640C936.7 630 951.7 615 960 600C968.3 585 963.3 566.7 970 550C976.7 533.3 993.3 521.7 1000 500C1006.7 478.3 1000 440 1010 420Z"/><path d="M918 165C918 172.8 915.9 182.2 912.7 188.5C909.4 194.9 903.9 200.6 898.7 203C893.4 205.5 886.6 205.5 881.3 203C876.1 200.6 870.6 194.9 867.3 188.5C864.1 182.2 862 172.8 862 165C862 157.2 864.1 147.8 867.3 141.5C870.6 135.1 876.1 129.4 881.3 127C886.6 124.5 893.4 124.5 898.7 127C903.9 129.4 909.4 135.1 912.7 141.5C915.9 147.8 918 157.2 918 165Z"/><path d="M700 440C713.3 438.3 732.5 436.7 740 450C747.5 463.3 743.3 498.3 745 520C746.7 541.7 754.2 563.3 750 580C745.8 596.7 731.7 611.7 720 620C708.3 628.3 695 627.5 680 630C665 632.5 645 638.3 630 635C615 631.7 595 619.2 590 610C585 600.8 593.3 590 600 580C606.7 570 623.3 563.3 630 550C636.7 536.7 635 515 640 500C645 485 650 470 660 460C670 450 686.7 441.7 700 440Z"/><path d="M410 340C420 330.8 455 311.7 480 300C505 288.3 531.7 279.2 560 270C588.3 260.8 633.3 247.5 650 245C666.7 242.5 671.7 248.3 660 255C648.3 261.7 606.7 275 580 285C553.3 295 526.7 303.3 500 315C473.3 326.7 435 350.8 420 355C405 359.2 400 349.2 410 340Z"/><path d="M668.8 202.9C669.4 205.2 665.9 209.3 660.7 212.4C655.5 215.5 645.6 219.5 637.6 221.7C629.6 223.8 619 225.3 612.9 225.2C606.9 225.1 601.8 223.3 601.2 221.1C600.6 218.8 604.1 214.7 609.3 211.6C614.5 208.5 624.4 204.5 632.4 202.3C640.4 200.2 651 198.7 657.1 198.8C663.1 198.9 668.2 200.7 668.8 202.9Z"/><path d="M498.1 530.3C500.1 534.5 497.8 542.3 492.9 548.3C488 554.2 477.4 561.9 468.5 566.1C459.5 570.3 446.8 573.4 439.1 573.4C431.3 573.3 423.9 570 421.9 565.7C419.9 561.5 422.2 553.7 427.1 547.7C432 541.8 442.6 534.1 451.5 529.9C460.5 525.7 473.2 522.6 480.9 522.6C488.7 522.7 496.1 526 498.1 530.3Z"/><path d="M1330 290C1333.3 279.2 1355 275.8 1370 275C1385 274.2 1408.3 277.5 1420 285C1431.7 292.5 1443.3 311.7 1440 320C1436.7 328.3 1415 331.7 1400 335C1385 338.3 1361.7 347.5 1350 340C1338.3 332.5 1326.7 300.8 1330 290Z"/></clipPath><g clip-path="url(#cpC1)"><path d="M95 800C95 781.7 95 756.7 100 730C105 703.3 113.3 670 125 640C136.7 610 151.7 581.7 170 550C188.3 518.3 210 481.7 235 450C260 418.3 289.2 388.3 320 360C350.8 331.7 383.3 305 420 280C456.7 255 496.7 231.7 540 210C583.3 188.3 633.3 167.5 680 150C726.7 132.5 773.3 117.5 820 105C866.7 92.5 915 82.2 960 75C1005 67.8 1050 63.7 1090 62C1130 60.3 1166.7 62 1200 65C1233.3 68 1261.7 72.5 1290 80C1318.3 87.5 1345 97.5 1370 110C1395 122.5 1418.3 137.5 1440 155C1461.7 172.5 1481.7 194.2 1500 215C1518.3 235.8 1533.3 255.8 1550 280C1566.7 304.2 1581.7 331.7 1600 360C1618.3 388.3 1640 420 1660 450C1680 480 1701.7 511.7 1720 540C1738.3 568.3 1755 595 1770 620C1785 645 1798.3 668.3 1810 690C1821.7 711.7 1832 730 1840 750C1848 770 1854.7 791.7 1858 810C1861.3 828.3 1862.2 844.2 1860 860C1857.8 875.8 1853.3 890.8 1845 905C1836.7 919.2 1825.8 933.3 1810 945C1794.2 956.7 1773.3 965.8 1750 975C1726.7 984.2 1700 990.8 1670 1000C1640 1009.2 1603.3 1020 1570 1030C1536.7 1040 1503.3 1050 1470 1060C1436.7 1070 1403.3 1079.2 1370 1090C1336.7 1100.8 1303.3 1113.3 1270 1125C1236.7 1136.7 1203.3 1147.5 1170 1160C1136.7 1172.5 1101.7 1187.5 1070 1200C1038.3 1212.5 1008.3 1225.8 980 1235C951.7 1244.2 925 1251.2 900 1255C875 1258.8 850 1260.5 830 1258C810 1255.5 794.2 1248 780 1240C765.8 1232 755 1221.7 745 1210C735 1198.3 728.3 1184.2 720 1170C711.7 1155.8 705 1137.5 695 1125C685 1112.5 675.8 1102.5 660 1095C644.2 1087.5 623.3 1083.3 600 1080C576.7 1076.7 550 1078.3 520 1075C490 1071.7 453.3 1066.7 420 1060C386.7 1053.3 351.7 1045.8 320 1035C288.3 1024.2 255.8 1010 230 995C204.2 980 183.3 963.3 165 945C146.7 926.7 130.8 902.5 120 885C109.2 867.5 104.2 854.2 100 840C95.8 825.8 95 818.3 95 800Z" fill="#565656"/><path d="M930 110C900 200 850 260 800 290C720 330 650 360 560 420" fill="none" stroke="#868686" stroke-width="70" stroke-linecap="round" stroke-linejoin="round" filter="url(#b6)"/><path d="M1040 90C1000 200 930 300 880 400C850 480 830 540 810 600" fill="none" stroke="#868686" stroke-width="75" stroke-linecap="round" stroke-linejoin="round" filter="url(#b6)"/><path d="M1180 90C1110 200 1030 280 980 380C940 460 910 520 900 560" fill="none" stroke="#868686" stroke-width="60" stroke-linecap="round" stroke-linejoin="round" filter="url(#b6)"/><path d="M1350 160C1300 200 1290 240 1320 270" fill="none" stroke="#868686" stroke-width="80" stroke-linecap="round" stroke-linejoin="round" filter="url(#b6)"/><path d="M1400 180C1450 220 1480 250 1500 290" fill="none" stroke="#868686" stroke-width="60" stroke-linecap="round" stroke-linejoin="round" filter="url(#b6)"/><path d="M330 480C450 400 560 350 680 300" fill="none" stroke="#868686" stroke-width="70" stroke-linecap="round" stroke-linejoin="round" filter="url(#b6)"/><path d="M230 580C330 500 400 460 470 430" fill="none" stroke="#868686" stroke-width="50" stroke-linecap="round" stroke-linejoin="round" filter="url(#b6)"/><path d="M420 710C520 650 600 640 700 650C800 640 900 600 960 580" fill="none" stroke="#868686" stroke-width="80" stroke-linecap="round" stroke-linejoin="round" filter="url(#b6)"/><path d="M760 1150C800 1100 880 1080 960 1100C1020 1100 1080 1080 1120 1060" fill="none" stroke="#868686" stroke-width="90" stroke-linecap="round" stroke-linejoin="round" filter="url(#b6)"/><path d="M820 1200C900 1190 980 1170 1060 1140" fill="none" stroke="#868686" stroke-width="70" stroke-linecap="round" stroke-linejoin="round" filter="url(#b6)"/><path d="M260 960C320 970 360 990 380 1010" fill="none" stroke="#868686" stroke-width="50" stroke-linecap="round" stroke-linejoin="round" filter="url(#b6)"/><path d="M180 700C200 650 220 620 260 580" fill="none" stroke="#868686" stroke-width="40" stroke-linecap="round" stroke-linejoin="round" filter="url(#b6)"/><g clip-path="url(#coC1)"><rect x="-100" y="-100" width="2200" height="1600" fill="#f37a03"/><path d="M1250 480C1400 600 1500 780 1480 900" fill="none" stroke="#ee1c00" stroke-opacity="0.6" stroke-width="130" stroke-linecap="round" filter="url(#b40)"/><path d="M900 1050C1100 1000 1200 980 1400 880" fill="none" stroke="#ee1c00" stroke-opacity="0.65" stroke-width="90" stroke-linecap="round" filter="url(#b40)"/><path d="M150 820C300 780 450 800 560 900" fill="none" stroke="#ee1c00" stroke-opacity="0.5" stroke-width="60" stroke-linecap="round" filter="url(#b40)"/><path d="M1000 720C1100 700 1200 650 1300 600" fill="none" stroke="#ee1c00" stroke-opacity="0.4" stroke-width="60" stroke-linecap="round" filter="url(#b40)"/><ellipse cx="1250" cy="530" rx="70" ry="60" fill="#ee1c00" fill-opacity="0.8" filter="url(#b40)"/><ellipse cx="1450" cy="700" rx="130" ry="170" fill="#ee1c00" fill-opacity="0.9" filter="url(#b40)"/><ellipse cx="1150" cy="1010" rx="150" ry="60" fill="#ee1c00" fill-opacity="0.95" filter="url(#b40)"/><ellipse cx="230" cy="800" rx="70" ry="60" fill="#ee1c00" fill-opacity="0.7" filter="url(#b40)"/><ellipse cx="400" cy="810" rx="90" ry="45" fill="#ee1c00" fill-opacity="0.7" filter="url(#b40)"/><ellipse cx="1000" cy="720" rx="70" ry="30" fill="#ee1c00" fill-opacity="0.6" filter="url(#b40)"/><ellipse cx="700" cy="570" rx="30" ry="30" fill="#ee1c00" fill-opacity="0.4" filter="url(#b40)"/><ellipse cx="1300" cy="900" rx="140" ry="70" fill="#ee1c00" fill-opacity="0.6" filter="url(#b40)"/><ellipse cx="540" cy="930" rx="50" ry="40" fill="#ee1c00" fill-opacity="0.6" filter="url(#b40)"/><ellipse cx="1600" cy="620" rx="80" ry="100" fill="#ee1c00" fill-opacity="0.5" filter="url(#b40)"/><ellipse cx="900" cy="980" rx="80" ry="40" fill="#ee1c00" fill-opacity="0.4" filter="url(#b40)"/></g><path d="M1089.2 481C1091.4 484.7 1091.1 491.2 1088.5 496.1C1086 501.1 1079.7 507.3 1074 510.6C1068.3 513.9 1059.8 516.2 1054.2 515.9C1048.7 515.7 1042.9 512.7 1040.8 509C1038.6 505.3 1038.9 498.8 1041.5 493.9C1044 488.9 1050.3 482.7 1056 479.4C1061.7 476.1 1070.2 473.8 1075.8 474.1C1081.3 474.3 1087.1 477.3 1089.2 481Z" fill="#6e6e6e"/><path d="M1213 453C1213 455.1 1210.7 457.9 1207.7 459.4C1204.7 460.9 1199.2 462 1195 462C1190.8 462 1185.3 460.9 1182.3 459.4C1179.3 457.9 1177 455.1 1177 453C1177 450.9 1179.3 448.1 1182.3 446.6C1185.3 445.1 1190.8 444 1195 444C1199.2 444 1204.7 445.1 1207.7 446.6C1210.7 448.1 1213 450.9 1213 453Z" fill="#6e6e6e"/><path d="M1452 462C1452 468.1 1449.5 476.1 1446.1 480.4C1442.8 484.7 1436.7 488 1432 488C1427.3 488 1421.2 484.7 1417.9 480.4C1414.5 476.1 1412 468.1 1412 462C1412 455.9 1414.5 447.9 1417.9 443.6C1421.2 439.3 1427.3 436 1432 436C1436.7 436 1442.8 439.3 1446.1 443.6C1449.5 447.9 1452 455.9 1452 462Z" fill="#6e6e6e"/><path d="M1390 540C1390 544.2 1388.7 549.7 1387.1 552.7C1385.4 555.7 1382.4 558 1380 558C1377.6 558 1374.6 555.7 1372.9 552.7C1371.3 549.7 1370 544.2 1370 540C1370 535.8 1371.3 530.3 1372.9 527.3C1374.6 524.3 1377.6 522 1380 522C1382.4 522 1385.4 524.3 1387.1 527.3C1388.7 530.3 1390 535.8 1390 540Z" fill="#6e6e6e"/><path d="M1252.8 606C1254.9 609.7 1255 615.9 1253.1 620.5C1251.1 625.1 1245.9 630.8 1241 633.6C1236.1 636.4 1228.6 638.1 1223.7 637.5C1218.7 636.9 1213.3 633.7 1211.2 630C1209.1 626.3 1209 620.1 1210.9 615.5C1212.9 610.9 1218.1 605.2 1223 602.4C1227.9 599.6 1235.4 597.9 1240.3 598.5C1245.3 599.1 1250.7 602.3 1252.8 606Z" fill="#6e6e6e"/><path d="M1074.1 773.6C1077.7 777.9 1078.8 786.6 1076.5 793.7C1074.2 800.9 1067.3 810.6 1060.4 816.4C1053.6 822.1 1042.7 827.3 1035.3 828.3C1027.9 829.3 1019.5 826.8 1015.9 822.4C1012.3 818.1 1011.2 809.4 1013.5 802.3C1015.8 795.1 1022.7 785.4 1029.6 779.6C1036.4 773.9 1047.3 768.7 1054.7 767.7C1062.1 766.7 1070.5 769.2 1074.1 773.6Z" fill="#6e6e6e"/><path d="M1178.8 802.7C1180.3 806.7 1177.9 813.4 1173.3 818.3C1168.7 823.1 1159.1 829 1151.2 831.9C1143.2 834.8 1132.1 836.4 1125.4 835.7C1118.8 834.9 1112.6 831.3 1111.2 827.3C1109.7 823.3 1112.1 816.6 1116.7 811.7C1121.3 806.9 1130.9 801 1138.8 798.1C1146.8 795.2 1157.9 793.6 1164.6 794.3C1171.2 795.1 1177.4 798.7 1178.8 802.7Z" fill="#6e6e6e"/><path d="M1338.1 785.8C1339.1 789.4 1333.7 795.9 1325.5 800.9C1317.3 805.8 1301.7 812.1 1289.1 815.5C1276.6 818.8 1259.9 821.2 1250.4 821C1240.8 820.8 1232.9 817.9 1231.9 814.2C1230.9 810.6 1236.3 804.1 1244.5 799.1C1252.7 794.2 1268.3 787.9 1280.9 784.5C1293.4 781.2 1310.1 778.8 1319.6 779C1329.2 779.2 1337.1 782.1 1338.1 785.8Z" fill="#6e6e6e"/><path d="M1627.8 872.9C1620.3 883.6 1606.6 894.4 1595.9 898.1C1585.1 901.8 1571.2 900.5 1563.5 895.1C1555.7 889.6 1549.7 877 1549.5 865.6C1549.3 854.3 1554.8 837.7 1562.2 827.1C1569.7 816.4 1583.4 805.6 1594.1 801.9C1604.9 798.2 1618.8 799.5 1626.5 804.9C1634.3 810.4 1640.3 823 1640.5 834.4C1640.7 845.7 1635.2 862.3 1627.8 872.9Z" fill="#6e6e6e"/><path d="M1635.1 1001.5C1631 1007.3 1620.1 1010.8 1609.7 1009.7C1599.3 1008.5 1583.4 1002 1572.8 994.6C1562.2 987.1 1550.6 974.4 1546 965.1C1541.3 955.7 1540.9 944.2 1544.9 938.5C1549 932.7 1559.9 929.2 1570.3 930.3C1580.7 931.5 1596.6 938 1607.2 945.4C1617.8 952.9 1629.4 965.6 1634 974.9C1638.7 984.3 1639.1 995.8 1635.1 1001.5Z" fill="#6e6e6e"/><path d="M1096.1 955.3C1097.9 960.9 1090.7 971.2 1079.3 979.3C1067.9 987.4 1045.7 997.9 1027.7 1003.8C1009.8 1009.6 985.6 1014.1 971.7 1014.3C957.7 1014.5 945.7 1010.3 943.9 1004.7C942.1 999.1 949.3 988.8 960.7 980.7C972.1 972.6 994.3 962.1 1012.3 956.2C1030.2 950.4 1054.4 945.9 1068.3 945.7C1082.3 945.5 1094.3 949.7 1096.1 955.3Z" fill="#6e6e6e"/><path d="M895.3 1062.5C897.4 1066.2 896.3 1073.1 892.8 1078.6C889.2 1084.2 881.1 1091.5 874 1095.6C866.9 1099.7 856.5 1103.1 849.9 1103.4C843.4 1103.7 836.8 1101.2 834.7 1097.5C832.6 1093.8 833.7 1086.9 837.2 1081.4C840.8 1075.8 848.9 1068.5 856 1064.4C863.1 1060.3 873.5 1056.9 880.1 1056.6C886.6 1056.3 893.2 1058.8 895.3 1062.5Z" fill="#6e6e6e"/><path d="M1130.3 1092.5C1132.9 1097 1132.4 1105 1129.2 1111.1C1126 1117.2 1118.1 1124.9 1111 1129.1C1103.9 1133.2 1093.2 1136.1 1086.3 1135.8C1079.5 1135.6 1072.3 1132 1069.7 1127.5C1067.1 1123 1067.6 1115 1070.8 1108.9C1074 1102.8 1081.9 1095.1 1089 1090.9C1096.1 1086.8 1106.8 1083.9 1113.7 1084.2C1120.5 1084.4 1127.7 1088 1130.3 1092.5Z" fill="#6e6e6e"/><path d="M1740 760C1750 755 1781.7 763.3 1800 770C1818.3 776.7 1840 785 1850 800C1860 815 1861.7 843.3 1860 860C1858.3 876.7 1851.7 896.7 1840 900C1828.3 903.3 1803.3 888.3 1790 880C1776.7 871.7 1768.3 863.3 1760 850C1751.7 836.7 1743.3 815 1740 800C1736.7 785 1730 765 1740 760Z" fill="#6e6e6e"/><path d="M640 770C760 740 860 710 1000 680C1050 660 1100 640 1150 600" fill="none" stroke="#000" stroke-opacity="0.5" stroke-width="60" stroke-linecap="round" filter="url(#b40)"/><path d="M700 750C800 730 880 705 1000 680" fill="none" stroke="#000" stroke-opacity="0.6" stroke-width="30" stroke-linecap="round" filter="url(#b20)"/><path d="M950 800C900 880 840 950 780 1030" fill="none" stroke="#000" stroke-opacity="0.3" stroke-width="40" stroke-linecap="round" filter="url(#b20)"/><path d="M1150 330C1250 370 1350 380 1450 370" fill="none" stroke="#000" stroke-opacity="0.4" stroke-width="40" stroke-linecap="round" filter="url(#b20)"/><path d="M700 748C800 728 880 706 1000 682" fill="none" stroke="#000" stroke-opacity="0.7" stroke-width="16" stroke-linecap="round" filter="url(#b10)"/><path d="M95 800C95 781.7 95 756.7 100 730C105 703.3 113.3 670 125 640C136.7 610 151.7 581.7 170 550C188.3 518.3 210 481.7 235 450C260 418.3 289.2 388.3 320 360C350.8 331.7 383.3 305 420 280C456.7 255 496.7 231.7 540 210C583.3 188.3 633.3 167.5 680 150C726.7 132.5 773.3 117.5 820 105C866.7 92.5 915 82.2 960 75C1005 67.8 1050 63.7 1090 62C1130 60.3 1166.7 62 1200 65C1233.3 68 1261.7 72.5 1290 80C1318.3 87.5 1345 97.5 1370 110C1395 122.5 1418.3 137.5 1440 155C1461.7 172.5 1481.7 194.2 1500 215C1518.3 235.8 1533.3 255.8 1550 280C1566.7 304.2 1581.7 331.7 1600 360C1618.3 388.3 1640 420 1660 450C1680 480 1701.7 511.7 1720 540C1738.3 568.3 1755 595 1770 620C1785 645 1798.3 668.3 1810 690C1821.7 711.7 1832 730 1840 750C1848 770 1854.7 791.7 1858 810C1861.3 828.3 1862.2 844.2 1860 860C1857.8 875.8 1853.3 890.8 1845 905C1836.7 919.2 1825.8 933.3 1810 945C1794.2 956.7 1773.3 965.8 1750 975C1726.7 984.2 1700 990.8 1670 1000C1640 1009.2 1603.3 1020 1570 1030C1536.7 1040 1503.3 1050 1470 1060C1436.7 1070 1403.3 1079.2 1370 1090C1336.7 1100.8 1303.3 1113.3 1270 1125C1236.7 1136.7 1203.3 1147.5 1170 1160C1136.7 1172.5 1101.7 1187.5 1070 1200C1038.3 1212.5 1008.3 1225.8 980 1235C951.7 1244.2 925 1251.2 900 1255C875 1258.8 850 1260.5 830 1258C810 1255.5 794.2 1248 780 1240C765.8 1232 755 1221.7 745 1210C735 1198.3 728.3 1184.2 720 1170C711.7 1155.8 705 1137.5 695 1125C685 1112.5 675.8 1102.5 660 1095C644.2 1087.5 623.3 1083.3 600 1080C576.7 1076.7 550 1078.3 520 1075C490 1071.7 453.3 1066.7 420 1060C386.7 1053.3 351.7 1045.8 320 1035C288.3 1024.2 255.8 1010 230 995C204.2 980 183.3 963.3 165 945C146.7 926.7 130.8 902.5 120 885C109.2 867.5 104.2 854.2 100 840C95.8 825.8 95 818.3 95 800Z" transform="translate(0 -12)" fill="none" stroke="url(#rg2)" stroke-opacity="0.36" stroke-width="160" filter="url(#b40)"/><path d="M95 800C95 781.7 95 756.7 100 730C105 703.3 113.3 670 125 640C136.7 610 151.7 581.7 170 550C188.3 518.3 210 481.7 235 450C260 418.3 289.2 388.3 320 360C350.8 331.7 383.3 305 420 280C456.7 255 496.7 231.7 540 210C583.3 188.3 633.3 167.5 680 150C726.7 132.5 773.3 117.5 820 105C866.7 92.5 915 82.2 960 75C1005 67.8 1050 63.7 1090 62C1130 60.3 1166.7 62 1200 65C1233.3 68 1261.7 72.5 1290 80C1318.3 87.5 1345 97.5 1370 110C1395 122.5 1418.3 137.5 1440 155C1461.7 172.5 1481.7 194.2 1500 215C1518.3 235.8 1533.3 255.8 1550 280C1566.7 304.2 1581.7 331.7 1600 360C1618.3 388.3 1640 420 1660 450C1680 480 1701.7 511.7 1720 540C1738.3 568.3 1755 595 1770 620C1785 645 1798.3 668.3 1810 690C1821.7 711.7 1832 730 1840 750C1848 770 1854.7 791.7 1858 810C1861.3 828.3 1862.2 844.2 1860 860C1857.8 875.8 1853.3 890.8 1845 905C1836.7 919.2 1825.8 933.3 1810 945C1794.2 956.7 1773.3 965.8 1750 975C1726.7 984.2 1700 990.8 1670 1000C1640 1009.2 1603.3 1020 1570 1030C1536.7 1040 1503.3 1050 1470 1060C1436.7 1070 1403.3 1079.2 1370 1090C1336.7 1100.8 1303.3 1113.3 1270 1125C1236.7 1136.7 1203.3 1147.5 1170 1160C1136.7 1172.5 1101.7 1187.5 1070 1200C1038.3 1212.5 1008.3 1225.8 980 1235C951.7 1244.2 925 1251.2 900 1255C875 1258.8 850 1260.5 830 1258C810 1255.5 794.2 1248 780 1240C765.8 1232 755 1221.7 745 1210C735 1198.3 728.3 1184.2 720 1170C711.7 1155.8 705 1137.5 695 1125C685 1112.5 675.8 1102.5 660 1095C644.2 1087.5 623.3 1083.3 600 1080C576.7 1076.7 550 1078.3 520 1075C490 1071.7 453.3 1066.7 420 1060C386.7 1053.3 351.7 1045.8 320 1035C288.3 1024.2 255.8 1010 230 995C204.2 980 183.3 963.3 165 945C146.7 926.7 130.8 902.5 120 885C109.2 867.5 104.2 854.2 100 840C95.8 825.8 95 818.3 95 800Z" transform="translate(0 -6)" fill="none" stroke="url(#rg2)" stroke-opacity="0.7" stroke-width="42" filter="url(#b20)"/></g><path d="M95 800C95 781.7 95 756.7 100 730C105 703.3 113.3 670 125 640C136.7 610 151.7 581.7 170 550C188.3 518.3 210 481.7 235 450C260 418.3 289.2 388.3 320 360C350.8 331.7 383.3 305 420 280C456.7 255 496.7 231.7 540 210C583.3 188.3 633.3 167.5 680 150C726.7 132.5 773.3 117.5 820 105C866.7 92.5 915 82.2 960 75C1005 67.8 1050 63.7 1090 62C1130 60.3 1166.7 62 1200 65C1233.3 68 1261.7 72.5 1290 80C1318.3 87.5 1345 97.5 1370 110C1395 122.5 1418.3 137.5 1440 155C1461.7 172.5 1481.7 194.2 1500 215C1518.3 235.8 1533.3 255.8 1550 280C1566.7 304.2 1581.7 331.7 1600 360C1618.3 388.3 1640 420 1660 450C1680 480 1701.7 511.7 1720 540C1738.3 568.3 1755 595 1770 620C1785 645 1798.3 668.3 1810 690C1821.7 711.7 1832 730 1840 750C1848 770 1854.7 791.7 1858 810C1861.3 828.3 1862.2 844.2 1860 860C1857.8 875.8 1853.3 890.8 1845 905C1836.7 919.2 1825.8 933.3 1810 945C1794.2 956.7 1773.3 965.8 1750 975C1726.7 984.2 1700 990.8 1670 1000C1640 1009.2 1603.3 1020 1570 1030C1536.7 1040 1503.3 1050 1470 1060C1436.7 1070 1403.3 1079.2 1370 1090C1336.7 1100.8 1303.3 1113.3 1270 1125C1236.7 1136.7 1203.3 1147.5 1170 1160C1136.7 1172.5 1101.7 1187.5 1070 1200C1038.3 1212.5 1008.3 1225.8 980 1235C951.7 1244.2 925 1251.2 900 1255C875 1258.8 850 1260.5 830 1258C810 1255.5 794.2 1248 780 1240C765.8 1232 755 1221.7 745 1210C735 1198.3 728.3 1184.2 720 1170C711.7 1155.8 705 1137.5 695 1125C685 1112.5 675.8 1102.5 660 1095C644.2 1087.5 623.3 1083.3 600 1080C576.7 1076.7 550 1078.3 520 1075C490 1071.7 453.3 1066.7 420 1060C386.7 1053.3 351.7 1045.8 320 1035C288.3 1024.2 255.8 1010 230 995C204.2 980 183.3 963.3 165 945C146.7 926.7 130.8 902.5 120 885C109.2 867.5 104.2 854.2 100 840C95.8 825.8 95 818.3 95 800Z" fill="none" stroke="#000" stroke-opacity="0.7" stroke-width="5"/></g>
<g transform="translate(1250 15) scale(0.13430)"><clipPath id="cpC2"><path d="M110 800C107.2 779.2 112.2 761.7 118 740C123.8 718.3 132.2 695 145 670C157.8 645 176.7 618.3 195 590C213.3 561.7 235 530 255 500C275 470 295 440 315 410C335 380 355 348.3 375 320C395 291.7 413.3 265.8 435 240C456.7 214.2 481.7 186.7 505 165C528.3 143.3 550 125 575 110C600 95 627.5 83.7 655 75C682.5 66.3 709.2 61.3 740 58C770.8 54.7 806.7 53.8 840 55C873.3 56.2 906.7 60 940 65C973.3 70 1006.7 77.5 1040 85C1073.3 92.5 1106.7 100.8 1140 110C1173.3 119.2 1206.7 129.2 1240 140C1273.3 150.8 1306.7 161.7 1340 175C1373.3 188.3 1408.3 203.3 1440 220C1471.7 236.7 1501.7 255 1530 275C1558.3 295 1585 317.5 1610 340C1635 362.5 1658.3 386.7 1680 410C1701.7 433.3 1721.7 455 1740 480C1758.3 505 1775 531.7 1790 560C1805 588.3 1819.2 620 1830 650C1840.8 680 1849.2 711.7 1855 740C1860.8 768.3 1864.2 793.3 1865 820C1865.8 846.7 1865 876.7 1860 900C1855 923.3 1846.7 941.7 1835 960C1823.3 978.3 1809.2 995.8 1790 1010C1770.8 1024.2 1748.3 1035.8 1720 1045C1691.7 1054.2 1653.3 1060 1620 1065C1586.7 1070 1550 1072.5 1520 1075C1490 1077.5 1465 1078.3 1440 1080C1415 1081.7 1388.3 1081.7 1370 1085C1351.7 1088.3 1341.7 1091.7 1330 1100C1318.3 1108.3 1309.2 1120.8 1300 1135C1290.8 1149.2 1283.3 1170 1275 1185C1266.7 1200 1260.8 1213.8 1250 1225C1239.2 1236.2 1226.7 1246.2 1210 1252C1193.3 1257.8 1171.7 1260.7 1150 1260C1128.3 1259.3 1105 1255 1080 1248C1055 1241 1026.7 1228.5 1000 1218C973.3 1207.5 950 1197.2 920 1185C890 1172.8 853.3 1158.3 820 1145C786.7 1131.7 753.3 1117.5 720 1105C686.7 1092.5 653.3 1080.8 620 1070C586.7 1059.2 553.3 1049.2 520 1040C486.7 1030.8 453.3 1024.2 420 1015C386.7 1005.8 350 995 320 985C290 975 263.3 966.7 240 955C216.7 943.3 197.5 930 180 915C162.5 900 146.7 884.2 135 865C123.3 845.8 112.8 820.8 110 800Z"/></clipPath><clipPath id="coC2"><path d="M165 700C167.5 683.3 180.8 666.7 195 650C209.2 633.3 234.2 618.3 250 600C265.8 581.7 275 561.7 290 540C305 518.3 321.7 493.3 340 470C358.3 446.7 381.7 416.7 400 400C418.3 383.3 430 378.3 450 370C470 361.7 495 355 520 350C545 345 573.3 340.8 600 340C626.7 339.2 653.3 345 680 345C706.7 345 740 347.5 760 340C780 332.5 783.3 308.3 800 300C816.7 291.7 843.3 288.3 860 290C876.7 291.7 896.7 301.7 900 310C903.3 318.3 876.7 330 880 340C883.3 350 903.3 361.7 920 370C936.7 378.3 963.3 383.3 980 390C996.7 396.7 1006.7 400 1020 410C1033.3 420 1046.7 433.3 1060 450C1073.3 466.7 1091.7 491.7 1100 510C1108.3 528.3 1116.7 555 1110 560C1103.3 565 1078.3 551.7 1060 540C1041.7 528.3 1016.7 500 1000 490C983.3 480 963.3 475 960 480C956.7 485 968.3 506.7 980 520C991.7 533.3 1013.3 546.7 1030 560C1046.7 573.3 1068.3 586.7 1080 600C1091.7 613.3 1106.7 631.7 1100 640C1093.3 648.3 1060 648.3 1040 650C1020 651.7 998.3 651.7 980 650C961.7 648.3 945 640 930 640C915 640 898.3 643.3 890 650C881.7 656.7 878.3 668.3 880 680C881.7 691.7 890 716.7 900 720C910 723.3 925 700 940 700C955 700 975 706.7 990 720C1005 733.3 1018.3 760 1030 780C1041.7 800 1048.3 820 1060 840C1071.7 860 1085 880 1100 900C1115 920 1133.3 940 1150 960C1166.7 980 1185 1001.7 1200 1020C1215 1038.3 1236.7 1055 1240 1070C1243.3 1085 1233.3 1103.3 1220 1110C1206.7 1116.7 1176.7 1106.7 1160 1110C1143.3 1113.3 1136.7 1130 1120 1130C1103.3 1130 1080 1110 1060 1110C1040 1110 1020 1123.3 1000 1130C980 1136.7 963.3 1148.3 940 1150C916.7 1151.7 886.7 1146.7 860 1140C833.3 1133.3 806.7 1118.3 780 1110C753.3 1101.7 726.7 1098.3 700 1090C673.3 1081.7 650 1070 620 1060C590 1050 553.3 1040 520 1030C486.7 1020 453.3 1010 420 1000C386.7 990 350 980 320 970C290 960 256.7 946.7 240 940C223.3 933.3 216.7 935 220 930C223.3 925 255 921.7 260 910C265 898.3 248.3 875 250 860C251.7 845 270 833.3 270 820C270 806.7 265 791.7 250 780C235 768.3 194.2 763.3 180 750C165.8 736.7 162.5 716.7 165 700Z"/><path d="M1100 640C1115 631.7 1115 621.7 1130 620C1145 618.3 1181.7 638.3 1190 630C1198.3 621.7 1180.8 591.7 1180 570C1179.2 548.3 1185 523.3 1185 500C1185 476.7 1185.8 451.7 1180 430C1174.2 408.3 1158.3 388.3 1150 370C1141.7 351.7 1140 338.3 1130 320C1120 301.7 1103.3 280 1090 260C1076.7 240 1053.3 215.8 1050 200C1046.7 184.2 1060 168.3 1070 165C1080 161.7 1095 169.2 1110 180C1125 190.8 1145 215 1160 230C1175 245 1186.7 260 1200 270C1213.3 280 1235 295 1240 290C1245 285 1221.7 249.2 1230 240C1238.3 230.8 1270 231.7 1290 235C1310 238.3 1328.3 252.5 1350 260C1371.7 267.5 1395 273.3 1420 280C1445 286.7 1476.7 290 1500 300C1523.3 310 1540 323.3 1560 340C1580 356.7 1600 383.3 1620 400C1640 416.7 1660 425 1680 440C1700 455 1721.7 468.3 1740 490C1758.3 511.7 1775 541.7 1790 570C1805 598.3 1819.2 630 1830 660C1840.8 690 1849.2 721.7 1855 750C1860.8 778.3 1864.2 805 1865 830C1865.8 855 1865 879.2 1860 900C1855 920.8 1848.3 940 1835 955C1821.7 970 1802.5 980.8 1780 990C1757.5 999.2 1730 1005 1700 1010C1670 1015 1633.3 1018.3 1600 1020C1566.7 1021.7 1526.7 1021.7 1500 1020C1473.3 1018.3 1460 1016.7 1440 1010C1420 1003.3 1398.3 990 1380 980C1361.7 970 1341.7 963.3 1330 950C1318.3 936.7 1323.3 911.7 1310 900C1296.7 888.3 1266.7 886.7 1250 880C1233.3 873.3 1210 865 1210 860C1210 855 1231.7 848.3 1250 850C1268.3 851.7 1296.7 861.7 1320 870C1343.3 878.3 1368.3 895 1390 900C1411.7 905 1435 905 1450 900C1465 895 1471.7 881.7 1480 870C1488.3 858.3 1505 841.7 1500 830C1495 818.3 1470 808.3 1450 800C1430 791.7 1405 786.7 1380 780C1355 773.3 1326.7 766.7 1300 760C1273.3 753.3 1245 746.7 1220 740C1195 733.3 1173.3 726.7 1150 720C1126.7 713.3 1098.3 708.3 1080 700C1061.7 691.7 1036.7 680 1040 670C1043.3 660 1085 648.3 1100 640Z"/><path d="M736 265C736 270.9 733.3 277.9 729.1 282.6C725 287.4 717.8 291.7 711.1 293.5C704.4 295.3 695.6 295.3 688.9 293.5C682.2 291.7 675 287.4 670.9 282.6C666.7 277.9 664 270.9 664 265C664 259.1 666.7 252.1 670.9 247.4C675 242.6 682.2 238.3 688.9 236.5C695.6 234.7 704.4 234.7 711.1 236.5C717.8 238.3 725 242.6 729.1 247.4C733.3 252.1 736 259.1 736 265Z"/><path d="M617.1 292C614.9 296.7 606.2 300 596.8 299.6C587.3 299.3 571.8 295.1 560.7 289.9C549.6 284.8 536.4 275.5 530.1 268.6C523.8 261.6 520.7 252.7 522.9 248C525.1 243.3 533.8 240 543.2 240.4C552.7 240.7 568.2 244.9 579.3 250.1C590.4 255.2 603.6 264.5 609.9 271.4C616.2 278.4 619.3 287.3 617.1 292Z"/><path d="M473 274.6C467.3 282.7 457.7 291.6 450.7 295.3C443.7 298.9 435.2 299.4 430.9 296.4C426.7 293.4 424.2 285.2 425.2 277.4C426.2 269.6 431.3 257.5 437 249.4C442.7 241.3 452.3 232.4 459.3 228.7C466.3 225.1 474.8 224.6 479.1 227.6C483.3 230.6 485.8 238.8 484.8 246.6C483.8 254.4 478.7 266.5 473 274.6Z"/><path d="M1185.6 800.9C1184 806.6 1177 812.5 1169.1 814.8C1161.3 817 1148.1 816.7 1138.5 814.1C1129 811.6 1117.4 805.2 1111.7 799.4C1106.1 793.6 1102.9 784.8 1104.4 779.1C1106 773.4 1113 767.5 1120.9 765.2C1128.7 763 1141.9 763.3 1151.5 765.9C1161 768.4 1172.6 774.8 1178.3 780.6C1183.9 786.4 1187.1 795.2 1185.6 800.9Z"/><path d="M1144.9 1228C1143.5 1233.1 1134.3 1237.5 1123.3 1238.4C1112.4 1239.2 1093.4 1237 1079.3 1233.3C1065.2 1229.5 1047.7 1221.9 1038.6 1215.7C1029.6 1209.5 1023.8 1201 1025.1 1196C1026.5 1190.9 1035.7 1186.5 1046.7 1185.6C1057.6 1184.8 1076.6 1187 1090.7 1190.7C1104.8 1194.5 1122.3 1202.1 1131.4 1208.3C1140.4 1214.5 1146.2 1223 1144.9 1228Z"/><path d="M493 320.7C494.8 322.9 494.2 328.1 491.7 332.9C489.2 337.6 483.1 344.6 477.7 349.2C472.3 353.7 464.3 358.5 459.2 360.1C454.1 361.8 448.8 361.5 447 359.3C445.2 357.1 445.8 351.9 448.3 347.1C450.8 342.4 456.9 335.4 462.3 330.8C467.7 326.3 475.7 321.5 480.8 319.9C485.9 318.2 491.2 318.5 493 320.7Z"/></clipPath><g clip-path="url(#cpC2)"><path d="M110 800C107.2 779.2 112.2 761.7 118 740C123.8 718.3 132.2 695 145 670C157.8 645 176.7 618.3 195 590C213.3 561.7 235 530 255 500C275 470 295 440 315 410C335 380 355 348.3 375 320C395 291.7 413.3 265.8 435 240C456.7 214.2 481.7 186.7 505 165C528.3 143.3 550 125 575 110C600 95 627.5 83.7 655 75C682.5 66.3 709.2 61.3 740 58C770.8 54.7 806.7 53.8 840 55C873.3 56.2 906.7 60 940 65C973.3 70 1006.7 77.5 1040 85C1073.3 92.5 1106.7 100.8 1140 110C1173.3 119.2 1206.7 129.2 1240 140C1273.3 150.8 1306.7 161.7 1340 175C1373.3 188.3 1408.3 203.3 1440 220C1471.7 236.7 1501.7 255 1530 275C1558.3 295 1585 317.5 1610 340C1635 362.5 1658.3 386.7 1680 410C1701.7 433.3 1721.7 455 1740 480C1758.3 505 1775 531.7 1790 560C1805 588.3 1819.2 620 1830 650C1840.8 680 1849.2 711.7 1855 740C1860.8 768.3 1864.2 793.3 1865 820C1865.8 846.7 1865 876.7 1860 900C1855 923.3 1846.7 941.7 1835 960C1823.3 978.3 1809.2 995.8 1790 1010C1770.8 1024.2 1748.3 1035.8 1720 1045C1691.7 1054.2 1653.3 1060 1620 1065C1586.7 1070 1550 1072.5 1520 1075C1490 1077.5 1465 1078.3 1440 1080C1415 1081.7 1388.3 1081.7 1370 1085C1351.7 1088.3 1341.7 1091.7 1330 1100C1318.3 1108.3 1309.2 1120.8 1300 1135C1290.8 1149.2 1283.3 1170 1275 1185C1266.7 1200 1260.8 1213.8 1250 1225C1239.2 1236.2 1226.7 1246.2 1210 1252C1193.3 1257.8 1171.7 1260.7 1150 1260C1128.3 1259.3 1105 1255 1080 1248C1055 1241 1026.7 1228.5 1000 1218C973.3 1207.5 950 1197.2 920 1185C890 1172.8 853.3 1158.3 820 1145C786.7 1131.7 753.3 1117.5 720 1105C686.7 1092.5 653.3 1080.8 620 1070C586.7 1059.2 553.3 1049.2 520 1040C486.7 1030.8 453.3 1024.2 420 1015C386.7 1005.8 350 995 320 985C290 975 263.3 966.7 240 955C216.7 943.3 197.5 930 180 915C162.5 900 146.7 884.2 135 865C123.3 845.8 112.8 820.8 110 800Z" fill="#565656"/><path d="M770 80C800 200 900 300 1000 400C1050 460 1100 520 1130 560" fill="none" stroke="#868686" stroke-width="60" stroke-linecap="round" stroke-linejoin="round" filter="url(#b6)"/><path d="M970 90C1010 180 1070 260 1120 330C1160 400 1175 480 1180 560" fill="none" stroke="#868686" stroke-width="55" stroke-linecap="round" stroke-linejoin="round" filter="url(#b6)"/><path d="M600 130C640 180 660 220 640 260" fill="none" stroke="#868686" stroke-width="80" stroke-linecap="round" stroke-linejoin="round" filter="url(#b6)"/><path d="M1100 120C1220 170 1360 230 1500 300" fill="none" stroke="#868686" stroke-width="45" stroke-linecap="round" stroke-linejoin="round" filter="url(#b6)"/><path d="M1020 1170C1100 1190 1180 1190 1260 1160" fill="none" stroke="#868686" stroke-width="100" stroke-linecap="round" stroke-linejoin="round" filter="url(#b6)"/><path d="M1050 790C1200 810 1350 840 1450 880" fill="none" stroke="#868686" stroke-width="80" stroke-linecap="round" stroke-linejoin="round" filter="url(#b6)"/><path d="M1260 900C1280 960 1300 1020 1290 1080" fill="none" stroke="#868686" stroke-width="90" stroke-linecap="round" stroke-linejoin="round" filter="url(#b6)"/><path d="M1350 1040C1450 1050 1600 1040 1750 1010" fill="none" stroke="#868686" stroke-width="40" stroke-linecap="round" stroke-linejoin="round" filter="url(#b6)"/><path d="M160 780C200 800 220 830 200 870" fill="none" stroke="#868686" stroke-width="60" stroke-linecap="round" stroke-linejoin="round" filter="url(#b6)"/><path d="M1330 480C1400 500 1460 540 1500 570" fill="none" stroke="#868686" stroke-width="50" stroke-linecap="round" stroke-linejoin="round" filter="url(#b6)"/><g clip-path="url(#coC2)"><rect x="-100" y="-100" width="2200" height="1600" fill="#f37a03"/><path d="M480 760C700 880 850 960 1050 1060" fill="none" stroke="#ee1c00" stroke-opacity="0.75" stroke-width="110" stroke-linecap="round" filter="url(#b20)"/><path d="M600 500C750 680 900 820 1050 950" fill="none" stroke="#ee1c00" stroke-opacity="0.55" stroke-width="80" stroke-linecap="round" filter="url(#b20)"/><path d="M1240 400C1260 500 1260 560 1240 620" fill="none" stroke="#ee1c00" stroke-opacity="0.65" stroke-width="60" stroke-linecap="round" filter="url(#b20)"/><path d="M350 550C450 450 600 400 900 420" fill="none" stroke="#ee1c00" stroke-opacity="0.45" stroke-width="70" stroke-linecap="round" filter="url(#b20)"/><path d="M1300 700C1450 730 1600 800 1700 900" fill="none" stroke="#ee1c00" stroke-opacity="0.4" stroke-width="70" stroke-linecap="round" filter="url(#b20)"/><ellipse cx="800" cy="520" rx="60" ry="60" fill="#ee1c00" fill-opacity="0.95" filter="url(#b20)"/><ellipse cx="720" cy="880" rx="170" ry="80" fill="#ee1c00" fill-opacity="1" filter="url(#b20)"/><ellipse cx="920" cy="1000" rx="160" ry="70" fill="#ee1c00" fill-opacity="1" filter="url(#b20)"/><ellipse cx="1250" cy="530" rx="60" ry="110" fill="#ee1c00" fill-opacity="0.9" filter="url(#b20)"/><ellipse cx="1510" cy="940" rx="60" ry="50" fill="#ee1c00" fill-opacity="1" filter="url(#b20)"/><ellipse cx="400" cy="650" rx="80" ry="90" fill="#ee1c00" fill-opacity="0.8" filter="url(#b20)"/><ellipse cx="550" cy="440" rx="70" ry="50" fill="#ee1c00" fill-opacity="0.8" filter="url(#b20)"/><ellipse cx="950" cy="880" rx="90" ry="90" fill="#ee1c00" fill-opacity="0.8" filter="url(#b20)"/><ellipse cx="1720" cy="620" rx="50" ry="110" fill="#ee1c00" fill-opacity="0.7" filter="url(#b20)"/><ellipse cx="650" cy="700" rx="80" ry="100" fill="#ee1c00" fill-opacity="0.7" filter="url(#b20)"/><ellipse cx="900" cy="440" rx="70" ry="40" fill="#ee1c00" fill-opacity="0.7" filter="url(#b20)"/><ellipse cx="1650" cy="850" rx="80" ry="100" fill="#ee1c00" fill-opacity="0.5" filter="url(#b20)"/><ellipse cx="1300" cy="350" rx="80" ry="50" fill="#ee1c00" fill-opacity="0.5" filter="url(#b20)"/><ellipse cx="500" cy="850" rx="100" ry="80" fill="#ee1c00" fill-opacity="0.5" filter="url(#b20)"/><ellipse cx="1100" cy="1050" rx="60" ry="60" fill="#ee1c00" fill-opacity="0.5" filter="url(#b20)"/></g><path d="M656.8 459.9C661.3 469.7 664.5 483.7 664.1 492.3C663.7 500.9 659.6 509.3 654.4 511.7C649.3 514.1 640.2 511.9 633.4 506.7C626.5 501.4 617.8 490 613.2 480.1C608.7 470.3 605.5 456.3 605.9 447.7C606.3 439.1 610.4 430.7 615.6 428.3C620.7 425.9 629.8 428.1 636.6 433.3C643.5 438.6 652.2 450 656.8 459.9Z" fill="#6e6e6e"/><path d="M662 580C662 586.6 659.9 595.1 657 599.8C654.2 604.5 649 608 645 608C641 608 635.8 604.5 633 599.8C630.1 595.1 628 586.6 628 580C628 573.4 630.1 564.9 633 560.2C635.8 555.5 641 552 645 552C649 552 654.2 555.5 657 560.2C659.9 564.9 662 573.4 662 580Z" fill="#6e6e6e"/><path d="M748.2 603.8C750.6 612.9 750.9 625.5 748.7 632.9C746.6 640.4 740.8 647.2 735.4 648.6C729.9 650.1 721.5 647.1 715.9 641.7C710.3 636.3 704.3 625.3 701.8 616.2C699.4 607.1 699.1 594.5 701.3 587.1C703.4 579.6 709.2 572.8 714.6 571.4C720.1 569.9 728.5 572.9 734.1 578.3C739.7 583.7 745.7 594.7 748.2 603.8Z" fill="#6e6e6e"/><path d="M556 635C556 639.7 554.6 645.8 552.8 649.1C550.9 652.5 547.6 655 545 655C542.4 655 539.1 652.5 537.2 649.1C535.4 645.8 534 639.7 534 635C534 630.3 535.4 624.2 537.2 620.9C539.1 617.5 542.4 615 545 615C547.6 615 550.9 617.5 552.8 620.9C554.6 624.2 556 630.3 556 635Z" fill="#6e6e6e"/><path d="M396.4 873C388 883.1 374.3 893.9 364.7 898.1C355.1 902.2 344.1 902.1 339 897.9C333.9 893.7 332 882.8 334.4 872.6C336.8 862.5 345.1 847.1 353.6 837C362 826.9 375.7 816.1 385.3 811.9C394.9 807.8 405.9 807.9 411 812.1C416.1 816.3 418 827.2 415.6 837.4C413.2 847.5 404.9 862.9 396.4 873Z" fill="#6e6e6e"/><path d="M1084.5 1088.9C1080.2 1094 1070.4 1096.9 1061.6 1095.6C1052.9 1094.4 1040.1 1088.3 1032 1081.4C1023.9 1074.6 1015.6 1063.1 1012.9 1054.7C1010.2 1046.3 1011.3 1036.1 1015.5 1031.1C1019.8 1026 1029.6 1023.1 1038.4 1024.4C1047.1 1025.6 1059.9 1031.7 1068 1038.6C1076.1 1045.4 1084.4 1056.9 1087.1 1065.3C1089.8 1073.7 1088.7 1083.9 1084.5 1088.9Z" fill="#6e6e6e"/><path d="M1300 450C1311.7 431.7 1356.7 435 1380 440C1403.3 445 1420 465 1440 480C1460 495 1483.3 515 1500 530C1516.7 545 1540 560 1540 570C1540 580 1520 590 1500 590C1480 590 1443.3 570 1420 570C1396.7 570 1376.7 583.3 1360 590C1343.3 596.7 1328.3 616.7 1320 610C1311.7 603.3 1313.3 576.7 1310 550C1306.7 523.3 1288.3 468.3 1300 450Z" fill="#6e6e6e"/><path d="M1675.5 710.9C1671.7 716.3 1658.6 717.5 1645 713.7C1631.4 709.8 1609.4 698.8 1593.9 687.9C1578.5 677.1 1560.6 660.2 1552.3 648.8C1544.1 637.3 1540.7 624.5 1544.5 619.1C1548.3 613.7 1561.4 612.5 1575 616.3C1588.6 620.2 1610.6 631.2 1626.1 642.1C1641.5 652.9 1659.4 669.8 1667.7 681.2C1675.9 692.7 1679.3 705.5 1675.5 710.9Z" fill="#6e6e6e"/><path d="M1576 545C1576 550.7 1572.5 558 1567.8 562C1563.1 566 1554.6 569 1548 569C1541.4 569 1532.9 566 1528.2 562C1523.5 558 1520 550.7 1520 545C1520 539.3 1523.5 532 1528.2 528C1532.9 524 1541.4 521 1548 521C1554.6 521 1563.1 524 1567.8 528C1572.5 532 1576 539.3 1576 545Z" fill="#6e6e6e"/><path d="M1004.1 506C1002.8 508.2 998.7 509.8 994.6 509.5C990.5 509.3 984 507.1 979.5 504.5C975 501.9 969.9 497.4 967.6 494C965.4 490.5 964.7 486.2 965.9 484C967.2 481.8 971.3 480.2 975.4 480.5C979.5 480.7 986 482.9 990.5 485.5C995 488.1 1000.1 492.6 1002.4 496C1004.6 499.5 1005.3 503.8 1004.1 506Z" fill="#6e6e6e"/><path d="M924.1 661C928.3 668.3 931.4 679.2 931.2 686.3C931 693.3 927.5 700.6 923 703.2C918.5 705.8 910.4 705.2 904.3 701.8C898.1 698.5 890.2 690.3 885.9 683C881.7 675.7 878.6 664.8 878.8 657.7C879 650.7 882.5 643.4 887 640.8C891.5 638.2 899.6 638.8 905.7 642.2C911.9 645.5 919.8 653.7 924.1 661Z" fill="#6e6e6e"/><path d="M1250 305C1267.5 303.3 1316.7 310.8 1350 320C1383.3 329.2 1420 344.2 1450 360C1480 375.8 1518.3 403.3 1530 415C1541.7 426.7 1535 435 1520 430C1505 425 1470 399.2 1440 385C1410 370.8 1372.5 354.2 1340 345C1307.5 335.8 1260 336.7 1245 330C1230 323.3 1232.5 306.7 1250 305Z" fill="#6e6e6e"/><path d="M1420 255C1433.3 256.7 1466.7 271.7 1490 285C1513.3 298.3 1550 324.2 1560 335C1570 345.8 1563.3 355 1550 350C1536.7 345 1503.3 317.5 1480 305C1456.7 292.5 1420 283.3 1410 275C1400 266.7 1406.7 253.3 1420 255Z" fill="#6e6e6e"/><path d="M1745 590C1756.7 603.3 1785 650 1800 680C1815 710 1828 740 1835 770C1842 800 1843.7 845 1842 860C1840.3 875 1829.5 874.2 1825 860C1820.5 845.8 1822.5 803.3 1815 775C1807.5 746.7 1794.2 719.2 1780 690C1765.8 660.8 1735.8 616.7 1730 600C1724.2 583.3 1733.3 576.7 1745 590Z" fill="#6e6e6e"/><path d="M1708 427.4C1713.4 435.1 1718.1 446.7 1719 454.2C1719.8 461.8 1717.2 469.8 1712.9 472.8C1708.7 475.7 1700.3 475.4 1693.5 472.1C1686.7 468.7 1677.4 460.3 1672 452.6C1666.6 444.9 1661.9 433.3 1661 425.8C1660.2 418.2 1662.8 410.2 1667.1 407.2C1671.3 404.3 1679.7 404.6 1686.5 407.9C1693.3 411.3 1702.6 419.7 1708 427.4Z" fill="#6e6e6e"/><path d="M1120 230C1129.2 233.3 1146.7 248.3 1160 260C1173.3 271.7 1190.8 288.3 1200 300C1209.2 311.7 1215 324.2 1215 330C1215 335.8 1207.5 340 1200 335C1192.5 330 1181.7 311.7 1170 300C1158.3 288.3 1140.8 275 1130 265C1119.2 255 1106.7 245.8 1105 240C1103.3 234.2 1110.8 226.7 1120 230Z" fill="#6e6e6e"/><path d="M1330 330C1342.5 330.8 1378.3 341.7 1400 350C1421.7 358.3 1451.7 372.5 1460 380C1468.3 387.5 1461.7 396.7 1450 395C1438.3 393.3 1410.8 378.3 1390 370C1369.2 361.7 1335 351.7 1325 345C1315 338.3 1317.5 329.2 1330 330Z" fill="#6e6e6e"/><path d="M1020 750C1026.7 743.3 1070 755 1100 760C1130 765 1166.7 773.3 1200 780C1233.3 786.7 1266.7 791.7 1300 800C1333.3 808.3 1370 820 1400 830C1430 840 1470 848.3 1480 860C1490 871.7 1476.7 896.7 1460 900C1443.3 903.3 1406.7 886.7 1380 880C1353.3 873.3 1330 866.7 1300 860C1270 853.3 1230 845 1200 840C1170 835 1143.3 836.7 1120 830C1096.7 823.3 1076.7 813.3 1060 800C1043.3 786.7 1013.3 756.7 1020 750Z" fill="#6e6e6e"/><path d="M900 640C1000 660 1100 690 1200 710C1300 730 1380 745 1460 770" fill="none" stroke="#000" stroke-opacity="0.5" stroke-width="60" stroke-linecap="round" filter="url(#b40)"/><path d="M1020 675C1150 700 1250 720 1400 750" fill="none" stroke="#000" stroke-opacity="0.6" stroke-width="30" stroke-linecap="round" filter="url(#b20)"/><path d="M950 760C1020 860 1120 960 1220 1060" fill="none" stroke="#000" stroke-opacity="0.35" stroke-width="40" stroke-linecap="round" filter="url(#b20)"/><path d="M600 350C700 370 800 360 900 340" fill="none" stroke="#000" stroke-opacity="0.35" stroke-width="40" stroke-linecap="round" filter="url(#b20)"/><path d="M1040 680C1150 702 1250 722 1400 752" fill="none" stroke="#000" stroke-opacity="0.7" stroke-width="16" stroke-linecap="round" filter="url(#b10)"/><path d="M110 800C107.2 779.2 112.2 761.7 118 740C123.8 718.3 132.2 695 145 670C157.8 645 176.7 618.3 195 590C213.3 561.7 235 530 255 500C275 470 295 440 315 410C335 380 355 348.3 375 320C395 291.7 413.3 265.8 435 240C456.7 214.2 481.7 186.7 505 165C528.3 143.3 550 125 575 110C600 95 627.5 83.7 655 75C682.5 66.3 709.2 61.3 740 58C770.8 54.7 806.7 53.8 840 55C873.3 56.2 906.7 60 940 65C973.3 70 1006.7 77.5 1040 85C1073.3 92.5 1106.7 100.8 1140 110C1173.3 119.2 1206.7 129.2 1240 140C1273.3 150.8 1306.7 161.7 1340 175C1373.3 188.3 1408.3 203.3 1440 220C1471.7 236.7 1501.7 255 1530 275C1558.3 295 1585 317.5 1610 340C1635 362.5 1658.3 386.7 1680 410C1701.7 433.3 1721.7 455 1740 480C1758.3 505 1775 531.7 1790 560C1805 588.3 1819.2 620 1830 650C1840.8 680 1849.2 711.7 1855 740C1860.8 768.3 1864.2 793.3 1865 820C1865.8 846.7 1865 876.7 1860 900C1855 923.3 1846.7 941.7 1835 960C1823.3 978.3 1809.2 995.8 1790 1010C1770.8 1024.2 1748.3 1035.8 1720 1045C1691.7 1054.2 1653.3 1060 1620 1065C1586.7 1070 1550 1072.5 1520 1075C1490 1077.5 1465 1078.3 1440 1080C1415 1081.7 1388.3 1081.7 1370 1085C1351.7 1088.3 1341.7 1091.7 1330 1100C1318.3 1108.3 1309.2 1120.8 1300 1135C1290.8 1149.2 1283.3 1170 1275 1185C1266.7 1200 1260.8 1213.8 1250 1225C1239.2 1236.2 1226.7 1246.2 1210 1252C1193.3 1257.8 1171.7 1260.7 1150 1260C1128.3 1259.3 1105 1255 1080 1248C1055 1241 1026.7 1228.5 1000 1218C973.3 1207.5 950 1197.2 920 1185C890 1172.8 853.3 1158.3 820 1145C786.7 1131.7 753.3 1117.5 720 1105C686.7 1092.5 653.3 1080.8 620 1070C586.7 1059.2 553.3 1049.2 520 1040C486.7 1030.8 453.3 1024.2 420 1015C386.7 1005.8 350 995 320 985C290 975 263.3 966.7 240 955C216.7 943.3 197.5 930 180 915C162.5 900 146.7 884.2 135 865C123.3 845.8 112.8 820.8 110 800Z" transform="translate(0 -12)" fill="none" stroke="url(#rg2)" stroke-opacity="0.36" stroke-width="160" filter="url(#b40)"/><path d="M110 800C107.2 779.2 112.2 761.7 118 740C123.8 718.3 132.2 695 145 670C157.8 645 176.7 618.3 195 590C213.3 561.7 235 530 255 500C275 470 295 440 315 410C335 380 355 348.3 375 320C395 291.7 413.3 265.8 435 240C456.7 214.2 481.7 186.7 505 165C528.3 143.3 550 125 575 110C600 95 627.5 83.7 655 75C682.5 66.3 709.2 61.3 740 58C770.8 54.7 806.7 53.8 840 55C873.3 56.2 906.7 60 940 65C973.3 70 1006.7 77.5 1040 85C1073.3 92.5 1106.7 100.8 1140 110C1173.3 119.2 1206.7 129.2 1240 140C1273.3 150.8 1306.7 161.7 1340 175C1373.3 188.3 1408.3 203.3 1440 220C1471.7 236.7 1501.7 255 1530 275C1558.3 295 1585 317.5 1610 340C1635 362.5 1658.3 386.7 1680 410C1701.7 433.3 1721.7 455 1740 480C1758.3 505 1775 531.7 1790 560C1805 588.3 1819.2 620 1830 650C1840.8 680 1849.2 711.7 1855 740C1860.8 768.3 1864.2 793.3 1865 820C1865.8 846.7 1865 876.7 1860 900C1855 923.3 1846.7 941.7 1835 960C1823.3 978.3 1809.2 995.8 1790 1010C1770.8 1024.2 1748.3 1035.8 1720 1045C1691.7 1054.2 1653.3 1060 1620 1065C1586.7 1070 1550 1072.5 1520 1075C1490 1077.5 1465 1078.3 1440 1080C1415 1081.7 1388.3 1081.7 1370 1085C1351.7 1088.3 1341.7 1091.7 1330 1100C1318.3 1108.3 1309.2 1120.8 1300 1135C1290.8 1149.2 1283.3 1170 1275 1185C1266.7 1200 1260.8 1213.8 1250 1225C1239.2 1236.2 1226.7 1246.2 1210 1252C1193.3 1257.8 1171.7 1260.7 1150 1260C1128.3 1259.3 1105 1255 1080 1248C1055 1241 1026.7 1228.5 1000 1218C973.3 1207.5 950 1197.2 920 1185C890 1172.8 853.3 1158.3 820 1145C786.7 1131.7 753.3 1117.5 720 1105C686.7 1092.5 653.3 1080.8 620 1070C586.7 1059.2 553.3 1049.2 520 1040C486.7 1030.8 453.3 1024.2 420 1015C386.7 1005.8 350 995 320 985C290 975 263.3 966.7 240 955C216.7 943.3 197.5 930 180 915C162.5 900 146.7 884.2 135 865C123.3 845.8 112.8 820.8 110 800Z" transform="translate(0 -6)" fill="none" stroke="url(#rg2)" stroke-opacity="0.7" stroke-width="42" filter="url(#b20)"/></g><path d="M110 800C107.2 779.2 112.2 761.7 118 740C123.8 718.3 132.2 695 145 670C157.8 645 176.7 618.3 195 590C213.3 561.7 235 530 255 500C275 470 295 440 315 410C335 380 355 348.3 375 320C395 291.7 413.3 265.8 435 240C456.7 214.2 481.7 186.7 505 165C528.3 143.3 550 125 575 110C600 95 627.5 83.7 655 75C682.5 66.3 709.2 61.3 740 58C770.8 54.7 806.7 53.8 840 55C873.3 56.2 906.7 60 940 65C973.3 70 1006.7 77.5 1040 85C1073.3 92.5 1106.7 100.8 1140 110C1173.3 119.2 1206.7 129.2 1240 140C1273.3 150.8 1306.7 161.7 1340 175C1373.3 188.3 1408.3 203.3 1440 220C1471.7 236.7 1501.7 255 1530 275C1558.3 295 1585 317.5 1610 340C1635 362.5 1658.3 386.7 1680 410C1701.7 433.3 1721.7 455 1740 480C1758.3 505 1775 531.7 1790 560C1805 588.3 1819.2 620 1830 650C1840.8 680 1849.2 711.7 1855 740C1860.8 768.3 1864.2 793.3 1865 820C1865.8 846.7 1865 876.7 1860 900C1855 923.3 1846.7 941.7 1835 960C1823.3 978.3 1809.2 995.8 1790 1010C1770.8 1024.2 1748.3 1035.8 1720 1045C1691.7 1054.2 1653.3 1060 1620 1065C1586.7 1070 1550 1072.5 1520 1075C1490 1077.5 1465 1078.3 1440 1080C1415 1081.7 1388.3 1081.7 1370 1085C1351.7 1088.3 1341.7 1091.7 1330 1100C1318.3 1108.3 1309.2 1120.8 1300 1135C1290.8 1149.2 1283.3 1170 1275 1185C1266.7 1200 1260.8 1213.8 1250 1225C1239.2 1236.2 1226.7 1246.2 1210 1252C1193.3 1257.8 1171.7 1260.7 1150 1260C1128.3 1259.3 1105 1255 1080 1248C1055 1241 1026.7 1228.5 1000 1218C973.3 1207.5 950 1197.2 920 1185C890 1172.8 853.3 1158.3 820 1145C786.7 1131.7 753.3 1117.5 720 1105C686.7 1092.5 653.3 1080.8 620 1070C586.7 1059.2 553.3 1049.2 520 1040C486.7 1030.8 453.3 1024.2 420 1015C386.7 1005.8 350 995 320 985C290 975 263.3 966.7 240 955C216.7 943.3 197.5 930 180 915C162.5 900 146.7 884.2 135 865C123.3 845.8 112.8 820.8 110 800Z" fill="none" stroke="#000" stroke-opacity="0.7" stroke-width="5"/></g>
<g transform="translate(1490 15) scale(0.13430)"><clipPath id="cpC3"><path d="M115 800C115.3 785 116.2 761.7 122 740C127.8 718.3 137 695 150 670C163 645 181.7 618.3 200 590C218.3 561.7 240 530 260 500C280 470 300 440 320 410C340 380 360 348.3 380 320C400 291.7 418.3 265 440 240C461.7 215 486.7 190 510 170C533.3 150 555 134.2 580 120C605 105.8 632.5 93.7 660 85C687.5 76.3 714.2 71.2 745 68C775.8 64.8 811.7 64.7 845 66C878.3 67.3 911.7 71 945 76C978.3 81 1011.7 88.2 1045 96C1078.3 103.8 1111.7 113.5 1145 123C1178.3 132.5 1211.7 142.2 1245 153C1278.3 163.8 1311.7 174.7 1345 188C1378.3 201.3 1413.3 217.2 1445 233C1476.7 248.8 1506.7 264.3 1535 283C1563.3 301.7 1590 323 1615 345C1640 367 1663.3 390.8 1685 415C1706.7 439.2 1726.7 464.2 1745 490C1763.3 515.8 1780 541.7 1795 570C1810 598.3 1824.2 630 1835 660C1845.8 690 1854.2 723.3 1860 750C1865.8 776.7 1868.8 798.3 1870 820C1871.2 841.7 1870.7 860 1867 880C1863.3 900 1857.2 921.7 1848 940C1838.8 958.3 1828 975 1812 990C1796 1005 1775.3 1019.2 1752 1030C1728.7 1040.8 1702 1048.3 1672 1055C1642 1061.7 1605.3 1066.7 1572 1070C1538.7 1073.3 1502 1072.5 1472 1075C1442 1077.5 1414.8 1080.8 1392 1085C1369.2 1089.2 1350.3 1092.5 1335 1100C1319.7 1107.5 1310 1118.3 1300 1130C1290 1141.7 1283.3 1155.8 1275 1170C1266.7 1184.2 1260 1202.5 1250 1215C1240 1227.5 1230.8 1237.8 1215 1245C1199.2 1252.2 1176.7 1258 1155 1258C1133.3 1258 1110 1252.2 1085 1245C1060 1237.8 1031.7 1225.8 1005 1215C978.3 1204.2 955 1192.5 925 1180C895 1167.5 858.3 1153.3 825 1140C791.7 1126.7 758.3 1112.5 725 1100C691.7 1087.5 658.3 1075.8 625 1065C591.7 1054.2 558.3 1044.2 525 1035C491.7 1025.8 458.3 1018.3 425 1010C391.7 1001.7 355 994.2 325 985C295 975.8 268.3 965.8 245 955C221.7 944.2 202.5 934.2 185 920C167.5 905.8 150.8 885 140 870C129.2 855 124.2 841.7 120 830C115.8 818.3 114.7 815 115 800Z"/></clipPath><clipPath id="coC3"><path d="M260 600C257.5 586.7 258.3 559.2 265 540C271.7 520.8 289.2 493.3 300 485C310.8 476.7 322.5 499.2 330 490C337.5 480.8 335.8 450.8 345 430C354.2 409.2 371.7 387.5 385 365C398.3 342.5 411.7 316.7 425 295C438.3 273.3 449.2 246.2 465 235C480.8 223.8 502.5 226.3 520 228C537.5 229.7 553.3 243 570 245C586.7 247 605 241.7 620 240C635 238.3 646.7 231.7 660 235C673.3 238.3 688.3 250.8 700 260C711.7 269.2 718.3 280 730 290C741.7 300 755 310 770 320C785 330 801.7 341.7 820 350C838.3 358.3 860 365 880 370C900 375 920 376.3 940 380C960 383.7 980 388.7 1000 392C1020 395.3 1047.5 395.3 1060 400C1072.5 404.7 1078.3 413.3 1075 420C1071.7 426.7 1052.5 436.7 1040 440C1027.5 443.3 1015 440 1000 440C985 440 970 438.3 950 440C930 441.7 901.7 446.7 880 450C858.3 453.3 838.3 455 820 460C801.7 465 783.3 471.7 770 480C756.7 488.3 746.7 498.3 740 510C733.3 521.7 730.8 538.3 730 550C729.2 561.7 740 571.7 735 580C730 588.3 714.2 595 700 600C685.8 605 665 607.5 650 610C635 612.5 620 618.3 610 615C600 611.7 591.7 600.8 590 590C588.3 579.2 602.5 559.2 600 550C597.5 540.8 584.2 535 575 535C565.8 535 553.3 542.5 545 550C536.7 557.5 529.2 570 525 580C520.8 590 517.5 598.3 520 610C522.5 621.7 535.8 636.7 540 650C544.2 663.3 548.3 678.3 545 690C541.7 701.7 530.8 715 520 720C509.2 725 493.3 725 480 720C466.7 715 453.3 696.7 440 690C426.7 683.3 413.3 685 400 680C386.7 675 373.3 668.3 360 660C346.7 651.7 333.3 636.7 320 630C306.7 623.3 290 625 280 620C270 615 262.5 613.3 260 600Z"/><path d="M1020 460C1016.7 454.2 1030.8 446.7 1040 440C1049.2 433.3 1066.7 427.5 1075 420C1083.3 412.5 1077.5 401.7 1090 395C1102.5 388.3 1130 381.7 1150 380C1170 378.3 1190 380.8 1210 385C1230 389.2 1250 397.5 1270 405C1290 412.5 1315 420.8 1330 430C1345 439.2 1358.3 452.5 1360 460C1361.7 467.5 1353.3 473 1340 475C1326.7 477 1303.3 473.2 1280 472C1256.7 470.8 1225 468.7 1200 468C1175 467.3 1153.3 466.8 1130 468C1106.7 469.2 1078.3 476.3 1060 475C1041.7 473.7 1023.3 465.8 1020 460Z"/><path d="M795 130C798.3 120 819.2 118.3 830 120C840.8 121.7 851.7 131.7 860 140C868.3 148.3 868.3 162.5 880 170C891.7 177.5 910 181.7 930 185C950 188.3 976.7 188.3 1000 190C1023.3 191.7 1048.3 193.3 1070 195C1091.7 196.7 1111.7 195.8 1130 200C1148.3 204.2 1165 211.7 1180 220C1195 228.3 1206.7 241.7 1220 250C1233.3 258.3 1246.7 266.7 1260 270C1273.3 273.3 1295 278.3 1300 270C1305 261.7 1290 230.8 1290 220C1290 209.2 1288.3 205.8 1300 205C1311.7 204.2 1336.7 208.3 1360 215C1383.3 221.7 1413.3 233.3 1440 245C1466.7 256.7 1493.3 268.3 1520 285C1546.7 301.7 1575 323.3 1600 345C1625 366.7 1648.3 390.8 1670 415C1691.7 439.2 1710.8 464.2 1730 490C1749.2 515.8 1769.2 541.7 1785 570C1800.8 598.3 1814.2 630 1825 660C1835.8 690 1843.8 723.3 1850 750C1856.2 776.7 1860.3 798.3 1862 820C1863.7 841.7 1863.7 861.7 1860 880C1856.3 898.3 1848.3 919.2 1840 930C1831.7 940.8 1818.3 950 1810 945C1801.7 940 1795 915.8 1790 900C1785 884.2 1785 861.7 1780 850C1775 838.3 1768.3 830 1760 830C1751.7 830 1741.7 843.3 1730 850C1718.3 856.7 1703.3 868.3 1690 870C1676.7 871.7 1661.7 868.3 1650 860C1638.3 851.7 1626.7 836.7 1620 820C1613.3 803.3 1613.3 780 1610 760C1606.7 740 1605 720 1600 700C1595 680 1588.3 658.3 1580 640C1571.7 621.7 1561.7 605 1550 590C1538.3 575 1523.3 561.7 1510 550C1496.7 538.3 1480 528.3 1470 520C1460 511.7 1446.7 505 1450 500C1453.3 495 1485 498.3 1490 490C1495 481.7 1488.3 463.3 1480 450C1471.7 436.7 1455 423.3 1440 410C1425 396.7 1408.3 381.7 1390 370C1371.7 358.3 1348.3 348.3 1330 340C1311.7 331.7 1298.3 325.8 1280 320C1261.7 314.2 1241.7 309.2 1220 305C1198.3 300.8 1173.3 297.5 1150 295C1126.7 292.5 1101.7 290 1080 290C1058.3 290 1040 293.3 1020 295C1000 296.7 980 300.8 960 300C940 299.2 916.7 296.7 900 290C883.3 283.3 871.7 271.7 860 260C848.3 248.3 838.3 233.3 830 220C821.7 206.7 815.8 195 810 180C804.2 165 791.7 140 795 130Z"/><path d="M465 850C463.3 843.3 487.5 830 500 820C512.5 810 525 795 540 790C555 785 575 786.7 590 790C605 793.3 621.7 801.7 630 810C638.3 818.3 643.3 831.7 640 840C636.7 848.3 623.3 855.8 610 860C596.7 864.2 576.7 865 560 865C543.3 865 525.8 862.5 510 860C494.2 857.5 466.7 856.7 465 850Z"/><path d="M230 950C232.5 945 245 938.3 260 940C275 941.7 300 954.2 320 960C340 965.8 363.3 976.7 380 975C396.7 973.3 403.3 955 420 950C436.7 945 460 943.3 480 945C500 946.7 520 959.2 540 960C560 960.8 580 948.3 600 950C620 951.7 641.7 961.7 660 970C678.3 978.3 699.2 990 710 1000C720.8 1010 725 1021.7 725 1030C725 1038.3 707.5 1041.7 710 1050C712.5 1058.3 730 1073.3 740 1080C750 1086.7 772.5 1085 770 1090C767.5 1095 749.2 1112.5 725 1110C700.8 1107.5 658.3 1085.8 625 1075C591.7 1064.2 558.3 1054.2 525 1045C491.7 1035.8 458.3 1028.3 425 1020C391.7 1011.7 355 1003.3 325 995C295 986.7 260.8 977.5 245 970C229.2 962.5 227.5 955 230 950Z"/><path d="M670 190C670 193.3 668.7 197.6 667.1 199.9C665.4 202.2 662.4 204 660 204C657.6 204 654.6 202.2 652.9 199.9C651.3 197.6 650 193.3 650 190C650 186.7 651.3 182.4 652.9 180.1C654.6 177.8 657.6 176 660 176C662.4 176 665.4 177.8 667.1 180.1C668.7 182.4 670 186.7 670 190Z"/></clipPath><g clip-path="url(#cpC3)"><path d="M115 800C115.3 785 116.2 761.7 122 740C127.8 718.3 137 695 150 670C163 645 181.7 618.3 200 590C218.3 561.7 240 530 260 500C280 470 300 440 320 410C340 380 360 348.3 380 320C400 291.7 418.3 265 440 240C461.7 215 486.7 190 510 170C533.3 150 555 134.2 580 120C605 105.8 632.5 93.7 660 85C687.5 76.3 714.2 71.2 745 68C775.8 64.8 811.7 64.7 845 66C878.3 67.3 911.7 71 945 76C978.3 81 1011.7 88.2 1045 96C1078.3 103.8 1111.7 113.5 1145 123C1178.3 132.5 1211.7 142.2 1245 153C1278.3 163.8 1311.7 174.7 1345 188C1378.3 201.3 1413.3 217.2 1445 233C1476.7 248.8 1506.7 264.3 1535 283C1563.3 301.7 1590 323 1615 345C1640 367 1663.3 390.8 1685 415C1706.7 439.2 1726.7 464.2 1745 490C1763.3 515.8 1780 541.7 1795 570C1810 598.3 1824.2 630 1835 660C1845.8 690 1854.2 723.3 1860 750C1865.8 776.7 1868.8 798.3 1870 820C1871.2 841.7 1870.7 860 1867 880C1863.3 900 1857.2 921.7 1848 940C1838.8 958.3 1828 975 1812 990C1796 1005 1775.3 1019.2 1752 1030C1728.7 1040.8 1702 1048.3 1672 1055C1642 1061.7 1605.3 1066.7 1572 1070C1538.7 1073.3 1502 1072.5 1472 1075C1442 1077.5 1414.8 1080.8 1392 1085C1369.2 1089.2 1350.3 1092.5 1335 1100C1319.7 1107.5 1310 1118.3 1300 1130C1290 1141.7 1283.3 1155.8 1275 1170C1266.7 1184.2 1260 1202.5 1250 1215C1240 1227.5 1230.8 1237.8 1215 1245C1199.2 1252.2 1176.7 1258 1155 1258C1133.3 1258 1110 1252.2 1085 1245C1060 1237.8 1031.7 1225.8 1005 1215C978.3 1204.2 955 1192.5 925 1180C895 1167.5 858.3 1153.3 825 1140C791.7 1126.7 758.3 1112.5 725 1100C691.7 1087.5 658.3 1075.8 625 1065C591.7 1054.2 558.3 1044.2 525 1035C491.7 1025.8 458.3 1018.3 425 1010C391.7 1001.7 355 994.2 325 985C295 975.8 268.3 965.8 245 955C221.7 944.2 202.5 934.2 185 920C167.5 905.8 150.8 885 140 870C129.2 855 124.2 841.7 120 830C115.8 818.3 114.7 815 115 800Z" fill="#888888"/><path d="M690 130C720 200 780 260 880 300C1000 340 1150 320 1250 330C1350 350 1430 420 1470 490" fill="none" stroke="#5c5c5c" stroke-width="65" stroke-linecap="round" stroke-linejoin="round" filter="url(#b3)"/><path d="M680 640C780 540 900 500 1050 490C1200 480 1350 520 1450 580C1520 630 1560 680 1570 710" fill="none" stroke="#5c5c5c" stroke-width="42" stroke-linecap="round" stroke-linejoin="round" filter="url(#b3)"/><path d="M680 800C720 880 800 960 900 1020C1000 1070 1150 1060 1280 1040" fill="none" stroke="#5c5c5c" stroke-width="85" stroke-linecap="round" stroke-linejoin="round" filter="url(#b3)"/><path d="M860 800C920 740 1020 730 1100 740C1160 760 1200 810 1210 860" fill="none" stroke="#5c5c5c" stroke-width="45" stroke-linecap="round" stroke-linejoin="round" filter="url(#b3)"/><path d="M200 820C300 760 400 730 520 740" fill="none" stroke="#5c5c5c" stroke-width="70" stroke-linecap="round" stroke-linejoin="round" filter="url(#b3)"/><path d="M450 870C550 865 620 870 660 885" fill="none" stroke="#5c5c5c" stroke-width="28" stroke-linecap="round" stroke-linejoin="round" filter="url(#b3)"/><path d="M1330 960C1450 930 1600 900 1750 850" fill="none" stroke="#5c5c5c" stroke-width="70" stroke-linecap="round" stroke-linejoin="round" filter="url(#b3)"/><path d="M440 930C480 940 520 950 560 960" fill="none" stroke="#5c5c5c" stroke-width="20" stroke-linecap="round" stroke-linejoin="round" filter="url(#b3)"/><path d="M965 160L966 161" fill="none" stroke="#5c5c5c" stroke-width="45" stroke-linecap="round" stroke-linejoin="round" filter="url(#b3)"/><path d="M1120 170L1121 171" fill="none" stroke="#5c5c5c" stroke-width="45" stroke-linecap="round" stroke-linejoin="round" filter="url(#b3)"/><path d="M1240 240L1260 245" fill="none" stroke="#5c5c5c" stroke-width="55" stroke-linecap="round" stroke-linejoin="round" filter="url(#b3)"/><path d="M700 1050C800 1100 900 1140 1000 1170" fill="none" stroke="#5c5c5c" stroke-width="40" stroke-linecap="round" stroke-linejoin="round" filter="url(#b3)"/><g clip-path="url(#coC3)"><rect x="-100" y="-100" width="2200" height="1600" fill="#f37a03"/><path d="M880 220C1000 240 1100 250 1200 270" fill="none" stroke="#ee1c00" stroke-opacity="0.75" stroke-width="60" stroke-linecap="round" filter="url(#b20)"/><path d="M1380 290C1550 370 1700 500 1790 650C1780 720 1720 780 1680 800" fill="none" stroke="#ee1c00" stroke-opacity="0.7" stroke-width="90" stroke-linecap="round" filter="url(#b20)"/><path d="M380 500C450 350 600 300 700 330C800 370 880 390 980 392" fill="none" stroke="#ee1c00" stroke-opacity="0.65" stroke-width="80" stroke-linecap="round" filter="url(#b20)"/><path d="M300 580C380 620 440 640 500 660" fill="none" stroke="#ee1c00" stroke-opacity="0.4" stroke-width="60" stroke-linecap="round" filter="url(#b20)"/><ellipse cx="650" cy="320" rx="70" ry="45" fill="#ee1c00" fill-opacity="0.9" filter="url(#b20)"/><ellipse cx="900" cy="392" rx="80" ry="25" fill="#ee1c00" fill-opacity="1" filter="url(#b20)"/><ellipse cx="500" cy="400" rx="110" ry="90" fill="#ee1c00" fill-opacity="0.6" filter="url(#b20)"/><ellipse cx="950" cy="240" rx="70" ry="40" fill="#ee1c00" fill-opacity="0.8" filter="url(#b20)"/><ellipse cx="1120" cy="250" rx="70" ry="30" fill="#ee1c00" fill-opacity="0.8" filter="url(#b20)"/><ellipse cx="1450" cy="330" rx="110" ry="50" fill="#ee1c00" fill-opacity="0.7" filter="url(#b20)"/><ellipse cx="1620" cy="450" rx="90" ry="90" fill="#ee1c00" fill-opacity="0.8" filter="url(#b20)"/><ellipse cx="1770" cy="610" rx="50" ry="100" fill="#ee1c00" fill-opacity="0.9" filter="url(#b20)"/><ellipse cx="1680" cy="770" rx="45" ry="70" fill="#ee1c00" fill-opacity="0.8" filter="url(#b20)"/><ellipse cx="580" cy="1010" rx="90" ry="35" fill="#ee1c00" fill-opacity="0.8" filter="url(#b20)"/><ellipse cx="560" cy="830" rx="40" ry="20" fill="#ee1c00" fill-opacity="0.6" filter="url(#b20)"/><ellipse cx="450" cy="650" rx="60" ry="40" fill="#ee1c00" fill-opacity="0.5" filter="url(#b20)"/></g><path d="M115 800C115.3 785 116.2 761.7 122 740C127.8 718.3 137 695 150 670C163 645 181.7 618.3 200 590C218.3 561.7 240 530 260 500C280 470 300 440 320 410C340 380 360 348.3 380 320C400 291.7 418.3 265 440 240C461.7 215 486.7 190 510 170C533.3 150 555 134.2 580 120C605 105.8 632.5 93.7 660 85C687.5 76.3 714.2 71.2 745 68C775.8 64.8 811.7 64.7 845 66C878.3 67.3 911.7 71 945 76C978.3 81 1011.7 88.2 1045 96C1078.3 103.8 1111.7 113.5 1145 123C1178.3 132.5 1211.7 142.2 1245 153C1278.3 163.8 1311.7 174.7 1345 188C1378.3 201.3 1413.3 217.2 1445 233C1476.7 248.8 1506.7 264.3 1535 283C1563.3 301.7 1590 323 1615 345C1640 367 1663.3 390.8 1685 415C1706.7 439.2 1726.7 464.2 1745 490C1763.3 515.8 1780 541.7 1795 570C1810 598.3 1824.2 630 1835 660C1845.8 690 1854.2 723.3 1860 750C1865.8 776.7 1868.8 798.3 1870 820C1871.2 841.7 1870.7 860 1867 880C1863.3 900 1857.2 921.7 1848 940C1838.8 958.3 1828 975 1812 990C1796 1005 1775.3 1019.2 1752 1030C1728.7 1040.8 1702 1048.3 1672 1055C1642 1061.7 1605.3 1066.7 1572 1070C1538.7 1073.3 1502 1072.5 1472 1075C1442 1077.5 1414.8 1080.8 1392 1085C1369.2 1089.2 1350.3 1092.5 1335 1100C1319.7 1107.5 1310 1118.3 1300 1130C1290 1141.7 1283.3 1155.8 1275 1170C1266.7 1184.2 1260 1202.5 1250 1215C1240 1227.5 1230.8 1237.8 1215 1245C1199.2 1252.2 1176.7 1258 1155 1258C1133.3 1258 1110 1252.2 1085 1245C1060 1237.8 1031.7 1225.8 1005 1215C978.3 1204.2 955 1192.5 925 1180C895 1167.5 858.3 1153.3 825 1140C791.7 1126.7 758.3 1112.5 725 1100C691.7 1087.5 658.3 1075.8 625 1065C591.7 1054.2 558.3 1044.2 525 1035C491.7 1025.8 458.3 1018.3 425 1010C391.7 1001.7 355 994.2 325 985C295 975.8 268.3 965.8 245 955C221.7 944.2 202.5 934.2 185 920C167.5 905.8 150.8 885 140 870C129.2 855 124.2 841.7 120 830C115.8 818.3 114.7 815 115 800Z" transform="translate(0 -12)" fill="none" stroke="url(#rg2)" stroke-opacity="0.3" stroke-width="160" filter="url(#b40)"/><path d="M115 800C115.3 785 116.2 761.7 122 740C127.8 718.3 137 695 150 670C163 645 181.7 618.3 200 590C218.3 561.7 240 530 260 500C280 470 300 440 320 410C340 380 360 348.3 380 320C400 291.7 418.3 265 440 240C461.7 215 486.7 190 510 170C533.3 150 555 134.2 580 120C605 105.8 632.5 93.7 660 85C687.5 76.3 714.2 71.2 745 68C775.8 64.8 811.7 64.7 845 66C878.3 67.3 911.7 71 945 76C978.3 81 1011.7 88.2 1045 96C1078.3 103.8 1111.7 113.5 1145 123C1178.3 132.5 1211.7 142.2 1245 153C1278.3 163.8 1311.7 174.7 1345 188C1378.3 201.3 1413.3 217.2 1445 233C1476.7 248.8 1506.7 264.3 1535 283C1563.3 301.7 1590 323 1615 345C1640 367 1663.3 390.8 1685 415C1706.7 439.2 1726.7 464.2 1745 490C1763.3 515.8 1780 541.7 1795 570C1810 598.3 1824.2 630 1835 660C1845.8 690 1854.2 723.3 1860 750C1865.8 776.7 1868.8 798.3 1870 820C1871.2 841.7 1870.7 860 1867 880C1863.3 900 1857.2 921.7 1848 940C1838.8 958.3 1828 975 1812 990C1796 1005 1775.3 1019.2 1752 1030C1728.7 1040.8 1702 1048.3 1672 1055C1642 1061.7 1605.3 1066.7 1572 1070C1538.7 1073.3 1502 1072.5 1472 1075C1442 1077.5 1414.8 1080.8 1392 1085C1369.2 1089.2 1350.3 1092.5 1335 1100C1319.7 1107.5 1310 1118.3 1300 1130C1290 1141.7 1283.3 1155.8 1275 1170C1266.7 1184.2 1260 1202.5 1250 1215C1240 1227.5 1230.8 1237.8 1215 1245C1199.2 1252.2 1176.7 1258 1155 1258C1133.3 1258 1110 1252.2 1085 1245C1060 1237.8 1031.7 1225.8 1005 1215C978.3 1204.2 955 1192.5 925 1180C895 1167.5 858.3 1153.3 825 1140C791.7 1126.7 758.3 1112.5 725 1100C691.7 1087.5 658.3 1075.8 625 1065C591.7 1054.2 558.3 1044.2 525 1035C491.7 1025.8 458.3 1018.3 425 1010C391.7 1001.7 355 994.2 325 985C295 975.8 268.3 965.8 245 955C221.7 944.2 202.5 934.2 185 920C167.5 905.8 150.8 885 140 870C129.2 855 124.2 841.7 120 830C115.8 818.3 114.7 815 115 800Z" transform="translate(0 -6)" fill="none" stroke="url(#rg2)" stroke-opacity="0.6" stroke-width="42" filter="url(#b20)"/></g><path d="M115 800C115.3 785 116.2 761.7 122 740C127.8 718.3 137 695 150 670C163 645 181.7 618.3 200 590C218.3 561.7 240 530 260 500C280 470 300 440 320 410C340 380 360 348.3 380 320C400 291.7 418.3 265 440 240C461.7 215 486.7 190 510 170C533.3 150 555 134.2 580 120C605 105.8 632.5 93.7 660 85C687.5 76.3 714.2 71.2 745 68C775.8 64.8 811.7 64.7 845 66C878.3 67.3 911.7 71 945 76C978.3 81 1011.7 88.2 1045 96C1078.3 103.8 1111.7 113.5 1145 123C1178.3 132.5 1211.7 142.2 1245 153C1278.3 163.8 1311.7 174.7 1345 188C1378.3 201.3 1413.3 217.2 1445 233C1476.7 248.8 1506.7 264.3 1535 283C1563.3 301.7 1590 323 1615 345C1640 367 1663.3 390.8 1685 415C1706.7 439.2 1726.7 464.2 1745 490C1763.3 515.8 1780 541.7 1795 570C1810 598.3 1824.2 630 1835 660C1845.8 690 1854.2 723.3 1860 750C1865.8 776.7 1868.8 798.3 1870 820C1871.2 841.7 1870.7 860 1867 880C1863.3 900 1857.2 921.7 1848 940C1838.8 958.3 1828 975 1812 990C1796 1005 1775.3 1019.2 1752 1030C1728.7 1040.8 1702 1048.3 1672 1055C1642 1061.7 1605.3 1066.7 1572 1070C1538.7 1073.3 1502 1072.5 1472 1075C1442 1077.5 1414.8 1080.8 1392 1085C1369.2 1089.2 1350.3 1092.5 1335 1100C1319.7 1107.5 1310 1118.3 1300 1130C1290 1141.7 1283.3 1155.8 1275 1170C1266.7 1184.2 1260 1202.5 1250 1215C1240 1227.5 1230.8 1237.8 1215 1245C1199.2 1252.2 1176.7 1258 1155 1258C1133.3 1258 1110 1252.2 1085 1245C1060 1237.8 1031.7 1225.8 1005 1215C978.3 1204.2 955 1192.5 925 1180C895 1167.5 858.3 1153.3 825 1140C791.7 1126.7 758.3 1112.5 725 1100C691.7 1087.5 658.3 1075.8 625 1065C591.7 1054.2 558.3 1044.2 525 1035C491.7 1025.8 458.3 1018.3 425 1010C391.7 1001.7 355 994.2 325 985C295 975.8 268.3 965.8 245 955C221.7 944.2 202.5 934.2 185 920C167.5 905.8 150.8 885 140 870C129.2 855 124.2 841.7 120 830C115.8 818.3 114.7 815 115 800Z" fill="none" stroke="#000" stroke-opacity="0.7" stroke-width="5"/></g>
<g transform="translate(1735 15) scale(0.13430)"><clipPath id="cpC4"><path d="M85 800C85 783.3 85.8 763.3 90 740C94.2 716.7 100.8 686.7 110 660C119.2 633.3 130.8 606.7 145 580C159.2 553.3 176.7 526.7 195 500C213.3 473.3 233.3 445 255 420C276.7 395 300 372.5 325 350C350 327.5 376.7 305 405 285C433.3 265 463.3 247.5 495 230C526.7 212.5 561.7 195 595 180C628.3 165 661.7 151.7 695 140C728.3 128.3 761.7 119.2 795 110C828.3 100.8 861.7 92 895 85C928.3 78 963.3 72.5 995 68C1026.7 63.5 1055 59.3 1085 58C1115 56.7 1146.7 57.7 1175 60C1203.3 62.3 1230 65.7 1255 72C1280 78.3 1301.7 87 1325 98C1348.3 109 1373.3 123 1395 138C1416.7 153 1435 168.8 1455 188C1475 207.2 1495 228.8 1515 253C1535 277.2 1555 305.5 1575 333C1595 360.5 1615 388.8 1635 418C1655 447.2 1676.7 479.7 1695 508C1713.3 536.3 1730 563 1745 588C1760 613 1773.3 636.3 1785 658C1796.7 679.7 1805.8 697.7 1815 718C1824.2 738.3 1834.2 761.3 1840 780C1845.8 798.7 1850.3 813.3 1850 830C1849.7 846.7 1845.5 864.2 1838 880C1830.5 895.8 1820.5 911.7 1805 925C1789.5 938.3 1768.3 950 1745 960C1721.7 970 1695 976.7 1665 985C1635 993.3 1598.3 1001.7 1565 1010C1531.7 1018.3 1498.3 1025.8 1465 1035C1431.7 1044.2 1398.3 1054.2 1365 1065C1331.7 1075.8 1298.3 1087.5 1265 1100C1231.7 1112.5 1198.3 1126.7 1165 1140C1131.7 1153.3 1096.7 1166.7 1065 1180C1033.3 1193.3 1003.3 1208.7 975 1220C946.7 1231.3 920 1242.2 895 1248C870 1253.8 845 1256.3 825 1255C805 1253.7 790 1248.3 775 1240C760 1231.7 746.7 1218.3 735 1205C723.3 1191.7 715 1175 705 1160C695 1145 686.7 1127.5 675 1115C663.3 1102.5 651.7 1091.7 635 1085C618.3 1078.3 598.3 1077.5 575 1075C551.7 1072.5 525 1072.5 495 1070C465 1067.5 426.7 1065 395 1060C363.3 1055 333.3 1049.2 305 1040C276.7 1030.8 248.3 1019.2 225 1005C201.7 990.8 183.3 974.2 165 955C146.7 935.8 127.5 909.2 115 890C102.5 870.8 95 855 90 840C85 825 85 816.7 85 800Z"/></clipPath><clipPath id="coC4"><path d="M160 960C145 946.7 123 915 110 895C97 875 87.3 855.8 82 840C76.7 824.2 77.7 816.7 78 800C78.3 783.3 79.7 763.3 84 740C88.3 716.7 94.8 687 104 660C113.2 633 124.8 605.2 139 578C153.2 550.8 170.7 524 189 497C207.3 470 227.3 441.3 249 416C270.7 390.7 293.8 367.7 319 345C344.2 322.3 371.5 300.2 400 280C428.5 259.8 458.3 241.7 490 224C521.7 206.3 568.3 179.7 590 174C611.7 168.3 601.7 188.2 620 190C638.3 191.8 670 186.7 700 185C730 183.3 766.7 181.7 800 180C833.3 178.3 866.7 179.2 900 175C933.3 170.8 970 162.5 1000 155C1030 147.5 1055 137.5 1080 130C1105 122.5 1130 115 1150 110C1170 105 1188.3 106.7 1200 100C1211.7 93.3 1210 76.3 1220 70C1230 63.7 1241.7 58.7 1260 62C1278.3 65.3 1323.3 77 1330 90C1336.7 103 1300 125 1300 140C1300 155 1316.7 168.3 1330 180C1343.3 191.7 1361.7 204.2 1380 210C1398.3 215.8 1423.3 210 1440 215C1456.7 220 1466.7 227.5 1480 240C1493.3 252.5 1508.3 273.3 1520 290C1531.7 306.7 1543.3 323.3 1550 340C1556.7 356.7 1560.8 373.3 1560 390C1559.2 406.7 1551.7 423.3 1545 440C1538.3 456.7 1530.8 473.3 1520 490C1509.2 506.7 1489.2 525 1480 540C1470.8 555 1463.3 568.3 1465 580C1466.7 591.7 1477.5 605.8 1490 610C1502.5 614.2 1521.7 606.7 1540 605C1558.3 603.3 1588.3 595.8 1600 600C1611.7 604.2 1613.3 618.3 1610 630C1606.7 641.7 1593.3 660 1580 670C1566.7 680 1546.7 685 1530 690C1513.3 695 1496.7 695.8 1480 700C1463.3 704.2 1441.7 718.3 1430 715C1418.3 711.7 1418.3 690.8 1410 680C1401.7 669.2 1391.7 660 1380 650C1368.3 640 1353.3 631.7 1340 620C1326.7 608.3 1313.3 593.3 1300 580C1286.7 566.7 1273.3 553.3 1260 540C1246.7 526.7 1233.3 511.7 1220 500C1206.7 488.3 1196.7 480 1180 470C1163.3 460 1141.7 448.3 1120 440C1098.3 431.7 1073.3 425.8 1050 420C1026.7 414.2 1005 409.2 980 405C955 400.8 925 395.8 900 395C875 394.2 851.7 400 830 400C808.3 400 786.7 391.7 770 395C753.3 398.3 743.3 412.5 730 420C716.7 427.5 705 435 690 440C675 445 656.7 445 640 450C623.3 455 606.7 463.3 590 470C573.3 476.7 556.7 481.7 540 490C523.3 498.3 505 508.3 490 520C475 531.7 465 545 450 560C435 575 415 593.3 400 610C385 626.7 370 645 360 660C350 675 346.7 686.7 340 700C333.3 713.3 330 730 320 740C310 750 293.3 760 280 760C266.7 760 251.7 745 240 740C228.3 735 218.3 725 210 730C201.7 735 191.7 753.3 190 770C188.3 786.7 195.8 811.7 200 830C204.2 848.3 208.3 863.3 215 880C221.7 896.7 230.8 915 240 930C249.2 945 268.3 960 270 970C271.7 980 261.7 989.2 250 990C238.3 990.8 215 980 200 975C185 970 175 973.3 160 960Z"/><path d="M1575 440C1574.2 428.3 1582.5 416.7 1590 410C1597.5 403.3 1610 395 1620 400C1630 405 1641.7 423.3 1650 440C1658.3 456.7 1663.3 480 1670 500C1676.7 520 1685.8 541.7 1690 560C1694.2 578.3 1698.3 598.3 1695 610C1691.7 621.7 1679.2 630 1670 630C1660.8 630 1650 618.3 1640 610C1630 601.7 1615.8 593.3 1610 580C1604.2 566.7 1607.5 546.7 1605 530C1602.5 513.3 1600 495 1595 480C1590 465 1575.8 451.7 1575 440Z"/><path d="M1260 830C1261.7 821.7 1280 812.5 1290 810C1300 807.5 1313.3 808.3 1320 815C1326.7 821.7 1323.3 842.5 1330 850C1336.7 857.5 1355 855 1360 860C1365 865 1366.7 875 1360 880C1353.3 885 1331.7 889.2 1320 890C1308.3 890.8 1296.7 890 1290 885C1283.3 880 1285 869.2 1280 860C1275 850.8 1258.3 838.3 1260 830Z"/><path d="M1230 1010C1230 1004.2 1245 990.8 1260 985C1275 979.2 1300 982.5 1320 975C1340 967.5 1360 948.3 1380 940C1400 931.7 1416.7 929.2 1440 925C1463.3 920.8 1493.3 915.8 1520 915C1546.7 914.2 1573.3 917.5 1600 920C1626.7 922.5 1656.7 930.8 1680 930C1703.3 929.2 1721.7 920.8 1740 915C1758.3 909.2 1783.3 891.7 1790 895C1796.7 898.3 1790.8 922.5 1780 935C1769.2 947.5 1744.2 960 1725 970C1705.8 980 1691.7 985.8 1665 995C1638.3 1004.2 1598.3 1015.8 1565 1025C1531.7 1034.2 1498.3 1040.8 1465 1050C1431.7 1059.2 1398.3 1069.2 1365 1080C1331.7 1090.8 1292.5 1112.5 1265 1115C1237.5 1117.5 1202.5 1104.2 1200 1095C1197.5 1085.8 1233.3 1070.8 1250 1060C1266.7 1049.2 1298.3 1036.7 1300 1030C1301.7 1023.3 1271.7 1023.3 1260 1020C1248.3 1016.7 1230 1015.8 1230 1010Z"/><path d="M539.8 1035.7C539.3 1040.8 530.5 1046.8 519.4 1049.5C508.3 1052.2 488.3 1053.3 473.1 1051.9C457.8 1050.6 438.3 1046.1 427.9 1041.5C417.4 1036.9 409.8 1029.5 410.2 1024.3C410.7 1019.2 419.5 1013.2 430.6 1010.5C441.7 1007.8 461.7 1006.7 476.9 1008.1C492.2 1009.4 511.7 1013.9 522.1 1018.5C532.6 1023.1 540.2 1030.5 539.8 1035.7Z"/></clipPath><g clip-path="url(#cpC4)"><path d="M85 800C85 783.3 85.8 763.3 90 740C94.2 716.7 100.8 686.7 110 660C119.2 633.3 130.8 606.7 145 580C159.2 553.3 176.7 526.7 195 500C213.3 473.3 233.3 445 255 420C276.7 395 300 372.5 325 350C350 327.5 376.7 305 405 285C433.3 265 463.3 247.5 495 230C526.7 212.5 561.7 195 595 180C628.3 165 661.7 151.7 695 140C728.3 128.3 761.7 119.2 795 110C828.3 100.8 861.7 92 895 85C928.3 78 963.3 72.5 995 68C1026.7 63.5 1055 59.3 1085 58C1115 56.7 1146.7 57.7 1175 60C1203.3 62.3 1230 65.7 1255 72C1280 78.3 1301.7 87 1325 98C1348.3 109 1373.3 123 1395 138C1416.7 153 1435 168.8 1455 188C1475 207.2 1495 228.8 1515 253C1535 277.2 1555 305.5 1575 333C1595 360.5 1615 388.8 1635 418C1655 447.2 1676.7 479.7 1695 508C1713.3 536.3 1730 563 1745 588C1760 613 1773.3 636.3 1785 658C1796.7 679.7 1805.8 697.7 1815 718C1824.2 738.3 1834.2 761.3 1840 780C1845.8 798.7 1850.3 813.3 1850 830C1849.7 846.7 1845.5 864.2 1838 880C1830.5 895.8 1820.5 911.7 1805 925C1789.5 938.3 1768.3 950 1745 960C1721.7 970 1695 976.7 1665 985C1635 993.3 1598.3 1001.7 1565 1010C1531.7 1018.3 1498.3 1025.8 1465 1035C1431.7 1044.2 1398.3 1054.2 1365 1065C1331.7 1075.8 1298.3 1087.5 1265 1100C1231.7 1112.5 1198.3 1126.7 1165 1140C1131.7 1153.3 1096.7 1166.7 1065 1180C1033.3 1193.3 1003.3 1208.7 975 1220C946.7 1231.3 920 1242.2 895 1248C870 1253.8 845 1256.3 825 1255C805 1253.7 790 1248.3 775 1240C760 1231.7 746.7 1218.3 735 1205C723.3 1191.7 715 1175 705 1160C695 1145 686.7 1127.5 675 1115C663.3 1102.5 651.7 1091.7 635 1085C618.3 1078.3 598.3 1077.5 575 1075C551.7 1072.5 525 1072.5 495 1070C465 1067.5 426.7 1065 395 1060C363.3 1055 333.3 1049.2 305 1040C276.7 1030.8 248.3 1019.2 225 1005C201.7 990.8 183.3 974.2 165 955C146.7 935.8 127.5 909.2 115 890C102.5 870.8 95 855 90 840C85 825 85 816.7 85 800Z" fill="#888888"/><path d="M360 770C380 680 440 600 560 540C700 490 900 480 1050 510C1160 540 1240 580 1270 640" fill="none" stroke="#5c5c5c" stroke-width="46" stroke-linecap="round" stroke-linejoin="round" filter="url(#b3)"/><path d="M910 730C1000 720 1080 740 1150 790C1200 830 1230 860 1240 900C1200 960 1100 1000 1000 1030C900 1050 800 1050 680 1055" fill="none" stroke="#5c5c5c" stroke-width="75" stroke-linecap="round" stroke-linejoin="round" filter="url(#b3)"/><path d="M210 760C220 840 260 900 330 950C380 970 430 985 470 990" fill="none" stroke="#5c5c5c" stroke-width="80" stroke-linecap="round" stroke-linejoin="round" filter="url(#b3)"/><path d="M1330 830C1400 780 1450 730 1560 720C1650 720 1720 770 1780 810" fill="none" stroke="#5c5c5c" stroke-width="75" stroke-linecap="round" stroke-linejoin="round" filter="url(#b3)"/><path d="M1480 580C1540 540 1570 480 1580 410" fill="none" stroke="#5c5c5c" stroke-width="70" stroke-linecap="round" stroke-linejoin="round" filter="url(#b3)"/><path d="M1010 1180C1100 1130 1200 1080 1280 1020" fill="none" stroke="#5c5c5c" stroke-width="50" stroke-linecap="round" stroke-linejoin="round" filter="url(#b3)"/><path d="M800 790L820 775" fill="none" stroke="#5c5c5c" stroke-width="12" stroke-linecap="round" stroke-linejoin="round" filter="url(#b3)"/><path d="M1380 720C1400 680 1400 660 1390 640" fill="none" stroke="#5c5c5c" stroke-width="50" stroke-linecap="round" stroke-linejoin="round" filter="url(#b3)"/><g clip-path="url(#coC4)"><rect x="-100" y="-100" width="2200" height="1600" fill="#f37a03"/><path d="M180 700C240 450 480 310 700 280C850 260 1000 220 1100 190" fill="none" stroke="#ee1c00" stroke-opacity="0.8" stroke-width="90" stroke-linecap="round" filter="url(#b20)"/><path d="M1300 260C1400 300 1450 350 1480 420C1400 480 1300 470 1200 430" fill="none" stroke="#ee1c00" stroke-opacity="0.65" stroke-width="100" stroke-linecap="round" filter="url(#b20)"/><path d="M1300 1000C1400 960 1500 950 1650 950" fill="none" stroke="#ee1c00" stroke-opacity="0.6" stroke-width="40" stroke-linecap="round" filter="url(#b20)"/><ellipse cx="220" cy="600" rx="90" ry="110" fill="#ee1c00" fill-opacity="1" filter="url(#b20)"/><ellipse cx="400" cy="430" rx="90" ry="55" fill="#ee1c00" fill-opacity="0.9" filter="url(#b20)"/><ellipse cx="520" cy="310" rx="70" ry="55" fill="#ee1c00" fill-opacity="1" filter="url(#b20)"/><ellipse cx="690" cy="290" rx="80" ry="50" fill="#ee1c00" fill-opacity="1" filter="url(#b20)"/><ellipse cx="880" cy="250" rx="110" ry="40" fill="#ee1c00" fill-opacity="0.8" filter="url(#b20)"/><ellipse cx="1040" cy="215" rx="70" ry="45" fill="#ee1c00" fill-opacity="1" filter="url(#b20)"/><ellipse cx="1400" cy="320" rx="110" ry="90" fill="#ee1c00" fill-opacity="0.7" filter="url(#b20)"/><ellipse cx="1460" cy="380" rx="60" ry="60" fill="#ee1c00" fill-opacity="0.9" filter="url(#b20)"/><ellipse cx="1250" cy="440" rx="60" ry="45" fill="#ee1c00" fill-opacity="0.85" filter="url(#b20)"/><ellipse cx="1450" cy="960" rx="110" ry="25" fill="#ee1c00" fill-opacity="0.8" filter="url(#b20)"/><ellipse cx="300" cy="500" rx="70" ry="70" fill="#ee1c00" fill-opacity="0.8" filter="url(#b20)"/><ellipse cx="150" cy="780" rx="40" ry="80" fill="#ee1c00" fill-opacity="0.5" filter="url(#b20)"/></g><path d="M810 335C811.7 328.3 831.7 324.2 850 320C868.3 315.8 895 312.5 920 310C945 307.5 973.3 308.3 1000 305C1026.7 301.7 1058.3 296.7 1080 290C1101.7 283.3 1116.7 276.7 1130 265C1143.3 253.3 1152.5 235.8 1160 220C1167.5 204.2 1168.3 184.2 1175 170C1181.7 155.8 1191.7 136.7 1200 135C1208.3 133.3 1216.7 149.2 1225 160C1233.3 170.8 1240.8 188.3 1250 200C1259.2 211.7 1278.3 218.3 1280 230C1281.7 241.7 1266.7 256.7 1260 270C1253.3 283.3 1250 299.2 1240 310C1230 320.8 1216.7 329.2 1200 335C1183.3 340.8 1163.3 342.5 1140 345C1116.7 347.5 1086.7 347.5 1060 350C1033.3 352.5 1006.7 357.5 980 360C953.3 362.5 923.3 365 900 365C876.7 365 855 365 840 360C825 355 808.3 341.7 810 335Z" fill="#5c5c5c"/><path d="M417.4 520.9C419.8 524.4 418.6 531.9 414.6 538.4C410.6 544.9 401.4 554.1 393.3 559.7C385.2 565.4 373.4 570.9 366 572.5C358.5 574 351 572.6 348.6 569.1C346.2 565.6 347.4 558.1 351.4 551.6C355.4 545.1 364.6 535.9 372.7 530.3C380.8 524.6 392.6 519.1 400 517.5C407.5 516 415 517.4 417.4 520.9Z" fill="#5c5c5c"/><path d="M564.1 410.6C565.2 412.1 560.4 418.5 553 425.3C545.6 432.1 531.2 443.4 519.6 451.6C508 459.7 492.4 469.3 483.5 474C474.5 478.6 466.9 481 465.9 479.4C464.8 477.9 469.6 471.5 477 464.7C484.4 457.9 498.8 446.6 510.4 438.4C522 430.3 537.6 420.7 546.5 416C555.5 411.4 563.1 409 564.1 410.6Z" fill="#5c5c5c"/><path d="M1470 570C1470 557.5 1488.3 541.7 1500 530C1511.7 518.3 1528.3 513.3 1540 500C1551.7 486.7 1561.7 453.3 1570 450C1578.3 446.7 1585 465 1590 480C1595 495 1598.3 521.7 1600 540C1601.7 558.3 1606.7 580 1600 590C1593.3 600 1576.7 597.5 1560 600C1543.3 602.5 1515 610 1500 605C1485 600 1470 582.5 1470 570Z" fill="#5c5c5c"/><path d="M85 800C85 783.3 85.8 763.3 90 740C94.2 716.7 100.8 686.7 110 660C119.2 633.3 130.8 606.7 145 580C159.2 553.3 176.7 526.7 195 500C213.3 473.3 233.3 445 255 420C276.7 395 300 372.5 325 350C350 327.5 376.7 305 405 285C433.3 265 463.3 247.5 495 230C526.7 212.5 561.7 195 595 180C628.3 165 661.7 151.7 695 140C728.3 128.3 761.7 119.2 795 110C828.3 100.8 861.7 92 895 85C928.3 78 963.3 72.5 995 68C1026.7 63.5 1055 59.3 1085 58C1115 56.7 1146.7 57.7 1175 60C1203.3 62.3 1230 65.7 1255 72C1280 78.3 1301.7 87 1325 98C1348.3 109 1373.3 123 1395 138C1416.7 153 1435 168.8 1455 188C1475 207.2 1495 228.8 1515 253C1535 277.2 1555 305.5 1575 333C1595 360.5 1615 388.8 1635 418C1655 447.2 1676.7 479.7 1695 508C1713.3 536.3 1730 563 1745 588C1760 613 1773.3 636.3 1785 658C1796.7 679.7 1805.8 697.7 1815 718C1824.2 738.3 1834.2 761.3 1840 780C1845.8 798.7 1850.3 813.3 1850 830C1849.7 846.7 1845.5 864.2 1838 880C1830.5 895.8 1820.5 911.7 1805 925C1789.5 938.3 1768.3 950 1745 960C1721.7 970 1695 976.7 1665 985C1635 993.3 1598.3 1001.7 1565 1010C1531.7 1018.3 1498.3 1025.8 1465 1035C1431.7 1044.2 1398.3 1054.2 1365 1065C1331.7 1075.8 1298.3 1087.5 1265 1100C1231.7 1112.5 1198.3 1126.7 1165 1140C1131.7 1153.3 1096.7 1166.7 1065 1180C1033.3 1193.3 1003.3 1208.7 975 1220C946.7 1231.3 920 1242.2 895 1248C870 1253.8 845 1256.3 825 1255C805 1253.7 790 1248.3 775 1240C760 1231.7 746.7 1218.3 735 1205C723.3 1191.7 715 1175 705 1160C695 1145 686.7 1127.5 675 1115C663.3 1102.5 651.7 1091.7 635 1085C618.3 1078.3 598.3 1077.5 575 1075C551.7 1072.5 525 1072.5 495 1070C465 1067.5 426.7 1065 395 1060C363.3 1055 333.3 1049.2 305 1040C276.7 1030.8 248.3 1019.2 225 1005C201.7 990.8 183.3 974.2 165 955C146.7 935.8 127.5 909.2 115 890C102.5 870.8 95 855 90 840C85 825 85 816.7 85 800Z" transform="translate(0 -12)" fill="none" stroke="url(#rg2)" stroke-opacity="0.3" stroke-width="160" filter="url(#b40)"/><path d="M85 800C85 783.3 85.8 763.3 90 740C94.2 716.7 100.8 686.7 110 660C119.2 633.3 130.8 606.7 145 580C159.2 553.3 176.7 526.7 195 500C213.3 473.3 233.3 445 255 420C276.7 395 300 372.5 325 350C350 327.5 376.7 305 405 285C433.3 265 463.3 247.5 495 230C526.7 212.5 561.7 195 595 180C628.3 165 661.7 151.7 695 140C728.3 128.3 761.7 119.2 795 110C828.3 100.8 861.7 92 895 85C928.3 78 963.3 72.5 995 68C1026.7 63.5 1055 59.3 1085 58C1115 56.7 1146.7 57.7 1175 60C1203.3 62.3 1230 65.7 1255 72C1280 78.3 1301.7 87 1325 98C1348.3 109 1373.3 123 1395 138C1416.7 153 1435 168.8 1455 188C1475 207.2 1495 228.8 1515 253C1535 277.2 1555 305.5 1575 333C1595 360.5 1615 388.8 1635 418C1655 447.2 1676.7 479.7 1695 508C1713.3 536.3 1730 563 1745 588C1760 613 1773.3 636.3 1785 658C1796.7 679.7 1805.8 697.7 1815 718C1824.2 738.3 1834.2 761.3 1840 780C1845.8 798.7 1850.3 813.3 1850 830C1849.7 846.7 1845.5 864.2 1838 880C1830.5 895.8 1820.5 911.7 1805 925C1789.5 938.3 1768.3 950 1745 960C1721.7 970 1695 976.7 1665 985C1635 993.3 1598.3 1001.7 1565 1010C1531.7 1018.3 1498.3 1025.8 1465 1035C1431.7 1044.2 1398.3 1054.2 1365 1065C1331.7 1075.8 1298.3 1087.5 1265 1100C1231.7 1112.5 1198.3 1126.7 1165 1140C1131.7 1153.3 1096.7 1166.7 1065 1180C1033.3 1193.3 1003.3 1208.7 975 1220C946.7 1231.3 920 1242.2 895 1248C870 1253.8 845 1256.3 825 1255C805 1253.7 790 1248.3 775 1240C760 1231.7 746.7 1218.3 735 1205C723.3 1191.7 715 1175 705 1160C695 1145 686.7 1127.5 675 1115C663.3 1102.5 651.7 1091.7 635 1085C618.3 1078.3 598.3 1077.5 575 1075C551.7 1072.5 525 1072.5 495 1070C465 1067.5 426.7 1065 395 1060C363.3 1055 333.3 1049.2 305 1040C276.7 1030.8 248.3 1019.2 225 1005C201.7 990.8 183.3 974.2 165 955C146.7 935.8 127.5 909.2 115 890C102.5 870.8 95 855 90 840C85 825 85 816.7 85 800Z" transform="translate(0 -6)" fill="none" stroke="url(#rg2)" stroke-opacity="0.6" stroke-width="42" filter="url(#b20)"/></g><path d="M85 800C85 783.3 85.8 763.3 90 740C94.2 716.7 100.8 686.7 110 660C119.2 633.3 130.8 606.7 145 580C159.2 553.3 176.7 526.7 195 500C213.3 473.3 233.3 445 255 420C276.7 395 300 372.5 325 350C350 327.5 376.7 305 405 285C433.3 265 463.3 247.5 495 230C526.7 212.5 561.7 195 595 180C628.3 165 661.7 151.7 695 140C728.3 128.3 761.7 119.2 795 110C828.3 100.8 861.7 92 895 85C928.3 78 963.3 72.5 995 68C1026.7 63.5 1055 59.3 1085 58C1115 56.7 1146.7 57.7 1175 60C1203.3 62.3 1230 65.7 1255 72C1280 78.3 1301.7 87 1325 98C1348.3 109 1373.3 123 1395 138C1416.7 153 1435 168.8 1455 188C1475 207.2 1495 228.8 1515 253C1535 277.2 1555 305.5 1575 333C1595 360.5 1615 388.8 1635 418C1655 447.2 1676.7 479.7 1695 508C1713.3 536.3 1730 563 1745 588C1760 613 1773.3 636.3 1785 658C1796.7 679.7 1805.8 697.7 1815 718C1824.2 738.3 1834.2 761.3 1840 780C1845.8 798.7 1850.3 813.3 1850 830C1849.7 846.7 1845.5 864.2 1838 880C1830.5 895.8 1820.5 911.7 1805 925C1789.5 938.3 1768.3 950 1745 960C1721.7 970 1695 976.7 1665 985C1635 993.3 1598.3 1001.7 1565 1010C1531.7 1018.3 1498.3 1025.8 1465 1035C1431.7 1044.2 1398.3 1054.2 1365 1065C1331.7 1075.8 1298.3 1087.5 1265 1100C1231.7 1112.5 1198.3 1126.7 1165 1140C1131.7 1153.3 1096.7 1166.7 1065 1180C1033.3 1193.3 1003.3 1208.7 975 1220C946.7 1231.3 920 1242.2 895 1248C870 1253.8 845 1256.3 825 1255C805 1253.7 790 1248.3 775 1240C760 1231.7 746.7 1218.3 735 1205C723.3 1191.7 715 1175 705 1160C695 1145 686.7 1127.5 675 1115C663.3 1102.5 651.7 1091.7 635 1085C618.3 1078.3 598.3 1077.5 575 1075C551.7 1072.5 525 1072.5 495 1070C465 1067.5 426.7 1065 395 1060C363.3 1055 333.3 1049.2 305 1040C276.7 1030.8 248.3 1019.2 225 1005C201.7 990.8 183.3 974.2 165 955C146.7 935.8 127.5 909.2 115 890C102.5 870.8 95 855 90 840C85 825 85 816.7 85 800Z" fill="none" stroke="#000" stroke-opacity="0.7" stroke-width="5"/></g>
</svg>
</body></html>
